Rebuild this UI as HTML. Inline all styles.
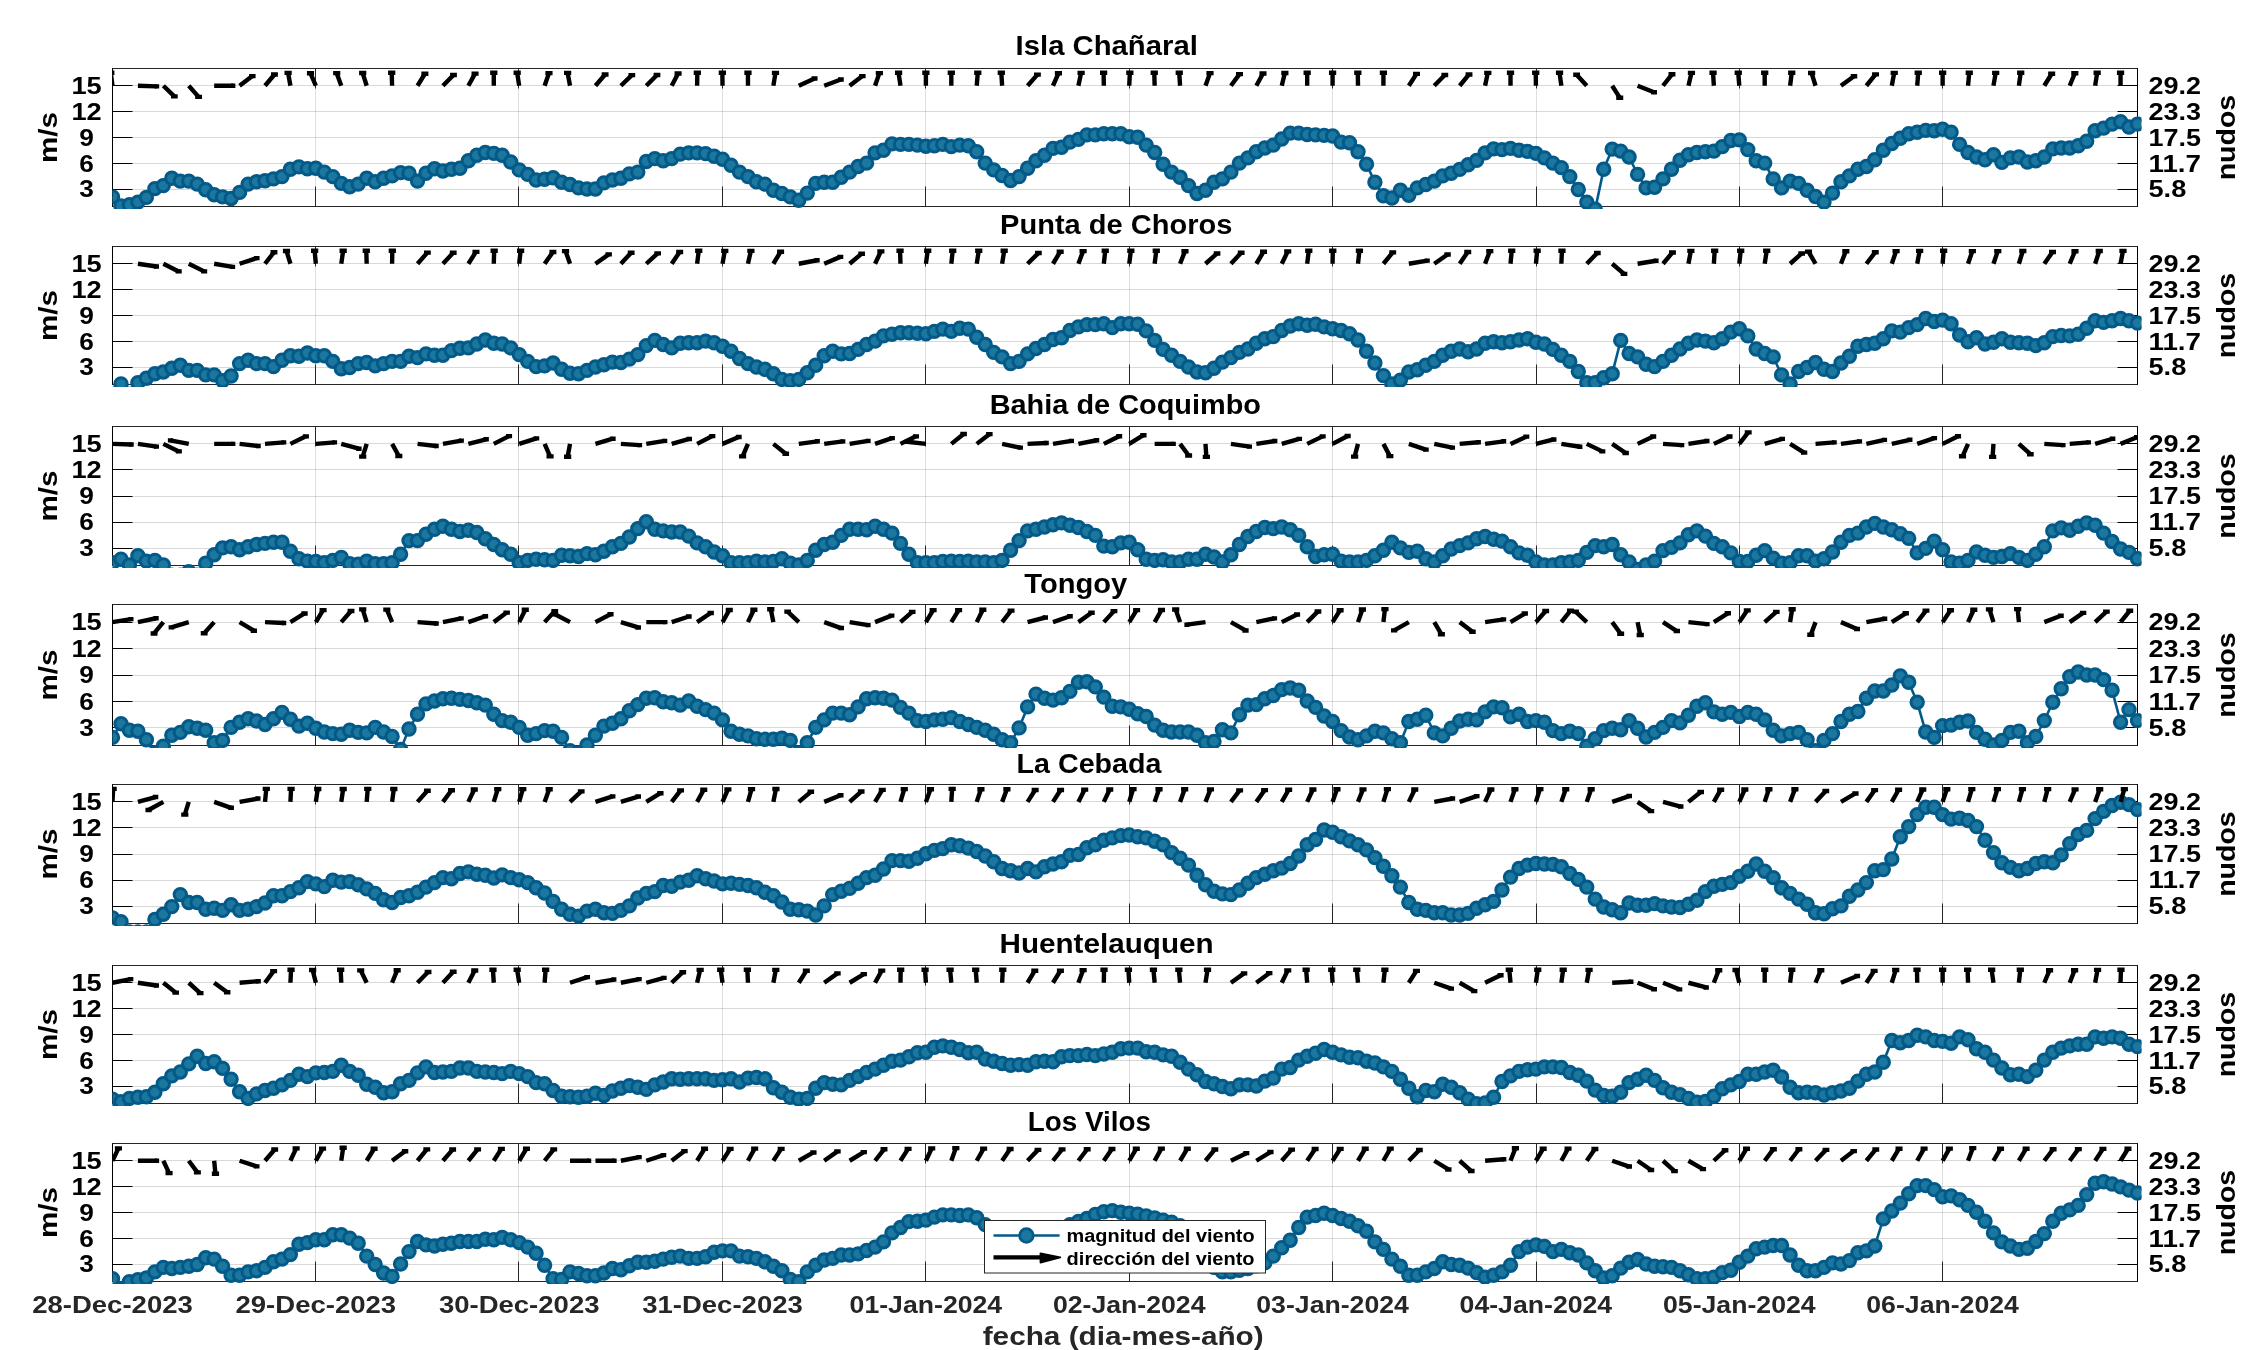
<!DOCTYPE html><html><head><meta charset="utf-8"><style>
html,body{margin:0;padding:0;background:#fff;width:2250px;height:1350px;overflow:hidden}
svg{display:block;will-change:transform}
text{font-family:"Liberation Sans",sans-serif;font-weight:bold}
.tk{font-size:23.7px;fill:#000}
.lb{font-size:26px;fill:#000}
.ti{font-size:27.6px;fill:#000}
.dt{font-size:23.3px;fill:#262626}
.xl{font-size:26px;fill:#262626}
.lg{font-size:17.5px;fill:#000}
</style></head><body><svg width="2250" height="1350" viewBox="0 0 2250 1350">
<defs>
<clipPath id="a0"><rect x="112.5" y="68.5" width="2025.0" height="138"/></clipPath>
<clipPath id="c0"><rect x="112.5" y="66.5" width="2029.0" height="142.5"/></clipPath>
<clipPath id="a1"><rect x="112.5" y="246.5" width="2025.0" height="138"/></clipPath>
<clipPath id="c1"><rect x="112.5" y="244.5" width="2029.0" height="142.5"/></clipPath>
<clipPath id="a2"><rect x="112.5" y="426.5" width="2025.0" height="139"/></clipPath>
<clipPath id="c2"><rect x="112.5" y="424.5" width="2029.0" height="143.5"/></clipPath>
<clipPath id="a3"><rect x="112.5" y="604.5" width="2025.0" height="141"/></clipPath>
<clipPath id="c3"><rect x="112.5" y="602.5" width="2029.0" height="145.5"/></clipPath>
<clipPath id="a4"><rect x="112.5" y="784.5" width="2025.0" height="139"/></clipPath>
<clipPath id="c4"><rect x="112.5" y="782.5" width="2029.0" height="143.5"/></clipPath>
<clipPath id="a5"><rect x="112.5" y="965.5" width="2025.0" height="138"/></clipPath>
<clipPath id="c5"><rect x="112.5" y="963.5" width="2029.0" height="142.5"/></clipPath>
<clipPath id="a6"><rect x="112.5" y="1143.5" width="2025.0" height="138"/></clipPath>
<clipPath id="c6"><rect x="112.5" y="1141.5" width="2029.0" height="142.5"/></clipPath>
</defs>
<rect width="2250" height="1350" fill="#fff"/>
<path d="M112.5 189.5H2137.5M112.5 163.5H2137.5M112.5 137.5H2137.5M112.5 111.5H2137.5M112.5 85.5H2137.5" stroke="#000" stroke-opacity="0.15" stroke-width="1" fill="none"/>
<path d="M315.5 68.5V206.5M518.5 68.5V206.5M722.5 68.5V206.5M925.5 68.5V206.5M1129.5 68.5V206.5M1332.5 68.5V206.5M1536.5 68.5V206.5M1739.5 68.5V206.5M1942.5 68.5V206.5" stroke="#262626" stroke-opacity="0.15" stroke-width="1" fill="none"/>
<path d="M112.0 68.5H2138.0M112.0 206.5H2138.0M112.5 206.5v-20M112.5 68.5v20M315.5 206.5v-20M315.5 68.5v20M518.5 206.5v-20M518.5 68.5v20M722.5 206.5v-20M722.5 68.5v20M925.5 206.5v-20M925.5 68.5v20M1129.5 206.5v-20M1129.5 68.5v20M1332.5 206.5v-20M1332.5 68.5v20M1536.5 206.5v-20M1536.5 68.5v20M1739.5 206.5v-20M1739.5 68.5v20M1942.5 206.5v-20M1942.5 68.5v20" stroke="#262626" stroke-width="1" fill="none"/>
<path d="M112.5 68.5V206.5M2137.5 68.5V206.5M112.5 189.5h20M2137.5 189.5h-20M112.5 163.5h20M2137.5 163.5h-20M112.5 137.5h20M2137.5 137.5h-20M112.5 111.5h20M2137.5 111.5h-20M112.5 85.5h20M2137.5 85.5h-20" stroke="#000" stroke-width="1" fill="none"/>
<g clip-path="url(#c0)">
<path d="M112.5 196.9L121.0 205.9L129.4 204.8L137.9 202.1L146.4 197.4L154.9 188.6L163.3 185.6L171.8 178.2L180.3 181.1L188.8 181.1L197.2 184.1L205.7 189.7L214.2 194.7L222.6 196.9L231.1 198.5L239.6 192.4L248.1 184.1L256.5 181.8L265.0 180.7L273.5 178.9L282.0 176.6L290.4 169.2L298.9 166.9L307.4 168.7L315.8 168.3L324.3 172.1L332.8 176.6L341.3 183.4L349.7 186.8L358.2 184.1L366.7 178.2L375.2 181.8L383.6 178.2L392.1 175.9L400.6 172.6L409.0 173.2L417.5 181.1L426.0 173.2L434.5 168.7L442.9 171.0L451.4 169.2L459.9 168.3L468.4 160.8L476.8 155.2L485.3 152.5L493.8 153.4L502.2 155.2L510.7 162.0L519.2 169.9L527.7 174.4L536.1 180.0L544.6 179.3L553.1 177.8L561.6 182.3L570.0 184.5L578.5 187.9L587.0 189.0L595.4 189.0L603.9 182.9L612.4 180.0L620.9 178.2L629.3 173.9L637.8 172.1L646.3 161.5L654.8 158.6L663.2 160.8L671.7 158.6L680.2 154.1L688.7 152.9L697.1 152.9L705.6 153.6L714.1 156.3L722.5 159.3L731.0 165.3L739.5 172.1L748.0 176.6L756.4 181.8L764.9 184.1L773.4 190.2L781.9 193.5L790.3 196.9L798.8 200.3L807.3 193.1L815.7 183.4L824.2 182.3L832.7 182.3L841.2 177.3L849.6 172.1L858.1 166.5L866.6 163.1L875.1 152.9L883.5 150.2L892.0 143.9L900.5 144.4L908.9 144.4L917.4 145.1L925.9 146.2L934.4 145.7L942.8 144.4L951.3 146.6L959.8 145.1L968.3 145.7L976.7 151.8L985.2 163.1L993.7 169.9L1002.1 175.5L1010.6 180.5L1019.1 176.6L1027.6 168.3L1036.0 160.8L1044.5 155.2L1053.0 148.4L1061.5 147.3L1069.9 142.1L1078.4 139.4L1086.9 134.9L1095.3 134.9L1103.8 133.8L1112.3 133.8L1120.8 133.8L1129.2 136.7L1137.7 137.2L1146.2 145.1L1154.7 152.5L1163.1 164.2L1171.6 172.1L1180.1 177.3L1188.5 185.6L1197.0 193.5L1205.5 190.2L1214.0 182.3L1222.4 178.9L1230.9 172.1L1239.4 163.1L1247.9 157.9L1256.3 151.8L1264.8 148.0L1273.3 145.1L1281.7 139.0L1290.2 133.1L1298.7 133.1L1307.2 134.5L1315.6 134.9L1324.1 135.4L1332.6 136.0L1341.1 142.1L1349.5 142.8L1358.0 151.8L1366.5 164.2L1374.9 182.3L1383.4 195.8L1391.9 198.0L1400.4 190.2L1408.8 195.3L1417.3 187.9L1425.8 184.5L1434.3 181.1L1442.7 175.9L1451.2 173.2L1459.7 169.4L1468.1 164.7L1476.6 160.4L1485.1 152.9L1493.6 148.9L1502.0 149.6L1510.5 148.4L1519.0 150.2L1527.5 151.4L1535.9 153.4L1544.4 157.9L1552.9 163.1L1561.3 167.6L1569.8 176.6L1578.3 189.5L1586.8 202.1L1595.2 209.3L1603.7 169.2L1612.2 149.1L1620.7 151.1L1629.1 157.0L1637.6 174.4L1646.1 187.9L1654.6 187.2L1663.0 178.9L1671.5 169.2L1680.0 160.2L1688.4 154.8L1696.9 152.5L1705.4 151.8L1713.9 151.1L1722.3 146.6L1730.8 140.5L1739.3 139.9L1747.8 149.6L1756.2 160.8L1764.7 163.1L1773.2 178.9L1781.6 187.9L1790.1 181.1L1798.6 183.4L1807.1 190.2L1815.5 196.5L1824.0 202.1L1832.5 193.1L1841.0 181.8L1849.4 175.9L1857.9 169.2L1866.4 166.5L1874.8 159.7L1883.3 150.2L1891.8 143.5L1900.3 138.3L1908.7 133.8L1917.2 132.2L1925.7 130.4L1934.2 130.8L1942.6 129.3L1951.1 132.2L1959.6 144.4L1968.0 152.5L1976.5 157.0L1985.0 159.7L1993.5 154.8L2001.9 162.4L2010.4 157.9L2018.9 157.0L2027.4 162.0L2035.8 160.8L2044.3 157.0L2052.8 148.9L2061.2 148.0L2069.7 148.0L2078.2 145.7L2086.7 141.2L2095.1 130.8L2103.6 128.1L2112.1 124.1L2120.6 121.8L2129.0 127.0L2137.5 124.1" stroke="#035a89" stroke-width="2.6" fill="none"/>
<g fill="#1b779d" stroke="#035a89" stroke-width="3">
<circle cx="112.5" cy="196.9" r="6.2"/>
<circle cx="121.0" cy="205.9" r="6.2"/>
<circle cx="129.4" cy="204.8" r="6.2"/>
<circle cx="137.9" cy="202.1" r="6.2"/>
<circle cx="146.4" cy="197.4" r="6.2"/>
<circle cx="154.9" cy="188.6" r="6.2"/>
<circle cx="163.3" cy="185.6" r="6.2"/>
<circle cx="171.8" cy="178.2" r="6.2"/>
<circle cx="180.3" cy="181.1" r="6.2"/>
<circle cx="188.8" cy="181.1" r="6.2"/>
<circle cx="197.2" cy="184.1" r="6.2"/>
<circle cx="205.7" cy="189.7" r="6.2"/>
<circle cx="214.2" cy="194.7" r="6.2"/>
<circle cx="222.6" cy="196.9" r="6.2"/>
<circle cx="231.1" cy="198.5" r="6.2"/>
<circle cx="239.6" cy="192.4" r="6.2"/>
<circle cx="248.1" cy="184.1" r="6.2"/>
<circle cx="256.5" cy="181.8" r="6.2"/>
<circle cx="265.0" cy="180.7" r="6.2"/>
<circle cx="273.5" cy="178.9" r="6.2"/>
<circle cx="282.0" cy="176.6" r="6.2"/>
<circle cx="290.4" cy="169.2" r="6.2"/>
<circle cx="298.9" cy="166.9" r="6.2"/>
<circle cx="307.4" cy="168.7" r="6.2"/>
<circle cx="315.8" cy="168.3" r="6.2"/>
<circle cx="324.3" cy="172.1" r="6.2"/>
<circle cx="332.8" cy="176.6" r="6.2"/>
<circle cx="341.3" cy="183.4" r="6.2"/>
<circle cx="349.7" cy="186.8" r="6.2"/>
<circle cx="358.2" cy="184.1" r="6.2"/>
<circle cx="366.7" cy="178.2" r="6.2"/>
<circle cx="375.2" cy="181.8" r="6.2"/>
<circle cx="383.6" cy="178.2" r="6.2"/>
<circle cx="392.1" cy="175.9" r="6.2"/>
<circle cx="400.6" cy="172.6" r="6.2"/>
<circle cx="409.0" cy="173.2" r="6.2"/>
<circle cx="417.5" cy="181.1" r="6.2"/>
<circle cx="426.0" cy="173.2" r="6.2"/>
<circle cx="434.5" cy="168.7" r="6.2"/>
<circle cx="442.9" cy="171.0" r="6.2"/>
<circle cx="451.4" cy="169.2" r="6.2"/>
<circle cx="459.9" cy="168.3" r="6.2"/>
<circle cx="468.4" cy="160.8" r="6.2"/>
<circle cx="476.8" cy="155.2" r="6.2"/>
<circle cx="485.3" cy="152.5" r="6.2"/>
<circle cx="493.8" cy="153.4" r="6.2"/>
<circle cx="502.2" cy="155.2" r="6.2"/>
<circle cx="510.7" cy="162.0" r="6.2"/>
<circle cx="519.2" cy="169.9" r="6.2"/>
<circle cx="527.7" cy="174.4" r="6.2"/>
<circle cx="536.1" cy="180.0" r="6.2"/>
<circle cx="544.6" cy="179.3" r="6.2"/>
<circle cx="553.1" cy="177.8" r="6.2"/>
<circle cx="561.6" cy="182.3" r="6.2"/>
<circle cx="570.0" cy="184.5" r="6.2"/>
<circle cx="578.5" cy="187.9" r="6.2"/>
<circle cx="587.0" cy="189.0" r="6.2"/>
<circle cx="595.4" cy="189.0" r="6.2"/>
<circle cx="603.9" cy="182.9" r="6.2"/>
<circle cx="612.4" cy="180.0" r="6.2"/>
<circle cx="620.9" cy="178.2" r="6.2"/>
<circle cx="629.3" cy="173.9" r="6.2"/>
<circle cx="637.8" cy="172.1" r="6.2"/>
<circle cx="646.3" cy="161.5" r="6.2"/>
<circle cx="654.8" cy="158.6" r="6.2"/>
<circle cx="663.2" cy="160.8" r="6.2"/>
<circle cx="671.7" cy="158.6" r="6.2"/>
<circle cx="680.2" cy="154.1" r="6.2"/>
<circle cx="688.7" cy="152.9" r="6.2"/>
<circle cx="697.1" cy="152.9" r="6.2"/>
<circle cx="705.6" cy="153.6" r="6.2"/>
<circle cx="714.1" cy="156.3" r="6.2"/>
<circle cx="722.5" cy="159.3" r="6.2"/>
<circle cx="731.0" cy="165.3" r="6.2"/>
<circle cx="739.5" cy="172.1" r="6.2"/>
<circle cx="748.0" cy="176.6" r="6.2"/>
<circle cx="756.4" cy="181.8" r="6.2"/>
<circle cx="764.9" cy="184.1" r="6.2"/>
<circle cx="773.4" cy="190.2" r="6.2"/>
<circle cx="781.9" cy="193.5" r="6.2"/>
<circle cx="790.3" cy="196.9" r="6.2"/>
<circle cx="798.8" cy="200.3" r="6.2"/>
<circle cx="807.3" cy="193.1" r="6.2"/>
<circle cx="815.7" cy="183.4" r="6.2"/>
<circle cx="824.2" cy="182.3" r="6.2"/>
<circle cx="832.7" cy="182.3" r="6.2"/>
<circle cx="841.2" cy="177.3" r="6.2"/>
<circle cx="849.6" cy="172.1" r="6.2"/>
<circle cx="858.1" cy="166.5" r="6.2"/>
<circle cx="866.6" cy="163.1" r="6.2"/>
<circle cx="875.1" cy="152.9" r="6.2"/>
<circle cx="883.5" cy="150.2" r="6.2"/>
<circle cx="892.0" cy="143.9" r="6.2"/>
<circle cx="900.5" cy="144.4" r="6.2"/>
<circle cx="908.9" cy="144.4" r="6.2"/>
<circle cx="917.4" cy="145.1" r="6.2"/>
<circle cx="925.9" cy="146.2" r="6.2"/>
<circle cx="934.4" cy="145.7" r="6.2"/>
<circle cx="942.8" cy="144.4" r="6.2"/>
<circle cx="951.3" cy="146.6" r="6.2"/>
<circle cx="959.8" cy="145.1" r="6.2"/>
<circle cx="968.3" cy="145.7" r="6.2"/>
<circle cx="976.7" cy="151.8" r="6.2"/>
<circle cx="985.2" cy="163.1" r="6.2"/>
<circle cx="993.7" cy="169.9" r="6.2"/>
<circle cx="1002.1" cy="175.5" r="6.2"/>
<circle cx="1010.6" cy="180.5" r="6.2"/>
<circle cx="1019.1" cy="176.6" r="6.2"/>
<circle cx="1027.6" cy="168.3" r="6.2"/>
<circle cx="1036.0" cy="160.8" r="6.2"/>
<circle cx="1044.5" cy="155.2" r="6.2"/>
<circle cx="1053.0" cy="148.4" r="6.2"/>
<circle cx="1061.5" cy="147.3" r="6.2"/>
<circle cx="1069.9" cy="142.1" r="6.2"/>
<circle cx="1078.4" cy="139.4" r="6.2"/>
<circle cx="1086.9" cy="134.9" r="6.2"/>
<circle cx="1095.3" cy="134.9" r="6.2"/>
<circle cx="1103.8" cy="133.8" r="6.2"/>
<circle cx="1112.3" cy="133.8" r="6.2"/>
<circle cx="1120.8" cy="133.8" r="6.2"/>
<circle cx="1129.2" cy="136.7" r="6.2"/>
<circle cx="1137.7" cy="137.2" r="6.2"/>
<circle cx="1146.2" cy="145.1" r="6.2"/>
<circle cx="1154.7" cy="152.5" r="6.2"/>
<circle cx="1163.1" cy="164.2" r="6.2"/>
<circle cx="1171.6" cy="172.1" r="6.2"/>
<circle cx="1180.1" cy="177.3" r="6.2"/>
<circle cx="1188.5" cy="185.6" r="6.2"/>
<circle cx="1197.0" cy="193.5" r="6.2"/>
<circle cx="1205.5" cy="190.2" r="6.2"/>
<circle cx="1214.0" cy="182.3" r="6.2"/>
<circle cx="1222.4" cy="178.9" r="6.2"/>
<circle cx="1230.9" cy="172.1" r="6.2"/>
<circle cx="1239.4" cy="163.1" r="6.2"/>
<circle cx="1247.9" cy="157.9" r="6.2"/>
<circle cx="1256.3" cy="151.8" r="6.2"/>
<circle cx="1264.8" cy="148.0" r="6.2"/>
<circle cx="1273.3" cy="145.1" r="6.2"/>
<circle cx="1281.7" cy="139.0" r="6.2"/>
<circle cx="1290.2" cy="133.1" r="6.2"/>
<circle cx="1298.7" cy="133.1" r="6.2"/>
<circle cx="1307.2" cy="134.5" r="6.2"/>
<circle cx="1315.6" cy="134.9" r="6.2"/>
<circle cx="1324.1" cy="135.4" r="6.2"/>
<circle cx="1332.6" cy="136.0" r="6.2"/>
<circle cx="1341.1" cy="142.1" r="6.2"/>
<circle cx="1349.5" cy="142.8" r="6.2"/>
<circle cx="1358.0" cy="151.8" r="6.2"/>
<circle cx="1366.5" cy="164.2" r="6.2"/>
<circle cx="1374.9" cy="182.3" r="6.2"/>
<circle cx="1383.4" cy="195.8" r="6.2"/>
<circle cx="1391.9" cy="198.0" r="6.2"/>
<circle cx="1400.4" cy="190.2" r="6.2"/>
<circle cx="1408.8" cy="195.3" r="6.2"/>
<circle cx="1417.3" cy="187.9" r="6.2"/>
<circle cx="1425.8" cy="184.5" r="6.2"/>
<circle cx="1434.3" cy="181.1" r="6.2"/>
<circle cx="1442.7" cy="175.9" r="6.2"/>
<circle cx="1451.2" cy="173.2" r="6.2"/>
<circle cx="1459.7" cy="169.4" r="6.2"/>
<circle cx="1468.1" cy="164.7" r="6.2"/>
<circle cx="1476.6" cy="160.4" r="6.2"/>
<circle cx="1485.1" cy="152.9" r="6.2"/>
<circle cx="1493.6" cy="148.9" r="6.2"/>
<circle cx="1502.0" cy="149.6" r="6.2"/>
<circle cx="1510.5" cy="148.4" r="6.2"/>
<circle cx="1519.0" cy="150.2" r="6.2"/>
<circle cx="1527.5" cy="151.4" r="6.2"/>
<circle cx="1535.9" cy="153.4" r="6.2"/>
<circle cx="1544.4" cy="157.9" r="6.2"/>
<circle cx="1552.9" cy="163.1" r="6.2"/>
<circle cx="1561.3" cy="167.6" r="6.2"/>
<circle cx="1569.8" cy="176.6" r="6.2"/>
<circle cx="1578.3" cy="189.5" r="6.2"/>
<circle cx="1586.8" cy="202.1" r="6.2"/>
<circle cx="1595.2" cy="209.3" r="6.2"/>
<circle cx="1603.7" cy="169.2" r="6.2"/>
<circle cx="1612.2" cy="149.1" r="6.2"/>
<circle cx="1620.7" cy="151.1" r="6.2"/>
<circle cx="1629.1" cy="157.0" r="6.2"/>
<circle cx="1637.6" cy="174.4" r="6.2"/>
<circle cx="1646.1" cy="187.9" r="6.2"/>
<circle cx="1654.6" cy="187.2" r="6.2"/>
<circle cx="1663.0" cy="178.9" r="6.2"/>
<circle cx="1671.5" cy="169.2" r="6.2"/>
<circle cx="1680.0" cy="160.2" r="6.2"/>
<circle cx="1688.4" cy="154.8" r="6.2"/>
<circle cx="1696.9" cy="152.5" r="6.2"/>
<circle cx="1705.4" cy="151.8" r="6.2"/>
<circle cx="1713.9" cy="151.1" r="6.2"/>
<circle cx="1722.3" cy="146.6" r="6.2"/>
<circle cx="1730.8" cy="140.5" r="6.2"/>
<circle cx="1739.3" cy="139.9" r="6.2"/>
<circle cx="1747.8" cy="149.6" r="6.2"/>
<circle cx="1756.2" cy="160.8" r="6.2"/>
<circle cx="1764.7" cy="163.1" r="6.2"/>
<circle cx="1773.2" cy="178.9" r="6.2"/>
<circle cx="1781.6" cy="187.9" r="6.2"/>
<circle cx="1790.1" cy="181.1" r="6.2"/>
<circle cx="1798.6" cy="183.4" r="6.2"/>
<circle cx="1807.1" cy="190.2" r="6.2"/>
<circle cx="1815.5" cy="196.5" r="6.2"/>
<circle cx="1824.0" cy="202.1" r="6.2"/>
<circle cx="1832.5" cy="193.1" r="6.2"/>
<circle cx="1841.0" cy="181.8" r="6.2"/>
<circle cx="1849.4" cy="175.9" r="6.2"/>
<circle cx="1857.9" cy="169.2" r="6.2"/>
<circle cx="1866.4" cy="166.5" r="6.2"/>
<circle cx="1874.8" cy="159.7" r="6.2"/>
<circle cx="1883.3" cy="150.2" r="6.2"/>
<circle cx="1891.8" cy="143.5" r="6.2"/>
<circle cx="1900.3" cy="138.3" r="6.2"/>
<circle cx="1908.7" cy="133.8" r="6.2"/>
<circle cx="1917.2" cy="132.2" r="6.2"/>
<circle cx="1925.7" cy="130.4" r="6.2"/>
<circle cx="1934.2" cy="130.8" r="6.2"/>
<circle cx="1942.6" cy="129.3" r="6.2"/>
<circle cx="1951.1" cy="132.2" r="6.2"/>
<circle cx="1959.6" cy="144.4" r="6.2"/>
<circle cx="1968.0" cy="152.5" r="6.2"/>
<circle cx="1976.5" cy="157.0" r="6.2"/>
<circle cx="1985.0" cy="159.7" r="6.2"/>
<circle cx="1993.5" cy="154.8" r="6.2"/>
<circle cx="2001.9" cy="162.4" r="6.2"/>
<circle cx="2010.4" cy="157.9" r="6.2"/>
<circle cx="2018.9" cy="157.0" r="6.2"/>
<circle cx="2027.4" cy="162.0" r="6.2"/>
<circle cx="2035.8" cy="160.8" r="6.2"/>
<circle cx="2044.3" cy="157.0" r="6.2"/>
<circle cx="2052.8" cy="148.9" r="6.2"/>
<circle cx="2061.2" cy="148.0" r="6.2"/>
<circle cx="2069.7" cy="148.0" r="6.2"/>
<circle cx="2078.2" cy="145.7" r="6.2"/>
<circle cx="2086.7" cy="141.2" r="6.2"/>
<circle cx="2095.1" cy="130.8" r="6.2"/>
<circle cx="2103.6" cy="128.1" r="6.2"/>
<circle cx="2112.1" cy="124.1" r="6.2"/>
<circle cx="2120.6" cy="121.8" r="6.2"/>
<circle cx="2129.0" cy="127.0" r="6.2"/>
<circle cx="2137.5" cy="124.1" r="6.2"/>
</g></g>
<g clip-path="url(#a0)"><path d="M112.50 85.75L110.79 72.80M137.92 85.75L156.89 86.42M163.34 85.75L174.33 96.35M188.76 85.75L198.61 96.87M214.17 85.75L233.17 85.75M239.59 85.75L252.32 76.10M265.01 85.75L274.45 74.47M290.43 85.75L288.09 72.85M315.85 85.75L310.50 73.28M341.27 85.75L336.72 73.13M366.68 85.75L362.70 73.04M392.10 85.75L391.70 72.75M417.52 85.75L424.89 73.77M442.94 85.75L453.49 74.94M468.36 85.75L475.04 73.58M493.78 85.75L493.78 72.75M519.19 85.75L517.17 72.82M544.61 85.75L548.97 73.10M570.03 85.75L567.61 72.86M595.45 85.75L605.12 74.56M620.87 85.75L631.84 75.14M646.29 85.75L656.99 75.01M671.71 85.75L678.08 73.50M697.12 85.75L697.33 72.75M722.54 85.75L722.34 72.75M747.96 85.75L747.96 72.75M773.38 85.75L775.47 72.83M798.80 85.75L814.53 78.46M824.22 85.75L840.88 79.51M849.63 85.75L862.37 76.10M875.05 85.75L879.36 73.09M900.47 85.75L898.58 72.81M925.89 85.75L925.89 72.75M951.31 85.75L951.31 72.75M976.73 85.75L977.78 72.77M1002.14 85.75L1001.30 72.76M1027.56 85.75L1037.42 74.64M1052.98 85.75L1058.44 73.30M1078.40 85.75L1081.11 72.88M1103.82 85.75L1103.61 72.75M1129.24 85.75L1129.85 72.76M1154.65 85.75L1154.25 72.75M1180.07 85.75L1179.26 72.76M1205.49 85.75L1209.99 73.12M1230.91 85.75L1239.51 74.16M1256.33 85.75L1262.98 73.57M1281.75 85.75L1284.86 72.93M1307.17 85.75L1307.17 72.75M1332.58 85.75L1332.58 72.75M1358.00 85.75L1357.80 72.75M1383.42 85.75L1383.42 72.75M1408.84 85.75L1416.49 73.85M1434.26 85.75L1444.82 74.94M1459.68 85.75L1469.01 74.43M1485.09 85.75L1487.80 72.88M1510.51 85.75L1510.51 72.75M1535.93 85.75L1535.73 72.75M1561.35 85.75L1559.53 72.81M1586.77 85.75L1576.62 74.76M1612.19 85.75L1619.73 97.68M1637.60 85.75L1654.06 92.25M1663.02 85.75L1671.97 74.28M1688.44 85.75L1691.46 72.91M1713.86 85.75L1713.05 72.76M1739.28 85.75L1738.26 72.77M1764.70 85.75L1764.70 72.75M1790.12 85.75L1791.74 72.80M1815.53 85.75L1811.62 73.03M1840.95 85.75L1853.99 76.30M1866.37 85.75L1875.52 74.36M1891.79 85.75L1894.21 72.86M1917.21 85.75L1918.22 72.77M1942.63 85.75L1942.63 72.75M1968.04 85.75L1969.26 72.78M1993.46 85.75L1995.69 72.84M2018.88 85.75L2020.70 72.81M2044.30 85.75L2051.67 73.77M2069.72 85.75L2074.82 73.23M2095.14 85.75L2097.16 72.82M2120.55 85.75L2120.55 72.75" stroke="#000" stroke-width="4.4" fill="none"/><path d="M107.17 70.60h7.25v4.4h-7.25ZM154.62 84.22h4.55v4.4h-4.55ZM170.97 94.15h6.73v4.4h-6.73ZM195.19 94.67h6.85v4.4h-6.85ZM230.97 83.55h4.40v4.4h-4.40ZM249.06 73.90h6.52v4.4h-6.52ZM271.01 72.27h6.88v4.4h-6.88ZM284.47 70.65h7.24v4.4h-7.24ZM306.93 71.08h7.14v4.4h-7.14ZM333.13 70.93h7.18v4.4h-7.18ZM359.10 70.84h7.20v4.4h-7.20ZM388.07 70.55h7.26v4.4h-7.26ZM421.37 71.57h7.04v4.4h-7.04ZM450.10 72.74h6.78v4.4h-6.78ZM471.51 71.38h7.08v4.4h-7.08ZM490.15 70.55h7.26v4.4h-7.26ZM513.55 70.62h7.24v4.4h-7.24ZM545.38 70.90h7.18v4.4h-7.18ZM563.99 70.66h7.24v4.4h-7.24ZM601.69 72.36h6.86v4.4h-6.86ZM628.47 72.94h6.74v4.4h-6.74ZM653.60 72.81h6.76v4.4h-6.76ZM674.53 71.30h7.09v4.4h-7.09ZM693.70 70.55h7.26v4.4h-7.26ZM718.71 70.55h7.26v4.4h-7.26ZM744.33 70.55h7.26v4.4h-7.26ZM771.85 70.63h7.24v4.4h-7.24ZM811.53 76.26h6.00v4.4h-6.00ZM838.00 77.31h5.77v4.4h-5.77ZM859.10 73.90h6.52v4.4h-6.52ZM875.77 70.89h7.19v4.4h-7.19ZM894.96 70.61h7.25v4.4h-7.25ZM922.26 70.55h7.26v4.4h-7.26ZM947.68 70.55h7.26v4.4h-7.26ZM974.15 70.57h7.26v4.4h-7.26ZM997.67 70.56h7.26v4.4h-7.26ZM1034.00 72.44h6.84v4.4h-6.84ZM1054.87 71.10h7.14v4.4h-7.14ZM1077.49 70.68h7.23v4.4h-7.23ZM1099.98 70.55h7.26v4.4h-7.26ZM1126.22 70.56h7.26v4.4h-7.26ZM1150.62 70.55h7.26v4.4h-7.26ZM1175.63 70.56h7.26v4.4h-7.26ZM1206.40 70.92h7.18v4.4h-7.18ZM1236.03 71.96h6.95v4.4h-6.95ZM1259.45 71.37h7.08v4.4h-7.08ZM1281.25 70.73h7.22v4.4h-7.22ZM1303.54 70.55h7.26v4.4h-7.26ZM1328.95 70.55h7.26v4.4h-7.26ZM1354.17 70.55h7.26v4.4h-7.26ZM1379.79 70.55h7.26v4.4h-7.26ZM1412.98 71.65h7.02v4.4h-7.02ZM1441.43 72.74h6.78v4.4h-6.78ZM1465.56 72.23h6.89v4.4h-6.89ZM1484.19 70.68h7.23v4.4h-7.23ZM1506.88 70.55h7.26v4.4h-7.26ZM1532.10 70.55h7.26v4.4h-7.26ZM1555.90 70.61h7.25v4.4h-7.25ZM1573.21 72.56h6.82v4.4h-6.82ZM1616.22 95.48h7.03v4.4h-7.03ZM1651.15 90.05h5.83v4.4h-5.83ZM1668.51 72.08h6.92v4.4h-6.92ZM1687.84 70.71h7.22v4.4h-7.22ZM1709.42 70.56h7.26v4.4h-7.26ZM1734.63 70.57h7.26v4.4h-7.26ZM1761.07 70.55h7.26v4.4h-7.26ZM1788.11 70.60h7.25v4.4h-7.25ZM1808.02 70.83h7.20v4.4h-7.20ZM1850.75 74.10h6.48v4.4h-6.48ZM1872.07 72.16h6.91v4.4h-6.91ZM1890.59 70.66h7.24v4.4h-7.24ZM1914.60 70.57h7.26v4.4h-7.26ZM1939.00 70.55h7.26v4.4h-7.26ZM1965.64 70.58h7.25v4.4h-7.25ZM1992.07 70.64h7.24v4.4h-7.24ZM2017.08 70.61h7.25v4.4h-7.25ZM2048.15 71.57h7.04v4.4h-7.04ZM2071.24 71.03h7.16v4.4h-7.16ZM2093.54 70.62h7.24v4.4h-7.24ZM2116.92 70.55h7.26v4.4h-7.26Z" fill="#000"/></g>
<text x="79.30" y="197.3" class="tk" textLength="14.6" lengthAdjust="spacingAndGlyphs">3</text>
<text x="2148.5" y="197.3" class="tk" textLength="37.8" lengthAdjust="spacingAndGlyphs">5.8</text>
<text x="79.30" y="171.5" class="tk" textLength="14.6" lengthAdjust="spacingAndGlyphs">6</text>
<text x="2148.5" y="171.5" class="tk" textLength="52.5" lengthAdjust="spacingAndGlyphs">11.7</text>
<text x="79.30" y="145.6" class="tk" textLength="14.6" lengthAdjust="spacingAndGlyphs">9</text>
<text x="2148.5" y="145.6" class="tk" textLength="52.5" lengthAdjust="spacingAndGlyphs">17.5</text>
<text x="71.45" y="119.7" class="tk" textLength="30.3" lengthAdjust="spacingAndGlyphs">12</text>
<text x="2148.5" y="119.7" class="tk" textLength="52.5" lengthAdjust="spacingAndGlyphs">23.3</text>
<text x="71.45" y="93.8" class="tk" textLength="30.3" lengthAdjust="spacingAndGlyphs">15</text>
<text x="2148.5" y="93.8" class="tk" textLength="52.5" lengthAdjust="spacingAndGlyphs">29.2</text>
<text transform="translate(57.2 137.5) rotate(-90)" class="lb" textLength="51" lengthAdjust="spacingAndGlyphs" x="-25.5">m/s</text>
<text transform="translate(2235 137.5) rotate(-90)" class="lb" textLength="85.5" lengthAdjust="spacingAndGlyphs" x="-42.8">nudos</text>
<text x="1015.6" y="55.0" class="ti" textLength="182.2" lengthAdjust="spacingAndGlyphs">Isla Chañaral</text>
<path d="M112.5 367.5H2137.5M112.5 341.5H2137.5M112.5 315.5H2137.5M112.5 289.5H2137.5M112.5 263.5H2137.5" stroke="#000" stroke-opacity="0.15" stroke-width="1" fill="none"/>
<path d="M315.5 246.5V384.5M518.5 246.5V384.5M722.5 246.5V384.5M925.5 246.5V384.5M1129.5 246.5V384.5M1332.5 246.5V384.5M1536.5 246.5V384.5M1739.5 246.5V384.5M1942.5 246.5V384.5" stroke="#262626" stroke-opacity="0.15" stroke-width="1" fill="none"/>
<path d="M112.0 246.5H2138.0M112.0 384.5H2138.0M112.5 384.5v-20M112.5 246.5v20M315.5 384.5v-20M315.5 246.5v20M518.5 384.5v-20M518.5 246.5v20M722.5 384.5v-20M722.5 246.5v20M925.5 384.5v-20M925.5 246.5v20M1129.5 384.5v-20M1129.5 246.5v20M1332.5 384.5v-20M1332.5 246.5v20M1536.5 384.5v-20M1536.5 246.5v20M1739.5 384.5v-20M1739.5 246.5v20M1942.5 384.5v-20M1942.5 246.5v20" stroke="#262626" stroke-width="1" fill="none"/>
<path d="M112.5 246.5V384.5M2137.5 246.5V384.5M112.5 367.5h20M2137.5 367.5h-20M112.5 341.5h20M2137.5 341.5h-20M112.5 315.5h20M2137.5 315.5h-20M112.5 289.5h20M2137.5 289.5h-20M112.5 263.5h20M2137.5 263.5h-20" stroke="#000" stroke-width="1" fill="none"/>
<g clip-path="url(#c1)">
<path d="M112.5 394.1L121.0 383.9L129.4 394.1L137.9 382.8L146.4 378.3L154.9 373.8L163.3 372.0L171.8 368.2L180.3 365.2L188.8 370.4L197.2 370.4L205.7 374.9L214.2 374.9L222.6 380.6L231.1 376.0L239.6 363.6L248.1 360.3L256.5 363.6L265.0 363.6L273.5 366.6L282.0 360.3L290.4 355.8L298.9 356.2L307.4 353.0L315.8 355.8L324.3 355.8L332.8 361.4L341.3 368.8L349.7 367.5L358.2 363.6L366.7 362.5L375.2 365.9L383.6 363.6L392.1 361.4L400.6 361.4L409.0 356.2L417.5 357.6L426.0 353.9L434.5 355.3L442.9 355.3L451.4 350.6L459.9 348.3L468.4 347.9L476.8 344.0L485.3 340.0L493.8 343.3L502.2 344.0L510.7 347.9L519.2 354.6L527.7 361.4L536.1 366.6L544.6 365.9L553.1 363.0L561.6 369.3L570.0 373.3L578.5 373.8L587.0 370.4L595.4 367.0L603.9 364.8L612.4 362.1L620.9 362.5L629.3 359.1L637.8 354.6L646.3 345.6L654.8 340.4L663.2 344.5L671.7 347.9L680.2 343.3L688.7 342.7L697.1 342.7L705.6 341.1L714.1 342.7L722.5 346.3L731.0 351.2L739.5 358.5L748.0 363.6L756.4 367.0L764.9 369.3L773.4 373.8L781.9 379.4L790.3 380.6L798.8 379.4L807.3 372.7L815.7 365.2L824.2 355.8L832.7 351.2L841.2 353.9L849.6 353.5L858.1 349.4L866.6 344.5L875.1 341.1L883.5 335.9L892.0 334.3L900.5 332.8L908.9 332.8L917.4 333.2L925.9 333.7L934.4 331.4L942.8 329.1L951.3 331.4L959.8 328.2L968.3 329.1L976.7 337.3L985.2 344.5L993.7 352.4L1002.1 356.9L1010.6 363.6L1019.1 361.4L1027.6 353.9L1036.0 348.5L1044.5 344.5L1053.0 339.5L1061.5 337.7L1069.9 330.5L1078.4 326.9L1086.9 324.6L1095.3 324.6L1103.8 323.7L1112.3 327.6L1120.8 323.7L1129.2 323.7L1137.7 324.2L1146.2 330.9L1154.7 340.4L1163.1 349.4L1171.6 355.3L1180.1 361.4L1188.5 367.0L1197.0 372.0L1205.5 372.7L1214.0 368.2L1222.4 362.1L1230.9 357.6L1239.4 352.4L1247.9 349.0L1256.3 343.3L1264.8 338.8L1273.3 336.6L1281.7 330.5L1290.2 326.0L1298.7 323.7L1307.2 325.3L1315.6 324.2L1324.1 326.9L1332.6 328.7L1341.1 330.5L1349.5 333.7L1358.0 340.0L1366.5 351.2L1374.9 363.0L1383.4 375.6L1391.9 383.9L1400.4 380.1L1408.8 372.0L1417.3 369.7L1425.8 365.2L1434.3 361.4L1442.7 355.3L1451.2 351.2L1459.7 349.0L1468.1 351.7L1476.6 349.0L1485.1 343.3L1493.6 341.8L1502.0 342.7L1510.5 341.8L1519.0 340.0L1527.5 338.8L1535.9 342.2L1544.4 344.0L1552.9 349.4L1561.3 355.3L1569.8 361.4L1578.3 371.5L1586.8 382.8L1595.2 382.8L1603.7 377.8L1612.2 373.8L1620.7 340.4L1629.1 353.5L1637.6 356.9L1646.1 364.3L1654.6 366.6L1663.0 361.4L1671.5 355.3L1680.0 349.0L1688.4 343.3L1696.9 340.0L1705.4 341.1L1713.9 342.7L1722.3 338.8L1730.8 332.1L1739.3 328.7L1747.8 335.9L1756.2 349.0L1764.7 353.5L1773.2 356.9L1781.6 374.9L1790.1 383.9L1798.6 371.5L1807.1 367.5L1815.5 362.5L1824.0 369.3L1832.5 371.5L1841.0 363.0L1849.4 356.2L1857.9 346.3L1866.4 344.5L1874.8 343.3L1883.3 338.8L1891.8 330.9L1900.3 332.1L1908.7 327.6L1917.2 324.6L1925.7 318.5L1934.2 321.5L1942.6 320.1L1951.1 323.7L1959.6 335.0L1968.0 341.8L1976.5 337.7L1985.0 344.0L1993.5 342.2L2001.9 338.8L2010.4 342.2L2018.9 342.7L2027.4 343.3L2035.8 345.6L2044.3 342.7L2052.8 336.6L2061.2 335.5L2069.7 335.9L2078.2 334.3L2086.7 328.2L2095.1 320.8L2103.6 322.4L2112.1 320.8L2120.6 318.5L2129.0 320.8L2137.5 323.1" stroke="#035a89" stroke-width="2.6" fill="none"/>
<g fill="#1b779d" stroke="#035a89" stroke-width="3">
<circle cx="112.5" cy="394.1" r="6.2"/>
<circle cx="121.0" cy="383.9" r="6.2"/>
<circle cx="129.4" cy="394.1" r="6.2"/>
<circle cx="137.9" cy="382.8" r="6.2"/>
<circle cx="146.4" cy="378.3" r="6.2"/>
<circle cx="154.9" cy="373.8" r="6.2"/>
<circle cx="163.3" cy="372.0" r="6.2"/>
<circle cx="171.8" cy="368.2" r="6.2"/>
<circle cx="180.3" cy="365.2" r="6.2"/>
<circle cx="188.8" cy="370.4" r="6.2"/>
<circle cx="197.2" cy="370.4" r="6.2"/>
<circle cx="205.7" cy="374.9" r="6.2"/>
<circle cx="214.2" cy="374.9" r="6.2"/>
<circle cx="222.6" cy="380.6" r="6.2"/>
<circle cx="231.1" cy="376.0" r="6.2"/>
<circle cx="239.6" cy="363.6" r="6.2"/>
<circle cx="248.1" cy="360.3" r="6.2"/>
<circle cx="256.5" cy="363.6" r="6.2"/>
<circle cx="265.0" cy="363.6" r="6.2"/>
<circle cx="273.5" cy="366.6" r="6.2"/>
<circle cx="282.0" cy="360.3" r="6.2"/>
<circle cx="290.4" cy="355.8" r="6.2"/>
<circle cx="298.9" cy="356.2" r="6.2"/>
<circle cx="307.4" cy="353.0" r="6.2"/>
<circle cx="315.8" cy="355.8" r="6.2"/>
<circle cx="324.3" cy="355.8" r="6.2"/>
<circle cx="332.8" cy="361.4" r="6.2"/>
<circle cx="341.3" cy="368.8" r="6.2"/>
<circle cx="349.7" cy="367.5" r="6.2"/>
<circle cx="358.2" cy="363.6" r="6.2"/>
<circle cx="366.7" cy="362.5" r="6.2"/>
<circle cx="375.2" cy="365.9" r="6.2"/>
<circle cx="383.6" cy="363.6" r="6.2"/>
<circle cx="392.1" cy="361.4" r="6.2"/>
<circle cx="400.6" cy="361.4" r="6.2"/>
<circle cx="409.0" cy="356.2" r="6.2"/>
<circle cx="417.5" cy="357.6" r="6.2"/>
<circle cx="426.0" cy="353.9" r="6.2"/>
<circle cx="434.5" cy="355.3" r="6.2"/>
<circle cx="442.9" cy="355.3" r="6.2"/>
<circle cx="451.4" cy="350.6" r="6.2"/>
<circle cx="459.9" cy="348.3" r="6.2"/>
<circle cx="468.4" cy="347.9" r="6.2"/>
<circle cx="476.8" cy="344.0" r="6.2"/>
<circle cx="485.3" cy="340.0" r="6.2"/>
<circle cx="493.8" cy="343.3" r="6.2"/>
<circle cx="502.2" cy="344.0" r="6.2"/>
<circle cx="510.7" cy="347.9" r="6.2"/>
<circle cx="519.2" cy="354.6" r="6.2"/>
<circle cx="527.7" cy="361.4" r="6.2"/>
<circle cx="536.1" cy="366.6" r="6.2"/>
<circle cx="544.6" cy="365.9" r="6.2"/>
<circle cx="553.1" cy="363.0" r="6.2"/>
<circle cx="561.6" cy="369.3" r="6.2"/>
<circle cx="570.0" cy="373.3" r="6.2"/>
<circle cx="578.5" cy="373.8" r="6.2"/>
<circle cx="587.0" cy="370.4" r="6.2"/>
<circle cx="595.4" cy="367.0" r="6.2"/>
<circle cx="603.9" cy="364.8" r="6.2"/>
<circle cx="612.4" cy="362.1" r="6.2"/>
<circle cx="620.9" cy="362.5" r="6.2"/>
<circle cx="629.3" cy="359.1" r="6.2"/>
<circle cx="637.8" cy="354.6" r="6.2"/>
<circle cx="646.3" cy="345.6" r="6.2"/>
<circle cx="654.8" cy="340.4" r="6.2"/>
<circle cx="663.2" cy="344.5" r="6.2"/>
<circle cx="671.7" cy="347.9" r="6.2"/>
<circle cx="680.2" cy="343.3" r="6.2"/>
<circle cx="688.7" cy="342.7" r="6.2"/>
<circle cx="697.1" cy="342.7" r="6.2"/>
<circle cx="705.6" cy="341.1" r="6.2"/>
<circle cx="714.1" cy="342.7" r="6.2"/>
<circle cx="722.5" cy="346.3" r="6.2"/>
<circle cx="731.0" cy="351.2" r="6.2"/>
<circle cx="739.5" cy="358.5" r="6.2"/>
<circle cx="748.0" cy="363.6" r="6.2"/>
<circle cx="756.4" cy="367.0" r="6.2"/>
<circle cx="764.9" cy="369.3" r="6.2"/>
<circle cx="773.4" cy="373.8" r="6.2"/>
<circle cx="781.9" cy="379.4" r="6.2"/>
<circle cx="790.3" cy="380.6" r="6.2"/>
<circle cx="798.8" cy="379.4" r="6.2"/>
<circle cx="807.3" cy="372.7" r="6.2"/>
<circle cx="815.7" cy="365.2" r="6.2"/>
<circle cx="824.2" cy="355.8" r="6.2"/>
<circle cx="832.7" cy="351.2" r="6.2"/>
<circle cx="841.2" cy="353.9" r="6.2"/>
<circle cx="849.6" cy="353.5" r="6.2"/>
<circle cx="858.1" cy="349.4" r="6.2"/>
<circle cx="866.6" cy="344.5" r="6.2"/>
<circle cx="875.1" cy="341.1" r="6.2"/>
<circle cx="883.5" cy="335.9" r="6.2"/>
<circle cx="892.0" cy="334.3" r="6.2"/>
<circle cx="900.5" cy="332.8" r="6.2"/>
<circle cx="908.9" cy="332.8" r="6.2"/>
<circle cx="917.4" cy="333.2" r="6.2"/>
<circle cx="925.9" cy="333.7" r="6.2"/>
<circle cx="934.4" cy="331.4" r="6.2"/>
<circle cx="942.8" cy="329.1" r="6.2"/>
<circle cx="951.3" cy="331.4" r="6.2"/>
<circle cx="959.8" cy="328.2" r="6.2"/>
<circle cx="968.3" cy="329.1" r="6.2"/>
<circle cx="976.7" cy="337.3" r="6.2"/>
<circle cx="985.2" cy="344.5" r="6.2"/>
<circle cx="993.7" cy="352.4" r="6.2"/>
<circle cx="1002.1" cy="356.9" r="6.2"/>
<circle cx="1010.6" cy="363.6" r="6.2"/>
<circle cx="1019.1" cy="361.4" r="6.2"/>
<circle cx="1027.6" cy="353.9" r="6.2"/>
<circle cx="1036.0" cy="348.5" r="6.2"/>
<circle cx="1044.5" cy="344.5" r="6.2"/>
<circle cx="1053.0" cy="339.5" r="6.2"/>
<circle cx="1061.5" cy="337.7" r="6.2"/>
<circle cx="1069.9" cy="330.5" r="6.2"/>
<circle cx="1078.4" cy="326.9" r="6.2"/>
<circle cx="1086.9" cy="324.6" r="6.2"/>
<circle cx="1095.3" cy="324.6" r="6.2"/>
<circle cx="1103.8" cy="323.7" r="6.2"/>
<circle cx="1112.3" cy="327.6" r="6.2"/>
<circle cx="1120.8" cy="323.7" r="6.2"/>
<circle cx="1129.2" cy="323.7" r="6.2"/>
<circle cx="1137.7" cy="324.2" r="6.2"/>
<circle cx="1146.2" cy="330.9" r="6.2"/>
<circle cx="1154.7" cy="340.4" r="6.2"/>
<circle cx="1163.1" cy="349.4" r="6.2"/>
<circle cx="1171.6" cy="355.3" r="6.2"/>
<circle cx="1180.1" cy="361.4" r="6.2"/>
<circle cx="1188.5" cy="367.0" r="6.2"/>
<circle cx="1197.0" cy="372.0" r="6.2"/>
<circle cx="1205.5" cy="372.7" r="6.2"/>
<circle cx="1214.0" cy="368.2" r="6.2"/>
<circle cx="1222.4" cy="362.1" r="6.2"/>
<circle cx="1230.9" cy="357.6" r="6.2"/>
<circle cx="1239.4" cy="352.4" r="6.2"/>
<circle cx="1247.9" cy="349.0" r="6.2"/>
<circle cx="1256.3" cy="343.3" r="6.2"/>
<circle cx="1264.8" cy="338.8" r="6.2"/>
<circle cx="1273.3" cy="336.6" r="6.2"/>
<circle cx="1281.7" cy="330.5" r="6.2"/>
<circle cx="1290.2" cy="326.0" r="6.2"/>
<circle cx="1298.7" cy="323.7" r="6.2"/>
<circle cx="1307.2" cy="325.3" r="6.2"/>
<circle cx="1315.6" cy="324.2" r="6.2"/>
<circle cx="1324.1" cy="326.9" r="6.2"/>
<circle cx="1332.6" cy="328.7" r="6.2"/>
<circle cx="1341.1" cy="330.5" r="6.2"/>
<circle cx="1349.5" cy="333.7" r="6.2"/>
<circle cx="1358.0" cy="340.0" r="6.2"/>
<circle cx="1366.5" cy="351.2" r="6.2"/>
<circle cx="1374.9" cy="363.0" r="6.2"/>
<circle cx="1383.4" cy="375.6" r="6.2"/>
<circle cx="1391.9" cy="383.9" r="6.2"/>
<circle cx="1400.4" cy="380.1" r="6.2"/>
<circle cx="1408.8" cy="372.0" r="6.2"/>
<circle cx="1417.3" cy="369.7" r="6.2"/>
<circle cx="1425.8" cy="365.2" r="6.2"/>
<circle cx="1434.3" cy="361.4" r="6.2"/>
<circle cx="1442.7" cy="355.3" r="6.2"/>
<circle cx="1451.2" cy="351.2" r="6.2"/>
<circle cx="1459.7" cy="349.0" r="6.2"/>
<circle cx="1468.1" cy="351.7" r="6.2"/>
<circle cx="1476.6" cy="349.0" r="6.2"/>
<circle cx="1485.1" cy="343.3" r="6.2"/>
<circle cx="1493.6" cy="341.8" r="6.2"/>
<circle cx="1502.0" cy="342.7" r="6.2"/>
<circle cx="1510.5" cy="341.8" r="6.2"/>
<circle cx="1519.0" cy="340.0" r="6.2"/>
<circle cx="1527.5" cy="338.8" r="6.2"/>
<circle cx="1535.9" cy="342.2" r="6.2"/>
<circle cx="1544.4" cy="344.0" r="6.2"/>
<circle cx="1552.9" cy="349.4" r="6.2"/>
<circle cx="1561.3" cy="355.3" r="6.2"/>
<circle cx="1569.8" cy="361.4" r="6.2"/>
<circle cx="1578.3" cy="371.5" r="6.2"/>
<circle cx="1586.8" cy="382.8" r="6.2"/>
<circle cx="1595.2" cy="382.8" r="6.2"/>
<circle cx="1603.7" cy="377.8" r="6.2"/>
<circle cx="1612.2" cy="373.8" r="6.2"/>
<circle cx="1620.7" cy="340.4" r="6.2"/>
<circle cx="1629.1" cy="353.5" r="6.2"/>
<circle cx="1637.6" cy="356.9" r="6.2"/>
<circle cx="1646.1" cy="364.3" r="6.2"/>
<circle cx="1654.6" cy="366.6" r="6.2"/>
<circle cx="1663.0" cy="361.4" r="6.2"/>
<circle cx="1671.5" cy="355.3" r="6.2"/>
<circle cx="1680.0" cy="349.0" r="6.2"/>
<circle cx="1688.4" cy="343.3" r="6.2"/>
<circle cx="1696.9" cy="340.0" r="6.2"/>
<circle cx="1705.4" cy="341.1" r="6.2"/>
<circle cx="1713.9" cy="342.7" r="6.2"/>
<circle cx="1722.3" cy="338.8" r="6.2"/>
<circle cx="1730.8" cy="332.1" r="6.2"/>
<circle cx="1739.3" cy="328.7" r="6.2"/>
<circle cx="1747.8" cy="335.9" r="6.2"/>
<circle cx="1756.2" cy="349.0" r="6.2"/>
<circle cx="1764.7" cy="353.5" r="6.2"/>
<circle cx="1773.2" cy="356.9" r="6.2"/>
<circle cx="1781.6" cy="374.9" r="6.2"/>
<circle cx="1790.1" cy="383.9" r="6.2"/>
<circle cx="1798.6" cy="371.5" r="6.2"/>
<circle cx="1807.1" cy="367.5" r="6.2"/>
<circle cx="1815.5" cy="362.5" r="6.2"/>
<circle cx="1824.0" cy="369.3" r="6.2"/>
<circle cx="1832.5" cy="371.5" r="6.2"/>
<circle cx="1841.0" cy="363.0" r="6.2"/>
<circle cx="1849.4" cy="356.2" r="6.2"/>
<circle cx="1857.9" cy="346.3" r="6.2"/>
<circle cx="1866.4" cy="344.5" r="6.2"/>
<circle cx="1874.8" cy="343.3" r="6.2"/>
<circle cx="1883.3" cy="338.8" r="6.2"/>
<circle cx="1891.8" cy="330.9" r="6.2"/>
<circle cx="1900.3" cy="332.1" r="6.2"/>
<circle cx="1908.7" cy="327.6" r="6.2"/>
<circle cx="1917.2" cy="324.6" r="6.2"/>
<circle cx="1925.7" cy="318.5" r="6.2"/>
<circle cx="1934.2" cy="321.5" r="6.2"/>
<circle cx="1942.6" cy="320.1" r="6.2"/>
<circle cx="1951.1" cy="323.7" r="6.2"/>
<circle cx="1959.6" cy="335.0" r="6.2"/>
<circle cx="1968.0" cy="341.8" r="6.2"/>
<circle cx="1976.5" cy="337.7" r="6.2"/>
<circle cx="1985.0" cy="344.0" r="6.2"/>
<circle cx="1993.5" cy="342.2" r="6.2"/>
<circle cx="2001.9" cy="338.8" r="6.2"/>
<circle cx="2010.4" cy="342.2" r="6.2"/>
<circle cx="2018.9" cy="342.7" r="6.2"/>
<circle cx="2027.4" cy="343.3" r="6.2"/>
<circle cx="2035.8" cy="345.6" r="6.2"/>
<circle cx="2044.3" cy="342.7" r="6.2"/>
<circle cx="2052.8" cy="336.6" r="6.2"/>
<circle cx="2061.2" cy="335.5" r="6.2"/>
<circle cx="2069.7" cy="335.9" r="6.2"/>
<circle cx="2078.2" cy="334.3" r="6.2"/>
<circle cx="2086.7" cy="328.2" r="6.2"/>
<circle cx="2095.1" cy="320.8" r="6.2"/>
<circle cx="2103.6" cy="322.4" r="6.2"/>
<circle cx="2112.1" cy="320.8" r="6.2"/>
<circle cx="2120.6" cy="318.5" r="6.2"/>
<circle cx="2129.0" cy="320.8" r="6.2"/>
<circle cx="2137.5" cy="323.1" r="6.2"/>
</g></g>
<g clip-path="url(#a1)"><path d="M137.92 263.75L156.48 266.51M163.34 263.75L178.68 271.41M188.76 263.75L204.17 271.35M214.17 263.75L232.60 266.91M239.59 263.75L256.74 258.15M265.01 263.75L273.96 252.28M290.43 263.75L286.51 251.03M315.85 263.75L314.63 250.78M341.27 263.75L343.15 250.81M366.68 263.75L366.28 250.75M392.10 263.75L392.31 250.75M417.52 263.75L427.38 252.64M442.94 263.75L453.21 252.81M468.36 263.75L475.96 251.84M493.78 263.75L494.18 250.75M519.19 263.75L520.62 250.79M544.61 263.75L552.91 252.05M570.03 263.75L565.53 251.12M595.45 263.75L608.69 254.42M620.87 263.75L631.14 252.81M646.29 263.75L657.64 253.33M671.71 263.75L679.66 251.94M697.12 263.75L698.75 250.80M722.54 263.75L724.77 250.84M747.96 263.75L750.87 250.90M773.38 263.75L780.57 251.72M798.80 263.75L817.10 260.26M824.22 263.75L840.35 256.88M849.63 263.75L861.65 253.68M875.05 263.75L880.87 251.37M900.47 263.75L900.06 250.75M925.89 263.75L927.71 250.81M951.31 263.75L952.73 250.79M976.73 263.75L978.75 250.82M1002.14 263.75L1004.17 250.82M1027.56 263.75L1038.38 253.06M1052.98 263.75L1060.18 251.72M1078.40 263.75L1083.09 251.15M1103.82 263.75L1105.24 250.79M1129.24 263.75L1130.86 250.80M1154.65 263.75L1156.28 250.80M1180.07 263.75L1184.96 251.19M1205.49 263.75L1217.05 253.43M1230.91 263.75L1241.18 252.81M1256.33 263.75L1263.52 251.72M1281.75 263.75L1287.74 251.41M1307.17 263.75L1308.79 250.80M1332.58 263.75L1332.79 250.75M1358.00 263.75L1359.42 250.79M1383.42 263.75L1392.70 252.41M1408.84 263.75L1427.28 260.62M1434.26 263.75L1447.59 254.49M1459.68 263.75L1467.72 251.97M1485.09 263.75L1489.79 251.15M1510.51 263.75L1511.73 250.78M1535.93 263.75L1537.15 250.78M1561.35 263.75L1561.96 250.76M1586.77 263.75L1597.32 252.94M1612.19 263.75L1624.03 273.92M1637.60 263.75L1656.09 260.74M1663.02 263.75L1672.47 252.47M1688.44 263.75L1690.86 250.86M1713.86 263.75L1714.67 250.76M1739.28 263.75L1740.70 250.79M1764.70 263.75L1766.72 250.82M1790.12 263.75L1801.68 253.43M1815.53 263.75L1808.52 251.67M1840.95 263.75L1845.84 251.19M1866.37 263.75L1875.27 252.26M1891.79 263.75L1896.10 251.09M1917.21 263.75L1919.63 250.86M1942.63 263.75L1943.64 250.77M1968.04 263.75L1972.35 251.09M1993.46 263.75L1997.77 251.09M2018.88 263.75L2022.80 251.03M2044.30 263.75L2052.51 252.03M2069.72 263.75L2074.98 251.26M2095.14 263.75L2099.25 251.06M2120.55 263.75L2122.98 250.86" stroke="#000" stroke-width="4.4" fill="none"/><path d="M153.98 264.31h5.01v4.4h-5.01ZM175.64 269.21h6.09v4.4h-6.09ZM201.13 269.15h6.07v4.4h-6.07ZM230.05 264.71h5.10v4.4h-5.10ZM253.92 255.95h5.63v4.4h-5.63ZM270.49 250.08h6.92v4.4h-6.92ZM282.91 248.83h7.20v4.4h-7.20ZM311.00 248.58h7.25v4.4h-7.25ZM339.53 248.61h7.25v4.4h-7.25ZM362.65 248.55h7.26v4.4h-7.26ZM388.68 248.55h7.26v4.4h-7.26ZM423.96 250.44h6.84v4.4h-6.84ZM449.81 250.61h6.81v4.4h-6.81ZM472.45 249.64h7.02v4.4h-7.02ZM490.55 248.55h7.26v4.4h-7.26ZM516.99 248.59h7.25v4.4h-7.25ZM549.42 249.85h6.97v4.4h-6.97ZM561.94 248.92h7.18v4.4h-7.18ZM605.46 252.22h6.45v4.4h-6.45ZM627.74 250.61h6.81v4.4h-6.81ZM654.30 251.13h6.69v4.4h-6.69ZM676.16 249.74h7.00v4.4h-7.00ZM695.12 248.60h7.25v4.4h-7.25ZM721.15 248.64h7.24v4.4h-7.24ZM747.26 248.70h7.23v4.4h-7.23ZM777.05 249.52h7.05v4.4h-7.05ZM814.52 258.06h5.17v4.4h-5.17ZM837.39 254.68h5.91v4.4h-5.91ZM858.34 251.48h6.62v4.4h-6.62ZM877.31 249.17h7.12v4.4h-7.12ZM896.43 248.55h7.26v4.4h-7.26ZM924.09 248.61h7.25v4.4h-7.25ZM949.10 248.59h7.25v4.4h-7.25ZM975.13 248.62h7.24v4.4h-7.24ZM1000.55 248.62h7.24v4.4h-7.24ZM1035.00 250.86h6.75v4.4h-6.75ZM1056.65 249.52h7.05v4.4h-7.05ZM1079.51 248.95h7.17v4.4h-7.17ZM1101.61 248.59h7.25v4.4h-7.25ZM1127.23 248.60h7.25v4.4h-7.25ZM1152.65 248.60h7.25v4.4h-7.25ZM1181.38 248.99h7.16v4.4h-7.16ZM1213.72 251.23h6.67v4.4h-6.67ZM1237.78 250.61h6.81v4.4h-6.81ZM1260.00 249.52h7.05v4.4h-7.05ZM1284.18 249.21h7.11v4.4h-7.11ZM1305.16 248.60h7.25v4.4h-7.25ZM1329.16 248.55h7.26v4.4h-7.26ZM1355.80 248.59h7.25v4.4h-7.25ZM1389.25 250.21h6.90v4.4h-6.90ZM1424.73 258.42h5.09v4.4h-5.09ZM1444.37 252.29h6.44v4.4h-6.44ZM1464.23 249.77h6.99v4.4h-6.99ZM1486.20 248.95h7.17v4.4h-7.17ZM1508.10 248.58h7.25v4.4h-7.25ZM1533.52 248.58h7.25v4.4h-7.25ZM1558.33 248.56h7.26v4.4h-7.26ZM1593.93 250.74h6.78v4.4h-6.78ZM1620.71 271.72h6.64v4.4h-6.64ZM1653.56 258.54h5.06v4.4h-5.06ZM1669.02 250.27h6.88v4.4h-6.88ZM1687.25 248.66h7.24v4.4h-7.24ZM1711.04 248.56h7.26v4.4h-7.26ZM1737.07 248.59h7.25v4.4h-7.25ZM1763.10 248.62h7.24v4.4h-7.24ZM1798.34 251.23h6.67v4.4h-6.67ZM1804.99 249.47h7.06v4.4h-7.06ZM1842.25 248.99h7.16v4.4h-7.16ZM1871.81 250.06h6.93v4.4h-6.93ZM1892.50 248.89h7.19v4.4h-7.19ZM1916.01 248.66h7.24v4.4h-7.24ZM1940.01 248.57h7.26v4.4h-7.26ZM1968.76 248.89h7.19v4.4h-7.19ZM1994.18 248.89h7.19v4.4h-7.19ZM2019.20 248.83h7.20v4.4h-7.20ZM2049.02 249.83h6.98v4.4h-6.98ZM2071.40 249.06h7.15v4.4h-7.15ZM2095.65 248.86h7.19v4.4h-7.19ZM2119.36 248.66h7.24v4.4h-7.24Z" fill="#000"/></g>
<text x="79.30" y="375.4" class="tk" textLength="14.6" lengthAdjust="spacingAndGlyphs">3</text>
<text x="2148.5" y="375.4" class="tk" textLength="37.8" lengthAdjust="spacingAndGlyphs">5.8</text>
<text x="79.30" y="349.5" class="tk" textLength="14.6" lengthAdjust="spacingAndGlyphs">6</text>
<text x="2148.5" y="349.5" class="tk" textLength="52.5" lengthAdjust="spacingAndGlyphs">11.7</text>
<text x="79.30" y="323.6" class="tk" textLength="14.6" lengthAdjust="spacingAndGlyphs">9</text>
<text x="2148.5" y="323.6" class="tk" textLength="52.5" lengthAdjust="spacingAndGlyphs">17.5</text>
<text x="71.45" y="297.7" class="tk" textLength="30.3" lengthAdjust="spacingAndGlyphs">12</text>
<text x="2148.5" y="297.7" class="tk" textLength="52.5" lengthAdjust="spacingAndGlyphs">23.3</text>
<text x="71.45" y="271.9" class="tk" textLength="30.3" lengthAdjust="spacingAndGlyphs">15</text>
<text x="2148.5" y="271.9" class="tk" textLength="52.5" lengthAdjust="spacingAndGlyphs">29.2</text>
<text transform="translate(57.2 315.5) rotate(-90)" class="lb" textLength="51" lengthAdjust="spacingAndGlyphs" x="-25.5">m/s</text>
<text transform="translate(2235 315.5) rotate(-90)" class="lb" textLength="85.5" lengthAdjust="spacingAndGlyphs" x="-42.8">nudos</text>
<text x="1000.1" y="233.5" class="ti" textLength="232.2" lengthAdjust="spacingAndGlyphs">Punta de Choros</text>
<path d="M112.5 548.5H2137.5M112.5 522.5H2137.5M112.5 496.5H2137.5M112.5 469.5H2137.5M112.5 443.5H2137.5" stroke="#000" stroke-opacity="0.15" stroke-width="1" fill="none"/>
<path d="M315.5 426.5V565.5M518.5 426.5V565.5M722.5 426.5V565.5M925.5 426.5V565.5M1129.5 426.5V565.5M1332.5 426.5V565.5M1536.5 426.5V565.5M1739.5 426.5V565.5M1942.5 426.5V565.5" stroke="#262626" stroke-opacity="0.15" stroke-width="1" fill="none"/>
<path d="M112.0 426.5H2138.0M112.0 565.5H2138.0M112.5 565.5v-20M112.5 426.5v20M315.5 565.5v-20M315.5 426.5v20M518.5 565.5v-20M518.5 426.5v20M722.5 565.5v-20M722.5 426.5v20M925.5 565.5v-20M925.5 426.5v20M1129.5 565.5v-20M1129.5 426.5v20M1332.5 565.5v-20M1332.5 426.5v20M1536.5 565.5v-20M1536.5 426.5v20M1739.5 565.5v-20M1739.5 426.5v20M1942.5 565.5v-20M1942.5 426.5v20" stroke="#262626" stroke-width="1" fill="none"/>
<path d="M112.5 426.5V565.5M2137.5 426.5V565.5M112.5 548.5h20M2137.5 548.5h-20M112.5 522.5h20M2137.5 522.5h-20M112.5 496.5h20M2137.5 496.5h-20M112.5 469.5h20M2137.5 469.5h-20M112.5 443.5h20M2137.5 443.5h-20" stroke="#000" stroke-width="1" fill="none"/>
<g clip-path="url(#c2)">
<path d="M112.5 562.7L121.0 559.3L129.4 564.9L137.9 555.8L146.4 561.1L154.9 560.4L163.3 564.9L171.8 575.2L180.3 575.2L188.8 571.7L197.2 575.2L205.7 563.3L214.2 554.7L222.6 547.9L231.1 546.8L239.6 549.7L248.1 546.8L256.5 544.5L265.0 543.4L273.5 542.2L282.0 542.2L290.4 551.3L298.9 558.8L307.4 561.1L315.8 561.5L324.3 562.7L332.8 560.4L341.3 557.4L349.7 563.8L358.2 564.3L366.7 561.1L375.2 563.8L383.6 563.8L392.1 562.7L400.6 554.3L409.0 540.6L417.5 540.6L426.0 534.3L434.5 529.3L442.9 526.3L451.4 529.3L459.9 531.5L468.4 530.2L476.8 532.5L485.3 538.8L493.8 544.5L502.2 549.7L510.7 554.3L519.2 562.7L527.7 560.4L536.1 559.3L544.6 559.7L553.1 560.4L561.6 555.2L570.0 555.8L578.5 556.5L587.0 553.6L595.4 554.7L603.9 551.3L612.4 546.8L620.9 543.4L629.3 537.0L637.8 528.6L646.3 521.8L654.8 529.3L663.2 530.9L671.7 532.0L680.2 532.0L688.7 536.1L697.1 542.9L705.6 546.8L714.1 552.0L722.5 555.8L731.0 562.7L739.5 562.7L748.0 562.7L756.4 561.1L764.9 562.0L773.4 561.5L781.9 558.8L790.3 563.3L798.8 564.9L807.3 560.4L815.7 550.2L824.2 544.5L832.7 542.2L841.2 535.4L849.6 529.3L858.1 529.3L866.6 529.7L875.1 526.3L883.5 529.3L892.0 533.1L900.5 543.4L908.9 554.3L917.4 562.7L925.9 562.7L934.4 562.7L942.8 561.5L951.3 561.1L959.8 561.5L968.3 561.1L976.7 562.0L985.2 562.0L993.7 562.7L1002.1 560.4L1010.6 550.2L1019.1 540.6L1027.6 530.9L1036.0 529.3L1044.5 527.0L1053.0 524.7L1061.5 522.9L1069.9 525.2L1078.4 527.5L1086.9 531.5L1095.3 535.4L1103.8 546.1L1112.3 546.8L1120.8 542.9L1129.2 542.2L1137.7 549.7L1146.2 559.3L1154.7 560.4L1163.1 559.7L1171.6 562.0L1180.1 562.0L1188.5 559.3L1197.0 559.3L1205.5 554.3L1214.0 557.0L1222.4 562.0L1230.9 554.7L1239.4 544.5L1247.9 536.5L1256.3 531.5L1264.8 527.5L1273.3 528.6L1281.7 527.0L1290.2 529.7L1298.7 535.4L1307.2 546.8L1315.6 556.5L1324.1 554.7L1332.6 554.3L1341.1 561.1L1349.5 562.0L1358.0 562.0L1366.5 560.4L1374.9 555.8L1383.4 550.2L1391.9 542.2L1400.4 547.9L1408.8 552.4L1417.3 551.3L1425.8 558.8L1434.3 562.0L1442.7 555.8L1451.2 549.0L1459.7 545.6L1468.1 542.9L1476.6 538.8L1485.1 536.5L1493.6 539.3L1502.0 541.1L1510.5 546.8L1519.0 552.9L1527.5 555.2L1535.9 562.0L1544.4 564.9L1552.9 564.9L1561.3 562.7L1569.8 562.0L1578.3 560.4L1586.8 552.4L1595.2 545.6L1603.7 546.8L1612.2 544.5L1620.7 554.7L1629.1 562.0L1637.6 569.5L1646.1 564.9L1654.6 561.1L1663.0 550.6L1671.5 547.4L1680.0 542.9L1688.4 534.7L1696.9 530.9L1705.4 536.1L1713.9 543.4L1722.3 546.8L1730.8 552.9L1739.3 561.5L1747.8 561.5L1756.2 555.2L1764.7 550.6L1773.2 558.1L1781.6 563.3L1790.1 562.7L1798.6 555.8L1807.1 555.8L1815.5 561.1L1824.0 558.8L1832.5 552.0L1841.0 542.2L1849.4 535.4L1857.9 533.1L1866.4 527.0L1874.8 523.4L1883.3 527.0L1891.8 529.7L1900.3 533.8L1908.7 538.4L1917.2 552.9L1925.7 548.4L1934.2 541.1L1942.6 549.7L1951.1 562.0L1959.6 563.3L1968.0 560.4L1976.5 552.0L1985.0 555.2L1993.5 557.4L2001.9 556.5L2010.4 553.6L2018.9 557.4L2027.4 560.4L2035.8 554.3L2044.3 546.8L2052.8 530.9L2061.2 527.9L2069.7 530.2L2078.2 526.3L2086.7 522.9L2095.1 525.2L2103.6 533.1L2112.1 541.5L2120.6 549.0L2129.0 552.4L2137.5 558.8" stroke="#035a89" stroke-width="2.6" fill="none"/>
<g fill="#1b779d" stroke="#035a89" stroke-width="3">
<circle cx="112.5" cy="562.7" r="6.2"/>
<circle cx="121.0" cy="559.3" r="6.2"/>
<circle cx="129.4" cy="564.9" r="6.2"/>
<circle cx="137.9" cy="555.8" r="6.2"/>
<circle cx="146.4" cy="561.1" r="6.2"/>
<circle cx="154.9" cy="560.4" r="6.2"/>
<circle cx="163.3" cy="564.9" r="6.2"/>
<circle cx="171.8" cy="575.2" r="6.2"/>
<circle cx="180.3" cy="575.2" r="6.2"/>
<circle cx="188.8" cy="571.7" r="6.2"/>
<circle cx="197.2" cy="575.2" r="6.2"/>
<circle cx="205.7" cy="563.3" r="6.2"/>
<circle cx="214.2" cy="554.7" r="6.2"/>
<circle cx="222.6" cy="547.9" r="6.2"/>
<circle cx="231.1" cy="546.8" r="6.2"/>
<circle cx="239.6" cy="549.7" r="6.2"/>
<circle cx="248.1" cy="546.8" r="6.2"/>
<circle cx="256.5" cy="544.5" r="6.2"/>
<circle cx="265.0" cy="543.4" r="6.2"/>
<circle cx="273.5" cy="542.2" r="6.2"/>
<circle cx="282.0" cy="542.2" r="6.2"/>
<circle cx="290.4" cy="551.3" r="6.2"/>
<circle cx="298.9" cy="558.8" r="6.2"/>
<circle cx="307.4" cy="561.1" r="6.2"/>
<circle cx="315.8" cy="561.5" r="6.2"/>
<circle cx="324.3" cy="562.7" r="6.2"/>
<circle cx="332.8" cy="560.4" r="6.2"/>
<circle cx="341.3" cy="557.4" r="6.2"/>
<circle cx="349.7" cy="563.8" r="6.2"/>
<circle cx="358.2" cy="564.3" r="6.2"/>
<circle cx="366.7" cy="561.1" r="6.2"/>
<circle cx="375.2" cy="563.8" r="6.2"/>
<circle cx="383.6" cy="563.8" r="6.2"/>
<circle cx="392.1" cy="562.7" r="6.2"/>
<circle cx="400.6" cy="554.3" r="6.2"/>
<circle cx="409.0" cy="540.6" r="6.2"/>
<circle cx="417.5" cy="540.6" r="6.2"/>
<circle cx="426.0" cy="534.3" r="6.2"/>
<circle cx="434.5" cy="529.3" r="6.2"/>
<circle cx="442.9" cy="526.3" r="6.2"/>
<circle cx="451.4" cy="529.3" r="6.2"/>
<circle cx="459.9" cy="531.5" r="6.2"/>
<circle cx="468.4" cy="530.2" r="6.2"/>
<circle cx="476.8" cy="532.5" r="6.2"/>
<circle cx="485.3" cy="538.8" r="6.2"/>
<circle cx="493.8" cy="544.5" r="6.2"/>
<circle cx="502.2" cy="549.7" r="6.2"/>
<circle cx="510.7" cy="554.3" r="6.2"/>
<circle cx="519.2" cy="562.7" r="6.2"/>
<circle cx="527.7" cy="560.4" r="6.2"/>
<circle cx="536.1" cy="559.3" r="6.2"/>
<circle cx="544.6" cy="559.7" r="6.2"/>
<circle cx="553.1" cy="560.4" r="6.2"/>
<circle cx="561.6" cy="555.2" r="6.2"/>
<circle cx="570.0" cy="555.8" r="6.2"/>
<circle cx="578.5" cy="556.5" r="6.2"/>
<circle cx="587.0" cy="553.6" r="6.2"/>
<circle cx="595.4" cy="554.7" r="6.2"/>
<circle cx="603.9" cy="551.3" r="6.2"/>
<circle cx="612.4" cy="546.8" r="6.2"/>
<circle cx="620.9" cy="543.4" r="6.2"/>
<circle cx="629.3" cy="537.0" r="6.2"/>
<circle cx="637.8" cy="528.6" r="6.2"/>
<circle cx="646.3" cy="521.8" r="6.2"/>
<circle cx="654.8" cy="529.3" r="6.2"/>
<circle cx="663.2" cy="530.9" r="6.2"/>
<circle cx="671.7" cy="532.0" r="6.2"/>
<circle cx="680.2" cy="532.0" r="6.2"/>
<circle cx="688.7" cy="536.1" r="6.2"/>
<circle cx="697.1" cy="542.9" r="6.2"/>
<circle cx="705.6" cy="546.8" r="6.2"/>
<circle cx="714.1" cy="552.0" r="6.2"/>
<circle cx="722.5" cy="555.8" r="6.2"/>
<circle cx="731.0" cy="562.7" r="6.2"/>
<circle cx="739.5" cy="562.7" r="6.2"/>
<circle cx="748.0" cy="562.7" r="6.2"/>
<circle cx="756.4" cy="561.1" r="6.2"/>
<circle cx="764.9" cy="562.0" r="6.2"/>
<circle cx="773.4" cy="561.5" r="6.2"/>
<circle cx="781.9" cy="558.8" r="6.2"/>
<circle cx="790.3" cy="563.3" r="6.2"/>
<circle cx="798.8" cy="564.9" r="6.2"/>
<circle cx="807.3" cy="560.4" r="6.2"/>
<circle cx="815.7" cy="550.2" r="6.2"/>
<circle cx="824.2" cy="544.5" r="6.2"/>
<circle cx="832.7" cy="542.2" r="6.2"/>
<circle cx="841.2" cy="535.4" r="6.2"/>
<circle cx="849.6" cy="529.3" r="6.2"/>
<circle cx="858.1" cy="529.3" r="6.2"/>
<circle cx="866.6" cy="529.7" r="6.2"/>
<circle cx="875.1" cy="526.3" r="6.2"/>
<circle cx="883.5" cy="529.3" r="6.2"/>
<circle cx="892.0" cy="533.1" r="6.2"/>
<circle cx="900.5" cy="543.4" r="6.2"/>
<circle cx="908.9" cy="554.3" r="6.2"/>
<circle cx="917.4" cy="562.7" r="6.2"/>
<circle cx="925.9" cy="562.7" r="6.2"/>
<circle cx="934.4" cy="562.7" r="6.2"/>
<circle cx="942.8" cy="561.5" r="6.2"/>
<circle cx="951.3" cy="561.1" r="6.2"/>
<circle cx="959.8" cy="561.5" r="6.2"/>
<circle cx="968.3" cy="561.1" r="6.2"/>
<circle cx="976.7" cy="562.0" r="6.2"/>
<circle cx="985.2" cy="562.0" r="6.2"/>
<circle cx="993.7" cy="562.7" r="6.2"/>
<circle cx="1002.1" cy="560.4" r="6.2"/>
<circle cx="1010.6" cy="550.2" r="6.2"/>
<circle cx="1019.1" cy="540.6" r="6.2"/>
<circle cx="1027.6" cy="530.9" r="6.2"/>
<circle cx="1036.0" cy="529.3" r="6.2"/>
<circle cx="1044.5" cy="527.0" r="6.2"/>
<circle cx="1053.0" cy="524.7" r="6.2"/>
<circle cx="1061.5" cy="522.9" r="6.2"/>
<circle cx="1069.9" cy="525.2" r="6.2"/>
<circle cx="1078.4" cy="527.5" r="6.2"/>
<circle cx="1086.9" cy="531.5" r="6.2"/>
<circle cx="1095.3" cy="535.4" r="6.2"/>
<circle cx="1103.8" cy="546.1" r="6.2"/>
<circle cx="1112.3" cy="546.8" r="6.2"/>
<circle cx="1120.8" cy="542.9" r="6.2"/>
<circle cx="1129.2" cy="542.2" r="6.2"/>
<circle cx="1137.7" cy="549.7" r="6.2"/>
<circle cx="1146.2" cy="559.3" r="6.2"/>
<circle cx="1154.7" cy="560.4" r="6.2"/>
<circle cx="1163.1" cy="559.7" r="6.2"/>
<circle cx="1171.6" cy="562.0" r="6.2"/>
<circle cx="1180.1" cy="562.0" r="6.2"/>
<circle cx="1188.5" cy="559.3" r="6.2"/>
<circle cx="1197.0" cy="559.3" r="6.2"/>
<circle cx="1205.5" cy="554.3" r="6.2"/>
<circle cx="1214.0" cy="557.0" r="6.2"/>
<circle cx="1222.4" cy="562.0" r="6.2"/>
<circle cx="1230.9" cy="554.7" r="6.2"/>
<circle cx="1239.4" cy="544.5" r="6.2"/>
<circle cx="1247.9" cy="536.5" r="6.2"/>
<circle cx="1256.3" cy="531.5" r="6.2"/>
<circle cx="1264.8" cy="527.5" r="6.2"/>
<circle cx="1273.3" cy="528.6" r="6.2"/>
<circle cx="1281.7" cy="527.0" r="6.2"/>
<circle cx="1290.2" cy="529.7" r="6.2"/>
<circle cx="1298.7" cy="535.4" r="6.2"/>
<circle cx="1307.2" cy="546.8" r="6.2"/>
<circle cx="1315.6" cy="556.5" r="6.2"/>
<circle cx="1324.1" cy="554.7" r="6.2"/>
<circle cx="1332.6" cy="554.3" r="6.2"/>
<circle cx="1341.1" cy="561.1" r="6.2"/>
<circle cx="1349.5" cy="562.0" r="6.2"/>
<circle cx="1358.0" cy="562.0" r="6.2"/>
<circle cx="1366.5" cy="560.4" r="6.2"/>
<circle cx="1374.9" cy="555.8" r="6.2"/>
<circle cx="1383.4" cy="550.2" r="6.2"/>
<circle cx="1391.9" cy="542.2" r="6.2"/>
<circle cx="1400.4" cy="547.9" r="6.2"/>
<circle cx="1408.8" cy="552.4" r="6.2"/>
<circle cx="1417.3" cy="551.3" r="6.2"/>
<circle cx="1425.8" cy="558.8" r="6.2"/>
<circle cx="1434.3" cy="562.0" r="6.2"/>
<circle cx="1442.7" cy="555.8" r="6.2"/>
<circle cx="1451.2" cy="549.0" r="6.2"/>
<circle cx="1459.7" cy="545.6" r="6.2"/>
<circle cx="1468.1" cy="542.9" r="6.2"/>
<circle cx="1476.6" cy="538.8" r="6.2"/>
<circle cx="1485.1" cy="536.5" r="6.2"/>
<circle cx="1493.6" cy="539.3" r="6.2"/>
<circle cx="1502.0" cy="541.1" r="6.2"/>
<circle cx="1510.5" cy="546.8" r="6.2"/>
<circle cx="1519.0" cy="552.9" r="6.2"/>
<circle cx="1527.5" cy="555.2" r="6.2"/>
<circle cx="1535.9" cy="562.0" r="6.2"/>
<circle cx="1544.4" cy="564.9" r="6.2"/>
<circle cx="1552.9" cy="564.9" r="6.2"/>
<circle cx="1561.3" cy="562.7" r="6.2"/>
<circle cx="1569.8" cy="562.0" r="6.2"/>
<circle cx="1578.3" cy="560.4" r="6.2"/>
<circle cx="1586.8" cy="552.4" r="6.2"/>
<circle cx="1595.2" cy="545.6" r="6.2"/>
<circle cx="1603.7" cy="546.8" r="6.2"/>
<circle cx="1612.2" cy="544.5" r="6.2"/>
<circle cx="1620.7" cy="554.7" r="6.2"/>
<circle cx="1629.1" cy="562.0" r="6.2"/>
<circle cx="1637.6" cy="569.5" r="6.2"/>
<circle cx="1646.1" cy="564.9" r="6.2"/>
<circle cx="1654.6" cy="561.1" r="6.2"/>
<circle cx="1663.0" cy="550.6" r="6.2"/>
<circle cx="1671.5" cy="547.4" r="6.2"/>
<circle cx="1680.0" cy="542.9" r="6.2"/>
<circle cx="1688.4" cy="534.7" r="6.2"/>
<circle cx="1696.9" cy="530.9" r="6.2"/>
<circle cx="1705.4" cy="536.1" r="6.2"/>
<circle cx="1713.9" cy="543.4" r="6.2"/>
<circle cx="1722.3" cy="546.8" r="6.2"/>
<circle cx="1730.8" cy="552.9" r="6.2"/>
<circle cx="1739.3" cy="561.5" r="6.2"/>
<circle cx="1747.8" cy="561.5" r="6.2"/>
<circle cx="1756.2" cy="555.2" r="6.2"/>
<circle cx="1764.7" cy="550.6" r="6.2"/>
<circle cx="1773.2" cy="558.1" r="6.2"/>
<circle cx="1781.6" cy="563.3" r="6.2"/>
<circle cx="1790.1" cy="562.7" r="6.2"/>
<circle cx="1798.6" cy="555.8" r="6.2"/>
<circle cx="1807.1" cy="555.8" r="6.2"/>
<circle cx="1815.5" cy="561.1" r="6.2"/>
<circle cx="1824.0" cy="558.8" r="6.2"/>
<circle cx="1832.5" cy="552.0" r="6.2"/>
<circle cx="1841.0" cy="542.2" r="6.2"/>
<circle cx="1849.4" cy="535.4" r="6.2"/>
<circle cx="1857.9" cy="533.1" r="6.2"/>
<circle cx="1866.4" cy="527.0" r="6.2"/>
<circle cx="1874.8" cy="523.4" r="6.2"/>
<circle cx="1883.3" cy="527.0" r="6.2"/>
<circle cx="1891.8" cy="529.7" r="6.2"/>
<circle cx="1900.3" cy="533.8" r="6.2"/>
<circle cx="1908.7" cy="538.4" r="6.2"/>
<circle cx="1917.2" cy="552.9" r="6.2"/>
<circle cx="1925.7" cy="548.4" r="6.2"/>
<circle cx="1934.2" cy="541.1" r="6.2"/>
<circle cx="1942.6" cy="549.7" r="6.2"/>
<circle cx="1951.1" cy="562.0" r="6.2"/>
<circle cx="1959.6" cy="563.3" r="6.2"/>
<circle cx="1968.0" cy="560.4" r="6.2"/>
<circle cx="1976.5" cy="552.0" r="6.2"/>
<circle cx="1985.0" cy="555.2" r="6.2"/>
<circle cx="1993.5" cy="557.4" r="6.2"/>
<circle cx="2001.9" cy="556.5" r="6.2"/>
<circle cx="2010.4" cy="553.6" r="6.2"/>
<circle cx="2018.9" cy="557.4" r="6.2"/>
<circle cx="2027.4" cy="560.4" r="6.2"/>
<circle cx="2035.8" cy="554.3" r="6.2"/>
<circle cx="2044.3" cy="546.8" r="6.2"/>
<circle cx="2052.8" cy="530.9" r="6.2"/>
<circle cx="2061.2" cy="527.9" r="6.2"/>
<circle cx="2069.7" cy="530.2" r="6.2"/>
<circle cx="2078.2" cy="526.3" r="6.2"/>
<circle cx="2086.7" cy="522.9" r="6.2"/>
<circle cx="2095.1" cy="525.2" r="6.2"/>
<circle cx="2103.6" cy="533.1" r="6.2"/>
<circle cx="2112.1" cy="541.5" r="6.2"/>
<circle cx="2120.6" cy="549.0" r="6.2"/>
<circle cx="2129.0" cy="552.4" r="6.2"/>
<circle cx="2137.5" cy="558.8" r="6.2"/>
</g></g>
<g clip-path="url(#a2)"><path d="M112.50 443.88L131.48 444.53M137.92 443.88L156.50 446.58M163.34 443.88L178.82 451.40M188.76 443.88L170.46 440.37M214.17 443.88L233.17 443.88M239.59 443.88L258.32 446.07M265.01 443.88L283.88 442.38M290.43 443.88L305.92 436.35M315.85 443.88L334.72 442.38M341.27 443.88L358.90 448.71M366.68 443.88L362.70 456.59M392.10 443.88L398.83 456.03M417.52 443.88L436.28 445.95M442.94 443.88L461.32 440.58M468.36 443.88L486.14 439.30M493.78 443.88L509.04 436.14M519.19 443.88L536.41 438.38M544.61 443.88L550.07 456.33M570.03 443.88L567.61 456.77M595.45 443.88L612.89 438.72M620.87 443.88L639.78 445.15M646.29 443.88L664.79 440.91M671.71 443.88L689.28 438.94M697.12 443.88L712.33 436.08M722.54 443.88L738.73 437.06M747.96 443.88L742.61 456.35M773.38 443.88L785.78 453.72M798.80 443.88L817.43 441.32M824.22 443.88L842.86 441.37M849.63 443.88L868.13 440.91M875.05 443.88L892.07 438.09M900.47 443.88L915.96 436.35M925.89 443.88L907.13 441.80M951.31 443.88L963.60 433.96M976.73 443.88L989.35 434.16M1002.14 443.88L1020.34 447.62M1027.56 443.88L1046.52 443.02M1052.98 443.88L1071.48 440.91M1078.40 443.88L1096.64 440.25M1103.82 443.88L1119.17 436.22M1129.24 443.88L1143.39 435.21M1154.65 443.88L1173.65 443.88M1180.07 443.88L1188.64 455.48M1205.49 443.88L1206.35 456.86M1230.91 443.88L1249.49 446.58M1256.33 443.88L1274.87 441.03M1281.75 443.88L1299.30 438.89M1307.17 443.88L1322.68 436.37M1332.58 443.88L1347.65 435.96M1358.00 443.88L1354.63 456.67M1383.42 443.88L1389.87 456.10M1408.84 443.88L1425.90 449.59M1434.26 443.88L1452.43 447.66M1459.68 443.88L1478.54 442.31M1485.09 443.88L1503.72 441.32M1510.51 443.88L1526.30 436.64M1535.93 443.88L1553.78 439.43M1561.35 443.88L1579.90 446.70M1586.77 443.88L1602.31 451.36M1612.19 443.88L1625.66 453.04M1637.60 443.88L1653.22 436.47M1663.02 443.88L1681.93 445.16M1688.44 443.88L1706.98 441.03M1713.86 443.88L1729.53 436.53M1739.28 443.88L1748.22 432.41M1764.70 443.88L1782.25 438.89M1790.12 443.88L1804.12 452.66M1815.53 443.88L1834.41 442.41M1840.95 443.88L1859.60 441.39M1866.37 443.88L1884.46 439.90M1891.79 443.88L1909.83 439.79M1917.21 443.88L1934.26 438.14M1942.63 443.88L1958.05 436.28M1968.04 443.88L1962.51 456.31M1993.46 443.88L1992.61 456.86M2018.88 443.88L2030.36 454.23M2044.30 443.88L2063.21 445.16M2069.72 443.88L2088.59 442.38M2095.14 443.88L2112.60 438.75M2120.55 443.88L2136.94 437.29" stroke="#000" stroke-width="4.4" fill="none"/><path d="M129.20 442.33h4.54v4.4h-4.54ZM154.00 444.38h5.00v4.4h-5.00ZM175.80 449.20h6.06v4.4h-6.06ZM167.87 438.17h5.17v4.4h-5.17ZM230.97 441.68h4.40v4.4h-4.40ZM255.88 443.87h4.88v4.4h-4.88ZM281.52 440.18h4.73v4.4h-4.73ZM302.89 434.15h6.06v4.4h-6.06ZM332.36 440.18h4.73v4.4h-4.73ZM356.17 446.51h5.46v4.4h-5.46ZM359.10 454.39h7.20v4.4h-7.20ZM395.30 453.83h7.07v4.4h-7.07ZM433.85 443.75h4.86v4.4h-4.86ZM458.76 438.38h5.13v4.4h-5.13ZM483.44 437.10h5.41v4.4h-5.41ZM505.99 433.94h6.10v4.4h-6.10ZM533.61 436.18h5.61v4.4h-5.61ZM546.50 454.13h7.14v4.4h-7.14ZM563.99 454.57h7.24v4.4h-7.24ZM610.12 436.52h5.53v4.4h-5.53ZM637.44 442.95h4.68v4.4h-4.68ZM662.26 438.71h5.05v4.4h-5.05ZM686.54 436.74h5.49v4.4h-5.49ZM709.27 433.88h6.12v4.4h-6.12ZM735.78 434.86h5.90v4.4h-5.90ZM739.04 454.15h7.14v4.4h-7.14ZM782.50 451.52h6.57v4.4h-6.57ZM814.94 439.12h4.96v4.4h-4.96ZM840.38 439.17h4.95v4.4h-4.95ZM865.61 438.71h5.05v4.4h-5.05ZM889.23 435.89h5.67v4.4h-5.67ZM912.93 434.15h6.06v4.4h-6.06ZM904.71 439.60h4.86v4.4h-4.86ZM960.31 431.76h6.58v4.4h-6.58ZM986.08 431.96h6.54v4.4h-6.54ZM1017.73 445.42h5.22v4.4h-5.22ZM1044.23 440.82h4.59v4.4h-4.59ZM1068.95 438.71h5.05v4.4h-5.05ZM1094.05 438.05h5.20v4.4h-5.20ZM1116.13 434.02h6.08v4.4h-6.08ZM1140.24 433.01h6.31v4.4h-6.31ZM1171.45 441.68h4.40v4.4h-4.40ZM1185.16 453.28h6.95v4.4h-6.95ZM1202.72 454.66h7.26v4.4h-7.26ZM1247.00 444.38h5.00v4.4h-5.00ZM1272.35 438.83h5.03v4.4h-5.03ZM1296.55 436.69h5.50v4.4h-5.50ZM1319.65 434.17h6.05v4.4h-6.05ZM1344.58 433.76h6.14v4.4h-6.14ZM1351.02 454.47h7.21v4.4h-7.21ZM1386.33 453.90h7.09v4.4h-7.09ZM1423.08 447.39h5.66v4.4h-5.66ZM1449.82 445.46h5.23v4.4h-5.23ZM1476.17 440.11h4.74v4.4h-4.74ZM1501.24 439.12h4.96v4.4h-4.96ZM1523.31 434.44h5.99v4.4h-5.99ZM1551.10 437.23h5.38v4.4h-5.38ZM1577.39 444.50h5.02v4.4h-5.02ZM1599.28 449.16h6.05v4.4h-6.05ZM1622.45 450.84h6.42v4.4h-6.42ZM1650.20 434.27h6.03v4.4h-6.03ZM1679.59 442.96h4.68v4.4h-4.68ZM1704.47 438.83h5.03v4.4h-5.03ZM1726.53 434.33h6.02v4.4h-6.02ZM1744.76 430.21h6.92v4.4h-6.92ZM1779.50 436.69h5.50v4.4h-5.50ZM1800.95 450.46h6.33v4.4h-6.33ZM1832.05 440.21h4.72v4.4h-4.72ZM1857.13 439.19h4.95v4.4h-4.95ZM1881.83 437.70h5.27v4.4h-5.27ZM1907.18 437.59h5.30v4.4h-5.30ZM1931.43 435.94h5.66v4.4h-5.66ZM1955.01 434.08h6.07v4.4h-6.07ZM1958.94 454.11h7.14v4.4h-7.14ZM1988.98 454.66h7.26v4.4h-7.26ZM2027.02 452.03h6.68v4.4h-6.68ZM2060.86 442.96h4.68v4.4h-4.68ZM2086.23 440.18h4.73v4.4h-4.73ZM2109.83 436.55h5.53v4.4h-5.53ZM2134.01 435.09h5.85v4.4h-5.85Z" fill="#000"/></g>
<text x="79.30" y="556.2" class="tk" textLength="14.6" lengthAdjust="spacingAndGlyphs">3</text>
<text x="2148.5" y="556.2" class="tk" textLength="37.8" lengthAdjust="spacingAndGlyphs">5.8</text>
<text x="79.30" y="530.2" class="tk" textLength="14.6" lengthAdjust="spacingAndGlyphs">6</text>
<text x="2148.5" y="530.2" class="tk" textLength="52.5" lengthAdjust="spacingAndGlyphs">11.7</text>
<text x="79.30" y="504.1" class="tk" textLength="14.6" lengthAdjust="spacingAndGlyphs">9</text>
<text x="2148.5" y="504.1" class="tk" textLength="52.5" lengthAdjust="spacingAndGlyphs">17.5</text>
<text x="71.45" y="478.0" class="tk" textLength="30.3" lengthAdjust="spacingAndGlyphs">12</text>
<text x="2148.5" y="478.0" class="tk" textLength="52.5" lengthAdjust="spacingAndGlyphs">23.3</text>
<text x="71.45" y="452.0" class="tk" textLength="30.3" lengthAdjust="spacingAndGlyphs">15</text>
<text x="2148.5" y="452.0" class="tk" textLength="52.5" lengthAdjust="spacingAndGlyphs">29.2</text>
<text transform="translate(57.2 496.0) rotate(-90)" class="lb" textLength="51" lengthAdjust="spacingAndGlyphs" x="-25.5">m/s</text>
<text transform="translate(2235 496.0) rotate(-90)" class="lb" textLength="85.5" lengthAdjust="spacingAndGlyphs" x="-42.8">nudos</text>
<text x="989.7" y="414.1" class="ti" textLength="271.3" lengthAdjust="spacingAndGlyphs">Bahia de Coquimbo</text>
<path d="M112.5 727.5H2137.5M112.5 701.5H2137.5M112.5 675.5H2137.5M112.5 648.5H2137.5M112.5 622.5H2137.5" stroke="#000" stroke-opacity="0.15" stroke-width="1" fill="none"/>
<path d="M315.5 604.5V745.5M518.5 604.5V745.5M722.5 604.5V745.5M925.5 604.5V745.5M1129.5 604.5V745.5M1332.5 604.5V745.5M1536.5 604.5V745.5M1739.5 604.5V745.5M1942.5 604.5V745.5" stroke="#262626" stroke-opacity="0.15" stroke-width="1" fill="none"/>
<path d="M112.0 604.5H2138.0M112.0 745.5H2138.0M112.5 745.5v-20M112.5 604.5v20M315.5 745.5v-20M315.5 604.5v20M518.5 745.5v-20M518.5 604.5v20M722.5 745.5v-20M722.5 604.5v20M925.5 745.5v-20M925.5 604.5v20M1129.5 745.5v-20M1129.5 604.5v20M1332.5 745.5v-20M1332.5 604.5v20M1536.5 745.5v-20M1536.5 604.5v20M1739.5 745.5v-20M1739.5 604.5v20M1942.5 745.5v-20M1942.5 604.5v20" stroke="#262626" stroke-width="1" fill="none"/>
<path d="M112.5 604.5V745.5M2137.5 604.5V745.5M112.5 727.5h20M2137.5 727.5h-20M112.5 701.5h20M2137.5 701.5h-20M112.5 675.5h20M2137.5 675.5h-20M112.5 648.5h20M2137.5 648.5h-20M112.5 622.5h20M2137.5 622.5h-20" stroke="#000" stroke-width="1" fill="none"/>
<g clip-path="url(#c3)">
<path d="M112.5 737.4L121.0 723.8L129.4 730.2L137.9 731.3L146.4 739.7L154.9 752.9L163.3 746.1L171.8 735.2L180.3 732.4L188.8 726.7L197.2 728.3L205.7 730.2L214.2 742.7L222.6 740.4L231.1 727.4L239.6 722.2L248.1 718.8L256.5 721.0L265.0 724.5L273.5 718.8L282.0 712.4L290.4 719.2L298.9 726.1L307.4 723.3L315.8 728.3L324.3 732.0L332.8 733.6L341.3 734.3L349.7 730.2L358.2 732.4L366.7 732.9L375.2 727.4L383.6 732.0L392.1 736.5L400.6 749.5L409.0 729.0L417.5 714.2L426.0 703.9L434.5 701.0L442.9 698.7L451.4 698.2L459.9 699.4L468.4 700.5L476.8 702.8L485.3 705.1L493.8 714.2L502.2 720.6L510.7 722.2L519.2 727.4L527.7 735.2L536.1 733.6L544.6 730.6L553.1 731.3L561.6 737.4L570.0 750.7L578.5 752.9L587.0 745.0L595.4 735.2L603.9 726.1L612.4 723.3L620.9 718.8L629.3 710.8L637.8 704.6L646.3 698.2L654.8 697.8L663.2 701.7L671.7 702.8L680.2 705.1L688.7 701.0L697.1 706.2L705.6 709.6L714.1 713.1L722.5 719.9L731.0 731.3L739.5 734.3L748.0 735.9L756.4 738.8L764.9 739.3L773.4 739.3L781.9 738.1L790.3 740.4L798.8 752.9L807.3 742.7L815.7 727.4L824.2 719.9L832.7 713.1L841.2 713.1L849.6 714.7L858.1 706.9L866.6 698.7L875.1 697.8L883.5 698.2L892.0 700.1L900.5 707.4L908.9 713.1L917.4 720.6L925.9 721.5L934.4 719.9L942.8 719.2L951.3 717.6L959.8 721.5L968.3 724.5L976.7 727.4L985.2 730.2L993.7 734.3L1002.1 739.7L1010.6 742.7L1019.1 727.9L1027.6 706.9L1036.0 694.1L1044.5 698.2L1053.0 700.1L1061.5 697.8L1069.9 691.4L1078.4 682.3L1086.9 681.8L1095.3 686.9L1103.8 697.1L1112.3 706.2L1120.8 706.9L1129.2 709.2L1137.7 713.7L1146.2 716.5L1154.7 725.1L1163.1 730.2L1171.6 732.0L1180.1 732.0L1188.5 732.0L1197.0 735.2L1205.5 742.7L1214.0 741.5L1222.4 729.7L1230.9 732.9L1239.4 714.7L1247.9 705.1L1256.3 704.6L1264.8 698.7L1273.3 695.5L1281.7 689.6L1290.2 688.0L1298.7 690.3L1307.2 701.0L1315.6 707.4L1324.1 716.0L1332.6 721.5L1341.1 730.6L1349.5 737.0L1358.0 739.7L1366.5 735.9L1374.9 731.3L1383.4 732.9L1391.9 738.8L1400.4 742.7L1408.8 721.5L1417.3 719.2L1425.8 715.3L1434.3 732.9L1442.7 735.9L1451.2 728.3L1459.7 721.0L1468.1 719.2L1476.6 719.9L1485.1 711.9L1493.6 706.9L1502.0 707.8L1510.5 716.9L1519.0 714.2L1527.5 721.5L1535.9 720.6L1544.4 722.2L1552.9 730.6L1561.3 733.6L1569.8 731.3L1578.3 733.6L1586.8 746.1L1595.2 738.8L1603.7 730.6L1612.2 728.3L1620.7 729.7L1629.1 720.6L1637.6 728.3L1646.1 737.0L1654.6 732.4L1663.0 727.4L1671.5 720.6L1680.0 722.9L1688.4 715.3L1696.9 706.2L1705.4 702.8L1713.9 711.9L1722.3 714.2L1730.8 712.4L1739.3 716.5L1747.8 712.4L1756.2 714.2L1764.7 719.9L1773.2 730.2L1781.6 735.9L1790.1 733.6L1798.6 732.4L1807.1 739.7L1815.5 750.7L1824.0 740.4L1832.5 733.6L1841.0 721.5L1849.4 714.2L1857.9 711.5L1866.4 698.2L1874.8 691.0L1883.3 691.0L1891.8 685.0L1900.3 675.9L1908.7 682.3L1917.2 702.3L1925.7 732.0L1934.2 737.4L1942.6 725.6L1951.1 725.1L1959.6 722.2L1968.0 721.0L1976.5 732.4L1985.0 739.3L1993.5 745.0L2001.9 740.4L2010.4 732.4L2018.9 731.3L2027.4 742.7L2035.8 736.5L2044.3 720.6L2052.8 702.3L2061.2 688.7L2069.7 676.6L2078.2 672.0L2086.7 675.0L2095.1 675.0L2103.6 679.6L2112.1 690.3L2120.6 722.2L2129.0 709.6L2137.5 720.6" stroke="#035a89" stroke-width="2.6" fill="none"/>
<g fill="#1b779d" stroke="#035a89" stroke-width="3">
<circle cx="112.5" cy="737.4" r="6.2"/>
<circle cx="121.0" cy="723.8" r="6.2"/>
<circle cx="129.4" cy="730.2" r="6.2"/>
<circle cx="137.9" cy="731.3" r="6.2"/>
<circle cx="146.4" cy="739.7" r="6.2"/>
<circle cx="154.9" cy="752.9" r="6.2"/>
<circle cx="163.3" cy="746.1" r="6.2"/>
<circle cx="171.8" cy="735.2" r="6.2"/>
<circle cx="180.3" cy="732.4" r="6.2"/>
<circle cx="188.8" cy="726.7" r="6.2"/>
<circle cx="197.2" cy="728.3" r="6.2"/>
<circle cx="205.7" cy="730.2" r="6.2"/>
<circle cx="214.2" cy="742.7" r="6.2"/>
<circle cx="222.6" cy="740.4" r="6.2"/>
<circle cx="231.1" cy="727.4" r="6.2"/>
<circle cx="239.6" cy="722.2" r="6.2"/>
<circle cx="248.1" cy="718.8" r="6.2"/>
<circle cx="256.5" cy="721.0" r="6.2"/>
<circle cx="265.0" cy="724.5" r="6.2"/>
<circle cx="273.5" cy="718.8" r="6.2"/>
<circle cx="282.0" cy="712.4" r="6.2"/>
<circle cx="290.4" cy="719.2" r="6.2"/>
<circle cx="298.9" cy="726.1" r="6.2"/>
<circle cx="307.4" cy="723.3" r="6.2"/>
<circle cx="315.8" cy="728.3" r="6.2"/>
<circle cx="324.3" cy="732.0" r="6.2"/>
<circle cx="332.8" cy="733.6" r="6.2"/>
<circle cx="341.3" cy="734.3" r="6.2"/>
<circle cx="349.7" cy="730.2" r="6.2"/>
<circle cx="358.2" cy="732.4" r="6.2"/>
<circle cx="366.7" cy="732.9" r="6.2"/>
<circle cx="375.2" cy="727.4" r="6.2"/>
<circle cx="383.6" cy="732.0" r="6.2"/>
<circle cx="392.1" cy="736.5" r="6.2"/>
<circle cx="400.6" cy="749.5" r="6.2"/>
<circle cx="409.0" cy="729.0" r="6.2"/>
<circle cx="417.5" cy="714.2" r="6.2"/>
<circle cx="426.0" cy="703.9" r="6.2"/>
<circle cx="434.5" cy="701.0" r="6.2"/>
<circle cx="442.9" cy="698.7" r="6.2"/>
<circle cx="451.4" cy="698.2" r="6.2"/>
<circle cx="459.9" cy="699.4" r="6.2"/>
<circle cx="468.4" cy="700.5" r="6.2"/>
<circle cx="476.8" cy="702.8" r="6.2"/>
<circle cx="485.3" cy="705.1" r="6.2"/>
<circle cx="493.8" cy="714.2" r="6.2"/>
<circle cx="502.2" cy="720.6" r="6.2"/>
<circle cx="510.7" cy="722.2" r="6.2"/>
<circle cx="519.2" cy="727.4" r="6.2"/>
<circle cx="527.7" cy="735.2" r="6.2"/>
<circle cx="536.1" cy="733.6" r="6.2"/>
<circle cx="544.6" cy="730.6" r="6.2"/>
<circle cx="553.1" cy="731.3" r="6.2"/>
<circle cx="561.6" cy="737.4" r="6.2"/>
<circle cx="570.0" cy="750.7" r="6.2"/>
<circle cx="578.5" cy="752.9" r="6.2"/>
<circle cx="587.0" cy="745.0" r="6.2"/>
<circle cx="595.4" cy="735.2" r="6.2"/>
<circle cx="603.9" cy="726.1" r="6.2"/>
<circle cx="612.4" cy="723.3" r="6.2"/>
<circle cx="620.9" cy="718.8" r="6.2"/>
<circle cx="629.3" cy="710.8" r="6.2"/>
<circle cx="637.8" cy="704.6" r="6.2"/>
<circle cx="646.3" cy="698.2" r="6.2"/>
<circle cx="654.8" cy="697.8" r="6.2"/>
<circle cx="663.2" cy="701.7" r="6.2"/>
<circle cx="671.7" cy="702.8" r="6.2"/>
<circle cx="680.2" cy="705.1" r="6.2"/>
<circle cx="688.7" cy="701.0" r="6.2"/>
<circle cx="697.1" cy="706.2" r="6.2"/>
<circle cx="705.6" cy="709.6" r="6.2"/>
<circle cx="714.1" cy="713.1" r="6.2"/>
<circle cx="722.5" cy="719.9" r="6.2"/>
<circle cx="731.0" cy="731.3" r="6.2"/>
<circle cx="739.5" cy="734.3" r="6.2"/>
<circle cx="748.0" cy="735.9" r="6.2"/>
<circle cx="756.4" cy="738.8" r="6.2"/>
<circle cx="764.9" cy="739.3" r="6.2"/>
<circle cx="773.4" cy="739.3" r="6.2"/>
<circle cx="781.9" cy="738.1" r="6.2"/>
<circle cx="790.3" cy="740.4" r="6.2"/>
<circle cx="798.8" cy="752.9" r="6.2"/>
<circle cx="807.3" cy="742.7" r="6.2"/>
<circle cx="815.7" cy="727.4" r="6.2"/>
<circle cx="824.2" cy="719.9" r="6.2"/>
<circle cx="832.7" cy="713.1" r="6.2"/>
<circle cx="841.2" cy="713.1" r="6.2"/>
<circle cx="849.6" cy="714.7" r="6.2"/>
<circle cx="858.1" cy="706.9" r="6.2"/>
<circle cx="866.6" cy="698.7" r="6.2"/>
<circle cx="875.1" cy="697.8" r="6.2"/>
<circle cx="883.5" cy="698.2" r="6.2"/>
<circle cx="892.0" cy="700.1" r="6.2"/>
<circle cx="900.5" cy="707.4" r="6.2"/>
<circle cx="908.9" cy="713.1" r="6.2"/>
<circle cx="917.4" cy="720.6" r="6.2"/>
<circle cx="925.9" cy="721.5" r="6.2"/>
<circle cx="934.4" cy="719.9" r="6.2"/>
<circle cx="942.8" cy="719.2" r="6.2"/>
<circle cx="951.3" cy="717.6" r="6.2"/>
<circle cx="959.8" cy="721.5" r="6.2"/>
<circle cx="968.3" cy="724.5" r="6.2"/>
<circle cx="976.7" cy="727.4" r="6.2"/>
<circle cx="985.2" cy="730.2" r="6.2"/>
<circle cx="993.7" cy="734.3" r="6.2"/>
<circle cx="1002.1" cy="739.7" r="6.2"/>
<circle cx="1010.6" cy="742.7" r="6.2"/>
<circle cx="1019.1" cy="727.9" r="6.2"/>
<circle cx="1027.6" cy="706.9" r="6.2"/>
<circle cx="1036.0" cy="694.1" r="6.2"/>
<circle cx="1044.5" cy="698.2" r="6.2"/>
<circle cx="1053.0" cy="700.1" r="6.2"/>
<circle cx="1061.5" cy="697.8" r="6.2"/>
<circle cx="1069.9" cy="691.4" r="6.2"/>
<circle cx="1078.4" cy="682.3" r="6.2"/>
<circle cx="1086.9" cy="681.8" r="6.2"/>
<circle cx="1095.3" cy="686.9" r="6.2"/>
<circle cx="1103.8" cy="697.1" r="6.2"/>
<circle cx="1112.3" cy="706.2" r="6.2"/>
<circle cx="1120.8" cy="706.9" r="6.2"/>
<circle cx="1129.2" cy="709.2" r="6.2"/>
<circle cx="1137.7" cy="713.7" r="6.2"/>
<circle cx="1146.2" cy="716.5" r="6.2"/>
<circle cx="1154.7" cy="725.1" r="6.2"/>
<circle cx="1163.1" cy="730.2" r="6.2"/>
<circle cx="1171.6" cy="732.0" r="6.2"/>
<circle cx="1180.1" cy="732.0" r="6.2"/>
<circle cx="1188.5" cy="732.0" r="6.2"/>
<circle cx="1197.0" cy="735.2" r="6.2"/>
<circle cx="1205.5" cy="742.7" r="6.2"/>
<circle cx="1214.0" cy="741.5" r="6.2"/>
<circle cx="1222.4" cy="729.7" r="6.2"/>
<circle cx="1230.9" cy="732.9" r="6.2"/>
<circle cx="1239.4" cy="714.7" r="6.2"/>
<circle cx="1247.9" cy="705.1" r="6.2"/>
<circle cx="1256.3" cy="704.6" r="6.2"/>
<circle cx="1264.8" cy="698.7" r="6.2"/>
<circle cx="1273.3" cy="695.5" r="6.2"/>
<circle cx="1281.7" cy="689.6" r="6.2"/>
<circle cx="1290.2" cy="688.0" r="6.2"/>
<circle cx="1298.7" cy="690.3" r="6.2"/>
<circle cx="1307.2" cy="701.0" r="6.2"/>
<circle cx="1315.6" cy="707.4" r="6.2"/>
<circle cx="1324.1" cy="716.0" r="6.2"/>
<circle cx="1332.6" cy="721.5" r="6.2"/>
<circle cx="1341.1" cy="730.6" r="6.2"/>
<circle cx="1349.5" cy="737.0" r="6.2"/>
<circle cx="1358.0" cy="739.7" r="6.2"/>
<circle cx="1366.5" cy="735.9" r="6.2"/>
<circle cx="1374.9" cy="731.3" r="6.2"/>
<circle cx="1383.4" cy="732.9" r="6.2"/>
<circle cx="1391.9" cy="738.8" r="6.2"/>
<circle cx="1400.4" cy="742.7" r="6.2"/>
<circle cx="1408.8" cy="721.5" r="6.2"/>
<circle cx="1417.3" cy="719.2" r="6.2"/>
<circle cx="1425.8" cy="715.3" r="6.2"/>
<circle cx="1434.3" cy="732.9" r="6.2"/>
<circle cx="1442.7" cy="735.9" r="6.2"/>
<circle cx="1451.2" cy="728.3" r="6.2"/>
<circle cx="1459.7" cy="721.0" r="6.2"/>
<circle cx="1468.1" cy="719.2" r="6.2"/>
<circle cx="1476.6" cy="719.9" r="6.2"/>
<circle cx="1485.1" cy="711.9" r="6.2"/>
<circle cx="1493.6" cy="706.9" r="6.2"/>
<circle cx="1502.0" cy="707.8" r="6.2"/>
<circle cx="1510.5" cy="716.9" r="6.2"/>
<circle cx="1519.0" cy="714.2" r="6.2"/>
<circle cx="1527.5" cy="721.5" r="6.2"/>
<circle cx="1535.9" cy="720.6" r="6.2"/>
<circle cx="1544.4" cy="722.2" r="6.2"/>
<circle cx="1552.9" cy="730.6" r="6.2"/>
<circle cx="1561.3" cy="733.6" r="6.2"/>
<circle cx="1569.8" cy="731.3" r="6.2"/>
<circle cx="1578.3" cy="733.6" r="6.2"/>
<circle cx="1586.8" cy="746.1" r="6.2"/>
<circle cx="1595.2" cy="738.8" r="6.2"/>
<circle cx="1603.7" cy="730.6" r="6.2"/>
<circle cx="1612.2" cy="728.3" r="6.2"/>
<circle cx="1620.7" cy="729.7" r="6.2"/>
<circle cx="1629.1" cy="720.6" r="6.2"/>
<circle cx="1637.6" cy="728.3" r="6.2"/>
<circle cx="1646.1" cy="737.0" r="6.2"/>
<circle cx="1654.6" cy="732.4" r="6.2"/>
<circle cx="1663.0" cy="727.4" r="6.2"/>
<circle cx="1671.5" cy="720.6" r="6.2"/>
<circle cx="1680.0" cy="722.9" r="6.2"/>
<circle cx="1688.4" cy="715.3" r="6.2"/>
<circle cx="1696.9" cy="706.2" r="6.2"/>
<circle cx="1705.4" cy="702.8" r="6.2"/>
<circle cx="1713.9" cy="711.9" r="6.2"/>
<circle cx="1722.3" cy="714.2" r="6.2"/>
<circle cx="1730.8" cy="712.4" r="6.2"/>
<circle cx="1739.3" cy="716.5" r="6.2"/>
<circle cx="1747.8" cy="712.4" r="6.2"/>
<circle cx="1756.2" cy="714.2" r="6.2"/>
<circle cx="1764.7" cy="719.9" r="6.2"/>
<circle cx="1773.2" cy="730.2" r="6.2"/>
<circle cx="1781.6" cy="735.9" r="6.2"/>
<circle cx="1790.1" cy="733.6" r="6.2"/>
<circle cx="1798.6" cy="732.4" r="6.2"/>
<circle cx="1807.1" cy="739.7" r="6.2"/>
<circle cx="1815.5" cy="750.7" r="6.2"/>
<circle cx="1824.0" cy="740.4" r="6.2"/>
<circle cx="1832.5" cy="733.6" r="6.2"/>
<circle cx="1841.0" cy="721.5" r="6.2"/>
<circle cx="1849.4" cy="714.2" r="6.2"/>
<circle cx="1857.9" cy="711.5" r="6.2"/>
<circle cx="1866.4" cy="698.2" r="6.2"/>
<circle cx="1874.8" cy="691.0" r="6.2"/>
<circle cx="1883.3" cy="691.0" r="6.2"/>
<circle cx="1891.8" cy="685.0" r="6.2"/>
<circle cx="1900.3" cy="675.9" r="6.2"/>
<circle cx="1908.7" cy="682.3" r="6.2"/>
<circle cx="1917.2" cy="702.3" r="6.2"/>
<circle cx="1925.7" cy="732.0" r="6.2"/>
<circle cx="1934.2" cy="737.4" r="6.2"/>
<circle cx="1942.6" cy="725.6" r="6.2"/>
<circle cx="1951.1" cy="725.1" r="6.2"/>
<circle cx="1959.6" cy="722.2" r="6.2"/>
<circle cx="1968.0" cy="721.0" r="6.2"/>
<circle cx="1976.5" cy="732.4" r="6.2"/>
<circle cx="1985.0" cy="739.3" r="6.2"/>
<circle cx="1993.5" cy="745.0" r="6.2"/>
<circle cx="2001.9" cy="740.4" r="6.2"/>
<circle cx="2010.4" cy="732.4" r="6.2"/>
<circle cx="2018.9" cy="731.3" r="6.2"/>
<circle cx="2027.4" cy="742.7" r="6.2"/>
<circle cx="2035.8" cy="736.5" r="6.2"/>
<circle cx="2044.3" cy="720.6" r="6.2"/>
<circle cx="2052.8" cy="702.3" r="6.2"/>
<circle cx="2061.2" cy="688.7" r="6.2"/>
<circle cx="2069.7" cy="676.6" r="6.2"/>
<circle cx="2078.2" cy="672.0" r="6.2"/>
<circle cx="2086.7" cy="675.0" r="6.2"/>
<circle cx="2095.1" cy="675.0" r="6.2"/>
<circle cx="2103.6" cy="679.6" r="6.2"/>
<circle cx="2112.1" cy="690.3" r="6.2"/>
<circle cx="2120.6" cy="722.2" r="6.2"/>
<circle cx="2129.0" cy="709.6" r="6.2"/>
<circle cx="2137.5" cy="720.6" r="6.2"/>
</g></g>
<g clip-path="url(#a3)"><path d="M112.50 622.12L130.99 619.13M137.92 622.12L156.06 618.26M163.34 622.12L154.06 633.47M188.76 622.12L171.38 627.38M214.17 622.12L204.17 633.18M239.59 622.12L253.88 630.69M265.01 622.12L283.97 622.98M290.43 622.12L304.55 613.43M315.85 622.12L323.07 610.10M341.27 622.12L351.00 610.96M366.68 622.12L362.70 609.41M392.10 622.12L386.82 609.64M417.52 622.12L436.42 623.45M442.94 622.12L461.15 618.41M468.36 622.12L485.31 616.25M493.78 622.12L506.67 612.58M519.19 622.12L525.27 609.81M544.61 622.12L554.74 611.13M570.03 622.12L554.95 614.22M595.45 622.12L610.52 614.21M620.87 622.12L638.20 627.45M646.29 622.12L665.29 622.12M671.71 622.12L688.84 616.51M697.12 622.12L710.69 613.02M722.54 622.12L729.28 609.97M747.96 622.12L753.87 609.77M773.38 622.12L770.76 609.25M798.80 622.12L787.66 611.59M824.22 622.12L841.12 628.06M849.63 622.12L868.11 625.15M875.05 622.12L891.51 615.63M900.47 622.12L912.21 611.90M925.89 622.12L933.11 610.10M951.31 622.12L958.62 610.13M976.73 622.12L982.82 609.81M1002.14 622.12L1011.07 610.65M1027.56 622.12L1045.32 617.50M1052.98 622.12L1069.96 616.29M1078.40 622.12L1091.49 612.70M1103.82 622.12L1113.97 611.13M1129.24 622.12L1136.61 610.14M1154.65 622.12L1161.46 609.99M1180.07 622.12L1175.69 609.47M1205.49 622.12L1186.86 624.68M1230.91 622.12L1245.53 630.43M1256.33 622.12L1274.51 618.34M1281.75 622.12L1297.08 614.45M1307.17 622.12L1317.96 611.43M1332.58 622.12L1340.12 610.19M1358.00 622.12L1362.38 609.47M1383.42 622.12L1384.92 609.17M1408.84 622.12L1394.14 630.36M1434.26 622.12L1441.39 634.18M1459.68 622.12L1472.45 631.75M1485.09 622.12L1503.66 619.36M1510.51 622.12L1524.78 613.54M1535.93 622.12L1545.69 610.97M1561.35 622.12L1570.48 610.72M1586.77 622.12L1575.60 611.61M1612.19 622.12L1620.68 633.75M1637.60 622.12L1640.23 635.00M1663.02 622.12L1676.82 631.06M1688.44 622.12L1707.23 624.08M1713.86 622.12L1727.81 613.30M1739.28 622.12L1747.30 610.34M1764.70 622.12L1776.32 611.84M1790.12 622.12L1792.14 609.20M1815.53 622.12L1810.80 634.72M1840.95 622.12L1857.03 629.05M1866.37 622.12L1884.71 618.73M1891.79 622.12L1905.74 613.30M1917.21 622.12L1925.99 610.60M1942.63 622.12L1950.47 610.28M1968.04 622.12L1973.77 609.73M1993.46 622.12L1989.48 609.41M2018.88 622.12L2017.66 609.15M2044.30 622.12L2060.85 615.74M2069.72 622.12L2083.09 612.89M2095.14 622.12L2106.42 611.67M2120.55 622.12L2129.76 610.75" stroke="#000" stroke-width="4.4" fill="none"/><path d="M128.46 616.93h5.06v4.4h-5.06ZM153.44 616.06h5.25v4.4h-5.25ZM150.61 631.27h6.90v4.4h-6.90ZM168.60 625.18h5.56v4.4h-5.56ZM200.76 630.98h6.83v4.4h-6.83ZM250.74 628.49h6.28v4.4h-6.28ZM281.67 620.78h4.59v4.4h-4.59ZM301.39 611.23h6.31v4.4h-6.31ZM319.55 607.90h7.05v4.4h-7.05ZM347.58 608.76h6.86v4.4h-6.86ZM359.10 607.21h7.20v4.4h-7.20ZM383.25 607.44h7.15v4.4h-7.15ZM434.08 621.25h4.69v4.4h-4.69ZM458.54 616.21h5.22v4.4h-5.22ZM482.46 614.05h5.69v4.4h-5.69ZM503.42 610.38h6.50v4.4h-6.50ZM521.71 607.61h7.11v4.4h-7.11ZM551.33 608.93h6.82v4.4h-6.82ZM551.88 612.02h6.14v4.4h-6.14ZM607.45 612.01h6.14v4.4h-6.14ZM635.41 625.25h5.57v4.4h-5.57ZM663.09 619.92h4.40v4.4h-4.40ZM686.03 614.31h5.63v4.4h-5.63ZM707.49 610.82h6.40v4.4h-6.40ZM725.74 607.77h7.07v4.4h-7.07ZM750.31 607.57h7.12v4.4h-7.12ZM767.14 607.05h7.23v4.4h-7.23ZM784.30 609.39h6.72v4.4h-6.72ZM838.27 625.86h5.70v4.4h-5.70ZM865.58 622.95h5.07v4.4h-5.07ZM888.60 613.43h5.83v4.4h-5.83ZM908.88 609.70h6.65v4.4h-6.65ZM929.59 607.90h7.05v4.4h-7.05ZM955.10 607.93h7.04v4.4h-7.04ZM979.26 607.61h7.11v4.4h-7.11ZM1007.61 608.45h6.92v4.4h-6.92ZM1042.61 615.30h5.42v4.4h-5.42ZM1067.12 614.09h5.68v4.4h-5.68ZM1088.26 610.50h6.47v4.4h-6.47ZM1110.56 608.93h6.82v4.4h-6.82ZM1133.09 607.94h7.04v4.4h-7.04ZM1157.92 607.79h7.07v4.4h-7.07ZM1172.10 607.27h7.18v4.4h-7.18ZM1184.38 622.48h4.96v4.4h-4.96ZM1242.42 628.23h6.23v4.4h-6.23ZM1271.89 616.14h5.23v4.4h-5.23ZM1294.03 612.25h6.09v4.4h-6.09ZM1314.58 609.23h6.75v4.4h-6.75ZM1336.61 607.99h7.03v4.4h-7.03ZM1358.79 607.27h7.18v4.4h-7.18ZM1381.29 606.97h7.25v4.4h-7.25ZM1391.03 628.16h6.21v4.4h-6.21ZM1437.86 631.98h7.05v4.4h-7.05ZM1469.19 629.55h6.52v4.4h-6.52ZM1501.16 617.16h5.01v4.4h-5.01ZM1521.63 611.34h6.29v4.4h-6.29ZM1542.26 608.77h6.85v4.4h-6.85ZM1567.02 608.52h6.91v4.4h-6.91ZM1572.25 609.41h6.71v4.4h-6.71ZM1617.20 631.55h6.96v4.4h-6.96ZM1636.61 632.80h7.23v4.4h-7.23ZM1673.64 628.86h6.37v4.4h-6.37ZM1704.81 621.88h4.83v4.4h-4.83ZM1724.64 611.10h6.34v4.4h-6.34ZM1743.80 608.14h6.99v4.4h-6.99ZM1772.99 609.64h6.66v4.4h-6.66ZM1788.52 607.00h7.24v4.4h-7.24ZM1807.22 632.52h7.17v4.4h-7.17ZM1854.07 626.85h5.92v4.4h-5.92ZM1882.14 616.53h5.15v4.4h-5.15ZM1902.57 611.10h6.34v4.4h-6.34ZM1922.52 608.40h6.94v4.4h-6.94ZM1946.97 608.08h7.01v4.4h-7.01ZM1970.20 607.53h7.13v4.4h-7.13ZM1985.88 607.21h7.20v4.4h-7.20ZM2014.03 606.95h7.25v4.4h-7.25ZM2057.95 613.54h5.81v4.4h-5.81ZM2079.88 610.69h6.43v4.4h-6.43ZM2103.07 609.47h6.70v4.4h-6.70ZM2126.31 608.55h6.90v4.4h-6.90Z" fill="#000"/></g>
<text x="79.30" y="736.0" class="tk" textLength="14.6" lengthAdjust="spacingAndGlyphs">3</text>
<text x="2148.5" y="736.0" class="tk" textLength="37.8" lengthAdjust="spacingAndGlyphs">5.8</text>
<text x="79.30" y="709.5" class="tk" textLength="14.6" lengthAdjust="spacingAndGlyphs">6</text>
<text x="2148.5" y="709.5" class="tk" textLength="52.5" lengthAdjust="spacingAndGlyphs">11.7</text>
<text x="79.30" y="683.1" class="tk" textLength="14.6" lengthAdjust="spacingAndGlyphs">9</text>
<text x="2148.5" y="683.1" class="tk" textLength="52.5" lengthAdjust="spacingAndGlyphs">17.5</text>
<text x="71.45" y="656.7" class="tk" textLength="30.3" lengthAdjust="spacingAndGlyphs">12</text>
<text x="2148.5" y="656.7" class="tk" textLength="52.5" lengthAdjust="spacingAndGlyphs">23.3</text>
<text x="71.45" y="630.2" class="tk" textLength="30.3" lengthAdjust="spacingAndGlyphs">15</text>
<text x="2148.5" y="630.2" class="tk" textLength="52.5" lengthAdjust="spacingAndGlyphs">29.2</text>
<text transform="translate(57.2 675.0) rotate(-90)" class="lb" textLength="51" lengthAdjust="spacingAndGlyphs" x="-25.5">m/s</text>
<text transform="translate(2235 675.0) rotate(-90)" class="lb" textLength="85.5" lengthAdjust="spacingAndGlyphs" x="-42.8">nudos</text>
<text x="1024.3" y="592.5" class="ti" textLength="103.0" lengthAdjust="spacingAndGlyphs">Tongoy</text>
<path d="M112.5 906.5H2137.5M112.5 880.5H2137.5M112.5 854.5H2137.5M112.5 827.5H2137.5M112.5 801.5H2137.5" stroke="#000" stroke-opacity="0.15" stroke-width="1" fill="none"/>
<path d="M315.5 784.5V923.5M518.5 784.5V923.5M722.5 784.5V923.5M925.5 784.5V923.5M1129.5 784.5V923.5M1332.5 784.5V923.5M1536.5 784.5V923.5M1739.5 784.5V923.5M1942.5 784.5V923.5" stroke="#262626" stroke-opacity="0.15" stroke-width="1" fill="none"/>
<path d="M112.0 784.5H2138.0M112.0 923.5H2138.0M112.5 923.5v-20M112.5 784.5v20M315.5 923.5v-20M315.5 784.5v20M518.5 923.5v-20M518.5 784.5v20M722.5 923.5v-20M722.5 784.5v20M925.5 923.5v-20M925.5 784.5v20M1129.5 923.5v-20M1129.5 784.5v20M1332.5 923.5v-20M1332.5 784.5v20M1536.5 923.5v-20M1536.5 784.5v20M1739.5 923.5v-20M1739.5 784.5v20M1942.5 923.5v-20M1942.5 784.5v20" stroke="#262626" stroke-width="1" fill="none"/>
<path d="M112.5 784.5V923.5M2137.5 784.5V923.5M112.5 906.5h20M2137.5 906.5h-20M112.5 880.5h20M2137.5 880.5h-20M112.5 854.5h20M2137.5 854.5h-20M112.5 827.5h20M2137.5 827.5h-20M112.5 801.5h20M2137.5 801.5h-20" stroke="#000" stroke-width="1" fill="none"/>
<g clip-path="url(#c4)">
<path d="M112.5 917.9L121.0 921.8L129.4 932.0L137.9 932.0L146.4 932.0L154.9 919.5L163.3 914.3L171.8 906.6L180.3 894.6L188.8 902.5L197.2 902.5L205.7 909.3L214.2 908.2L222.6 910.4L231.1 904.8L239.6 910.4L248.1 909.3L256.5 906.6L265.0 903.0L273.5 895.7L282.0 895.7L290.4 891.6L298.9 887.8L307.4 881.6L315.8 883.9L324.3 886.6L332.8 880.3L341.3 882.1L349.7 881.6L358.2 884.8L366.7 888.9L375.2 893.4L383.6 899.8L392.1 902.5L400.6 897.5L409.0 895.7L417.5 892.3L426.0 887.1L434.5 882.6L442.9 877.6L451.4 878.7L459.9 873.5L468.4 871.9L476.8 874.2L485.3 875.3L493.8 878.0L502.2 874.9L510.7 877.6L519.2 879.8L527.7 882.6L536.1 887.8L544.6 893.0L553.1 901.4L561.6 909.3L570.0 914.3L578.5 916.1L587.0 911.1L595.4 909.3L603.9 912.7L612.4 913.4L620.9 910.4L629.3 905.9L637.8 898.0L646.3 893.4L654.8 891.6L663.2 885.5L671.7 886.2L680.2 882.1L688.7 880.3L697.1 875.8L705.6 878.7L714.1 881.0L722.5 883.9L731.0 883.2L739.5 884.4L748.0 885.5L756.4 887.8L764.9 892.3L773.4 895.7L781.9 902.0L790.3 909.3L798.8 909.8L807.3 911.1L815.7 915.0L824.2 905.9L832.7 894.6L841.2 891.2L849.6 888.4L858.1 883.2L866.6 877.6L875.1 875.3L883.5 869.0L892.0 860.6L900.5 860.6L908.9 861.3L917.4 858.3L925.9 853.8L934.4 850.4L942.8 848.6L951.3 844.7L959.8 845.8L968.3 848.1L976.7 851.5L985.2 856.0L993.7 861.7L1002.1 868.5L1010.6 870.8L1019.1 873.0L1027.6 868.5L1036.0 871.9L1044.5 866.7L1053.0 864.0L1061.5 861.7L1069.9 855.4L1078.4 854.5L1086.9 847.7L1095.3 844.7L1103.8 840.2L1112.3 837.9L1120.8 835.6L1129.2 835.0L1137.7 836.8L1146.2 837.9L1154.7 841.3L1163.1 844.7L1171.6 852.6L1180.1 858.3L1188.5 865.1L1197.0 875.3L1205.5 884.8L1214.0 891.2L1222.4 893.9L1230.9 894.6L1239.4 890.0L1247.9 883.2L1256.3 877.6L1264.8 874.2L1273.3 870.8L1281.7 868.1L1290.2 863.5L1298.7 856.0L1307.2 844.7L1315.6 839.5L1324.1 830.0L1332.6 832.2L1341.1 836.8L1349.5 840.9L1358.0 844.7L1366.5 849.9L1374.9 857.6L1383.4 866.2L1391.9 875.8L1400.4 887.1L1408.8 902.5L1417.3 909.3L1425.8 910.4L1434.3 912.7L1442.7 912.7L1451.2 915.0L1459.7 915.0L1468.1 913.4L1476.6 908.2L1485.1 904.8L1493.6 901.4L1502.0 890.0L1510.5 877.1L1519.0 868.5L1527.5 865.1L1535.9 863.5L1544.4 864.0L1552.9 864.4L1561.3 866.7L1569.8 873.5L1578.3 879.4L1586.8 887.1L1595.2 899.1L1603.7 907.0L1612.2 909.8L1620.7 912.7L1629.1 903.0L1637.6 905.2L1646.1 905.2L1654.6 903.6L1663.0 905.9L1671.5 907.0L1680.0 907.5L1688.4 904.3L1696.9 900.2L1705.4 891.6L1713.9 886.2L1722.3 884.4L1730.8 882.6L1739.3 876.4L1747.8 871.2L1756.2 864.0L1764.7 871.2L1773.2 877.6L1781.6 887.8L1790.1 893.4L1798.6 899.1L1807.1 904.3L1815.5 912.7L1824.0 913.8L1832.5 908.8L1841.0 905.9L1849.4 896.2L1857.9 890.0L1866.4 882.6L1874.8 870.8L1883.3 869.6L1891.8 859.0L1900.3 836.8L1908.7 826.6L1917.2 814.6L1925.7 807.3L1934.2 807.3L1942.6 814.6L1951.1 819.1L1959.6 818.2L1968.0 820.5L1976.5 826.6L1985.0 840.2L1993.5 852.6L2001.9 862.8L2010.4 867.4L2018.9 870.8L2027.4 868.5L2035.8 863.5L2044.3 861.7L2052.8 862.8L2061.2 854.9L2069.7 843.6L2078.2 834.5L2086.7 830.4L2095.1 818.6L2103.6 811.4L2112.1 805.5L2120.6 802.3L2129.0 804.6L2137.5 809.6" stroke="#035a89" stroke-width="2.6" fill="none"/>
<g fill="#1b779d" stroke="#035a89" stroke-width="3">
<circle cx="112.5" cy="917.9" r="6.2"/>
<circle cx="121.0" cy="921.8" r="6.2"/>
<circle cx="129.4" cy="932.0" r="6.2"/>
<circle cx="137.9" cy="932.0" r="6.2"/>
<circle cx="146.4" cy="932.0" r="6.2"/>
<circle cx="154.9" cy="919.5" r="6.2"/>
<circle cx="163.3" cy="914.3" r="6.2"/>
<circle cx="171.8" cy="906.6" r="6.2"/>
<circle cx="180.3" cy="894.6" r="6.2"/>
<circle cx="188.8" cy="902.5" r="6.2"/>
<circle cx="197.2" cy="902.5" r="6.2"/>
<circle cx="205.7" cy="909.3" r="6.2"/>
<circle cx="214.2" cy="908.2" r="6.2"/>
<circle cx="222.6" cy="910.4" r="6.2"/>
<circle cx="231.1" cy="904.8" r="6.2"/>
<circle cx="239.6" cy="910.4" r="6.2"/>
<circle cx="248.1" cy="909.3" r="6.2"/>
<circle cx="256.5" cy="906.6" r="6.2"/>
<circle cx="265.0" cy="903.0" r="6.2"/>
<circle cx="273.5" cy="895.7" r="6.2"/>
<circle cx="282.0" cy="895.7" r="6.2"/>
<circle cx="290.4" cy="891.6" r="6.2"/>
<circle cx="298.9" cy="887.8" r="6.2"/>
<circle cx="307.4" cy="881.6" r="6.2"/>
<circle cx="315.8" cy="883.9" r="6.2"/>
<circle cx="324.3" cy="886.6" r="6.2"/>
<circle cx="332.8" cy="880.3" r="6.2"/>
<circle cx="341.3" cy="882.1" r="6.2"/>
<circle cx="349.7" cy="881.6" r="6.2"/>
<circle cx="358.2" cy="884.8" r="6.2"/>
<circle cx="366.7" cy="888.9" r="6.2"/>
<circle cx="375.2" cy="893.4" r="6.2"/>
<circle cx="383.6" cy="899.8" r="6.2"/>
<circle cx="392.1" cy="902.5" r="6.2"/>
<circle cx="400.6" cy="897.5" r="6.2"/>
<circle cx="409.0" cy="895.7" r="6.2"/>
<circle cx="417.5" cy="892.3" r="6.2"/>
<circle cx="426.0" cy="887.1" r="6.2"/>
<circle cx="434.5" cy="882.6" r="6.2"/>
<circle cx="442.9" cy="877.6" r="6.2"/>
<circle cx="451.4" cy="878.7" r="6.2"/>
<circle cx="459.9" cy="873.5" r="6.2"/>
<circle cx="468.4" cy="871.9" r="6.2"/>
<circle cx="476.8" cy="874.2" r="6.2"/>
<circle cx="485.3" cy="875.3" r="6.2"/>
<circle cx="493.8" cy="878.0" r="6.2"/>
<circle cx="502.2" cy="874.9" r="6.2"/>
<circle cx="510.7" cy="877.6" r="6.2"/>
<circle cx="519.2" cy="879.8" r="6.2"/>
<circle cx="527.7" cy="882.6" r="6.2"/>
<circle cx="536.1" cy="887.8" r="6.2"/>
<circle cx="544.6" cy="893.0" r="6.2"/>
<circle cx="553.1" cy="901.4" r="6.2"/>
<circle cx="561.6" cy="909.3" r="6.2"/>
<circle cx="570.0" cy="914.3" r="6.2"/>
<circle cx="578.5" cy="916.1" r="6.2"/>
<circle cx="587.0" cy="911.1" r="6.2"/>
<circle cx="595.4" cy="909.3" r="6.2"/>
<circle cx="603.9" cy="912.7" r="6.2"/>
<circle cx="612.4" cy="913.4" r="6.2"/>
<circle cx="620.9" cy="910.4" r="6.2"/>
<circle cx="629.3" cy="905.9" r="6.2"/>
<circle cx="637.8" cy="898.0" r="6.2"/>
<circle cx="646.3" cy="893.4" r="6.2"/>
<circle cx="654.8" cy="891.6" r="6.2"/>
<circle cx="663.2" cy="885.5" r="6.2"/>
<circle cx="671.7" cy="886.2" r="6.2"/>
<circle cx="680.2" cy="882.1" r="6.2"/>
<circle cx="688.7" cy="880.3" r="6.2"/>
<circle cx="697.1" cy="875.8" r="6.2"/>
<circle cx="705.6" cy="878.7" r="6.2"/>
<circle cx="714.1" cy="881.0" r="6.2"/>
<circle cx="722.5" cy="883.9" r="6.2"/>
<circle cx="731.0" cy="883.2" r="6.2"/>
<circle cx="739.5" cy="884.4" r="6.2"/>
<circle cx="748.0" cy="885.5" r="6.2"/>
<circle cx="756.4" cy="887.8" r="6.2"/>
<circle cx="764.9" cy="892.3" r="6.2"/>
<circle cx="773.4" cy="895.7" r="6.2"/>
<circle cx="781.9" cy="902.0" r="6.2"/>
<circle cx="790.3" cy="909.3" r="6.2"/>
<circle cx="798.8" cy="909.8" r="6.2"/>
<circle cx="807.3" cy="911.1" r="6.2"/>
<circle cx="815.7" cy="915.0" r="6.2"/>
<circle cx="824.2" cy="905.9" r="6.2"/>
<circle cx="832.7" cy="894.6" r="6.2"/>
<circle cx="841.2" cy="891.2" r="6.2"/>
<circle cx="849.6" cy="888.4" r="6.2"/>
<circle cx="858.1" cy="883.2" r="6.2"/>
<circle cx="866.6" cy="877.6" r="6.2"/>
<circle cx="875.1" cy="875.3" r="6.2"/>
<circle cx="883.5" cy="869.0" r="6.2"/>
<circle cx="892.0" cy="860.6" r="6.2"/>
<circle cx="900.5" cy="860.6" r="6.2"/>
<circle cx="908.9" cy="861.3" r="6.2"/>
<circle cx="917.4" cy="858.3" r="6.2"/>
<circle cx="925.9" cy="853.8" r="6.2"/>
<circle cx="934.4" cy="850.4" r="6.2"/>
<circle cx="942.8" cy="848.6" r="6.2"/>
<circle cx="951.3" cy="844.7" r="6.2"/>
<circle cx="959.8" cy="845.8" r="6.2"/>
<circle cx="968.3" cy="848.1" r="6.2"/>
<circle cx="976.7" cy="851.5" r="6.2"/>
<circle cx="985.2" cy="856.0" r="6.2"/>
<circle cx="993.7" cy="861.7" r="6.2"/>
<circle cx="1002.1" cy="868.5" r="6.2"/>
<circle cx="1010.6" cy="870.8" r="6.2"/>
<circle cx="1019.1" cy="873.0" r="6.2"/>
<circle cx="1027.6" cy="868.5" r="6.2"/>
<circle cx="1036.0" cy="871.9" r="6.2"/>
<circle cx="1044.5" cy="866.7" r="6.2"/>
<circle cx="1053.0" cy="864.0" r="6.2"/>
<circle cx="1061.5" cy="861.7" r="6.2"/>
<circle cx="1069.9" cy="855.4" r="6.2"/>
<circle cx="1078.4" cy="854.5" r="6.2"/>
<circle cx="1086.9" cy="847.7" r="6.2"/>
<circle cx="1095.3" cy="844.7" r="6.2"/>
<circle cx="1103.8" cy="840.2" r="6.2"/>
<circle cx="1112.3" cy="837.9" r="6.2"/>
<circle cx="1120.8" cy="835.6" r="6.2"/>
<circle cx="1129.2" cy="835.0" r="6.2"/>
<circle cx="1137.7" cy="836.8" r="6.2"/>
<circle cx="1146.2" cy="837.9" r="6.2"/>
<circle cx="1154.7" cy="841.3" r="6.2"/>
<circle cx="1163.1" cy="844.7" r="6.2"/>
<circle cx="1171.6" cy="852.6" r="6.2"/>
<circle cx="1180.1" cy="858.3" r="6.2"/>
<circle cx="1188.5" cy="865.1" r="6.2"/>
<circle cx="1197.0" cy="875.3" r="6.2"/>
<circle cx="1205.5" cy="884.8" r="6.2"/>
<circle cx="1214.0" cy="891.2" r="6.2"/>
<circle cx="1222.4" cy="893.9" r="6.2"/>
<circle cx="1230.9" cy="894.6" r="6.2"/>
<circle cx="1239.4" cy="890.0" r="6.2"/>
<circle cx="1247.9" cy="883.2" r="6.2"/>
<circle cx="1256.3" cy="877.6" r="6.2"/>
<circle cx="1264.8" cy="874.2" r="6.2"/>
<circle cx="1273.3" cy="870.8" r="6.2"/>
<circle cx="1281.7" cy="868.1" r="6.2"/>
<circle cx="1290.2" cy="863.5" r="6.2"/>
<circle cx="1298.7" cy="856.0" r="6.2"/>
<circle cx="1307.2" cy="844.7" r="6.2"/>
<circle cx="1315.6" cy="839.5" r="6.2"/>
<circle cx="1324.1" cy="830.0" r="6.2"/>
<circle cx="1332.6" cy="832.2" r="6.2"/>
<circle cx="1341.1" cy="836.8" r="6.2"/>
<circle cx="1349.5" cy="840.9" r="6.2"/>
<circle cx="1358.0" cy="844.7" r="6.2"/>
<circle cx="1366.5" cy="849.9" r="6.2"/>
<circle cx="1374.9" cy="857.6" r="6.2"/>
<circle cx="1383.4" cy="866.2" r="6.2"/>
<circle cx="1391.9" cy="875.8" r="6.2"/>
<circle cx="1400.4" cy="887.1" r="6.2"/>
<circle cx="1408.8" cy="902.5" r="6.2"/>
<circle cx="1417.3" cy="909.3" r="6.2"/>
<circle cx="1425.8" cy="910.4" r="6.2"/>
<circle cx="1434.3" cy="912.7" r="6.2"/>
<circle cx="1442.7" cy="912.7" r="6.2"/>
<circle cx="1451.2" cy="915.0" r="6.2"/>
<circle cx="1459.7" cy="915.0" r="6.2"/>
<circle cx="1468.1" cy="913.4" r="6.2"/>
<circle cx="1476.6" cy="908.2" r="6.2"/>
<circle cx="1485.1" cy="904.8" r="6.2"/>
<circle cx="1493.6" cy="901.4" r="6.2"/>
<circle cx="1502.0" cy="890.0" r="6.2"/>
<circle cx="1510.5" cy="877.1" r="6.2"/>
<circle cx="1519.0" cy="868.5" r="6.2"/>
<circle cx="1527.5" cy="865.1" r="6.2"/>
<circle cx="1535.9" cy="863.5" r="6.2"/>
<circle cx="1544.4" cy="864.0" r="6.2"/>
<circle cx="1552.9" cy="864.4" r="6.2"/>
<circle cx="1561.3" cy="866.7" r="6.2"/>
<circle cx="1569.8" cy="873.5" r="6.2"/>
<circle cx="1578.3" cy="879.4" r="6.2"/>
<circle cx="1586.8" cy="887.1" r="6.2"/>
<circle cx="1595.2" cy="899.1" r="6.2"/>
<circle cx="1603.7" cy="907.0" r="6.2"/>
<circle cx="1612.2" cy="909.8" r="6.2"/>
<circle cx="1620.7" cy="912.7" r="6.2"/>
<circle cx="1629.1" cy="903.0" r="6.2"/>
<circle cx="1637.6" cy="905.2" r="6.2"/>
<circle cx="1646.1" cy="905.2" r="6.2"/>
<circle cx="1654.6" cy="903.6" r="6.2"/>
<circle cx="1663.0" cy="905.9" r="6.2"/>
<circle cx="1671.5" cy="907.0" r="6.2"/>
<circle cx="1680.0" cy="907.5" r="6.2"/>
<circle cx="1688.4" cy="904.3" r="6.2"/>
<circle cx="1696.9" cy="900.2" r="6.2"/>
<circle cx="1705.4" cy="891.6" r="6.2"/>
<circle cx="1713.9" cy="886.2" r="6.2"/>
<circle cx="1722.3" cy="884.4" r="6.2"/>
<circle cx="1730.8" cy="882.6" r="6.2"/>
<circle cx="1739.3" cy="876.4" r="6.2"/>
<circle cx="1747.8" cy="871.2" r="6.2"/>
<circle cx="1756.2" cy="864.0" r="6.2"/>
<circle cx="1764.7" cy="871.2" r="6.2"/>
<circle cx="1773.2" cy="877.6" r="6.2"/>
<circle cx="1781.6" cy="887.8" r="6.2"/>
<circle cx="1790.1" cy="893.4" r="6.2"/>
<circle cx="1798.6" cy="899.1" r="6.2"/>
<circle cx="1807.1" cy="904.3" r="6.2"/>
<circle cx="1815.5" cy="912.7" r="6.2"/>
<circle cx="1824.0" cy="913.8" r="6.2"/>
<circle cx="1832.5" cy="908.8" r="6.2"/>
<circle cx="1841.0" cy="905.9" r="6.2"/>
<circle cx="1849.4" cy="896.2" r="6.2"/>
<circle cx="1857.9" cy="890.0" r="6.2"/>
<circle cx="1866.4" cy="882.6" r="6.2"/>
<circle cx="1874.8" cy="870.8" r="6.2"/>
<circle cx="1883.3" cy="869.6" r="6.2"/>
<circle cx="1891.8" cy="859.0" r="6.2"/>
<circle cx="1900.3" cy="836.8" r="6.2"/>
<circle cx="1908.7" cy="826.6" r="6.2"/>
<circle cx="1917.2" cy="814.6" r="6.2"/>
<circle cx="1925.7" cy="807.3" r="6.2"/>
<circle cx="1934.2" cy="807.3" r="6.2"/>
<circle cx="1942.6" cy="814.6" r="6.2"/>
<circle cx="1951.1" cy="819.1" r="6.2"/>
<circle cx="1959.6" cy="818.2" r="6.2"/>
<circle cx="1968.0" cy="820.5" r="6.2"/>
<circle cx="1976.5" cy="826.6" r="6.2"/>
<circle cx="1985.0" cy="840.2" r="6.2"/>
<circle cx="1993.5" cy="852.6" r="6.2"/>
<circle cx="2001.9" cy="862.8" r="6.2"/>
<circle cx="2010.4" cy="867.4" r="6.2"/>
<circle cx="2018.9" cy="870.8" r="6.2"/>
<circle cx="2027.4" cy="868.5" r="6.2"/>
<circle cx="2035.8" cy="863.5" r="6.2"/>
<circle cx="2044.3" cy="861.7" r="6.2"/>
<circle cx="2052.8" cy="862.8" r="6.2"/>
<circle cx="2061.2" cy="854.9" r="6.2"/>
<circle cx="2069.7" cy="843.6" r="6.2"/>
<circle cx="2078.2" cy="834.5" r="6.2"/>
<circle cx="2086.7" cy="830.4" r="6.2"/>
<circle cx="2095.1" cy="818.6" r="6.2"/>
<circle cx="2103.6" cy="811.4" r="6.2"/>
<circle cx="2112.1" cy="805.5" r="6.2"/>
<circle cx="2120.6" cy="802.3" r="6.2"/>
<circle cx="2129.0" cy="804.6" r="6.2"/>
<circle cx="2137.5" cy="809.6" r="6.2"/>
</g></g>
<g clip-path="url(#a4)"><path d="M112.50 801.88L113.11 788.88M137.92 801.88L155.55 797.03M163.34 801.88L148.56 810.05M188.76 801.88L184.77 814.59M214.17 801.88L231.08 807.81M239.59 801.88L257.96 798.55M265.01 801.88L266.29 788.90M290.43 801.88L291.07 788.88M315.85 801.88L317.77 788.94M341.27 801.88L343.18 788.94M366.68 801.88L367.75 788.90M392.10 801.88L393.81 788.93M417.52 801.88L427.38 790.76M442.94 801.88L451.51 790.27M468.36 801.88L474.26 789.52M493.78 801.88L497.76 789.16M519.19 801.88L522.77 789.11M544.61 801.88L549.19 789.26M570.03 801.88L581.24 791.38M595.45 801.88L612.64 796.34M620.87 801.88L638.20 796.55M646.29 801.88L660.41 793.18M671.71 801.88L680.58 790.38M697.12 801.88L703.75 789.69M722.54 801.88L727.89 789.40M747.96 801.88L751.54 789.11M773.38 801.88L775.93 788.99M798.80 801.88L810.84 791.82M824.22 801.88L840.63 795.32M849.63 801.88L861.22 791.57M875.05 801.88L882.26 789.85M900.47 801.88L904.25 789.13M925.89 801.88L930.46 789.26M951.31 801.88L952.16 788.89M976.73 801.88L980.91 789.19M1002.14 801.88L1006.92 789.29M1027.56 801.88L1035.16 789.96M1052.98 801.88L1060.58 789.96M1078.40 801.88L1084.67 789.60M1103.82 801.88L1109.72 789.52M1129.24 801.88L1133.02 789.13M1154.65 801.88L1159.03 789.22M1180.07 801.88L1184.65 789.26M1205.49 801.88L1210.46 789.33M1230.91 801.88L1239.63 790.33M1256.33 801.88L1264.58 790.17M1281.75 801.88L1288.65 789.76M1307.17 801.88L1312.89 789.48M1332.58 801.88L1336.96 789.22M1358.00 801.88L1362.97 789.33M1383.42 801.88L1387.40 789.16M1408.84 801.88L1414.75 789.52M1434.26 801.88L1452.60 798.48M1459.68 801.88L1476.73 796.14M1485.09 801.88L1490.82 789.48M1510.51 801.88L1514.89 789.22M1535.93 801.88L1539.91 789.16M1561.35 801.88L1565.73 789.22M1586.77 801.88L1591.15 789.22M1612.19 801.88L1629.18 796.06M1637.60 801.88L1650.99 811.10M1663.02 801.88L1680.76 806.54M1688.44 801.88L1700.70 791.94M1713.86 801.88L1720.66 789.74M1739.28 801.88L1744.81 789.44M1764.70 801.88L1768.88 789.19M1790.12 801.88L1794.89 789.29M1815.53 801.88L1825.81 790.94M1840.95 801.88L1855.45 793.47M1866.37 801.88L1874.62 790.17M1891.79 801.88L1898.59 789.74M1917.21 801.88L1922.74 789.44M1942.63 801.88L1946.81 789.19M1968.04 801.88L1971.82 789.13M1993.46 801.88L1997.44 789.16M2018.88 801.88L2022.46 789.11M2044.30 801.88L2047.67 789.08M2069.72 801.88L2075.06 789.40M2095.14 801.88L2099.71 789.26M2120.55 801.88L2124.33 789.13" stroke="#000" stroke-width="4.4" fill="none"/><path d="M109.48 786.68h7.26v4.4h-7.26ZM152.82 794.83h5.47v4.4h-5.47ZM145.46 807.85h6.20v4.4h-6.20ZM181.18 812.39h7.20v4.4h-7.20ZM228.23 805.61h5.70v4.4h-5.70ZM255.39 796.35h5.13v4.4h-5.13ZM262.67 786.70h7.25v4.4h-7.25ZM287.44 786.68h7.26v4.4h-7.26ZM314.14 786.74h7.25v4.4h-7.25ZM339.56 786.74h7.25v4.4h-7.25ZM364.13 786.70h7.26v4.4h-7.26ZM390.19 786.73h7.25v4.4h-7.25ZM423.96 788.56h6.84v4.4h-6.84ZM448.03 788.07h6.95v4.4h-6.95ZM470.70 787.32h7.12v4.4h-7.12ZM494.16 786.96h7.20v4.4h-7.20ZM519.17 786.91h7.21v4.4h-7.21ZM545.60 787.06h7.18v4.4h-7.18ZM577.89 789.18h6.71v4.4h-6.71ZM609.83 794.14h5.62v4.4h-5.62ZM635.41 794.35h5.57v4.4h-5.57ZM657.25 790.98h6.31v4.4h-6.31ZM677.11 788.18h6.93v4.4h-6.93ZM700.21 787.49h7.08v4.4h-7.08ZM724.32 787.20h7.14v4.4h-7.14ZM747.93 786.91h7.21v4.4h-7.21ZM772.31 786.79h7.23v4.4h-7.23ZM807.53 789.62h6.61v4.4h-6.61ZM837.71 793.12h5.84v4.4h-5.84ZM857.88 789.37h6.67v4.4h-6.67ZM878.74 787.65h7.05v4.4h-7.05ZM900.65 786.93h7.20v4.4h-7.20ZM926.88 787.06h7.18v4.4h-7.18ZM948.54 786.69h7.26v4.4h-7.26ZM977.31 786.99h7.19v4.4h-7.19ZM1003.33 787.09h7.17v4.4h-7.17ZM1031.65 787.76h7.02v4.4h-7.02ZM1057.07 787.76h7.02v4.4h-7.02ZM1081.12 787.40h7.10v4.4h-7.10ZM1106.17 787.32h7.12v4.4h-7.12ZM1129.42 786.93h7.20v4.4h-7.20ZM1155.44 787.02h7.18v4.4h-7.18ZM1181.06 787.06h7.18v4.4h-7.18ZM1206.88 787.13h7.16v4.4h-7.16ZM1236.16 788.13h6.94v4.4h-6.94ZM1261.09 787.97h6.98v4.4h-6.98ZM1285.12 787.56h7.06v4.4h-7.06ZM1309.32 787.28h7.13v4.4h-7.13ZM1333.37 787.02h7.18v4.4h-7.18ZM1359.39 787.13h7.16v4.4h-7.16ZM1383.80 786.96h7.20v4.4h-7.20ZM1411.19 787.32h7.12v4.4h-7.12ZM1450.02 796.28h5.15v4.4h-5.15ZM1473.90 793.94h5.66v4.4h-5.66ZM1487.25 787.28h7.13v4.4h-7.13ZM1511.30 787.02h7.18v4.4h-7.18ZM1536.31 786.96h7.20v4.4h-7.20ZM1562.14 787.02h7.18v4.4h-7.18ZM1587.56 787.02h7.18v4.4h-7.18ZM1626.34 793.86h5.68v4.4h-5.68ZM1647.77 808.90h6.43v4.4h-6.43ZM1678.04 804.34h5.43v4.4h-5.43ZM1697.41 789.74h6.59v4.4h-6.59ZM1717.13 787.54h7.07v4.4h-7.07ZM1741.25 787.24h7.14v4.4h-7.14ZM1765.28 786.99h7.19v4.4h-7.19ZM1791.30 787.09h7.17v4.4h-7.17ZM1822.40 788.74h6.81v4.4h-6.81ZM1852.33 791.27h6.25v4.4h-6.25ZM1871.13 787.97h6.98v4.4h-6.98ZM1895.06 787.54h7.07v4.4h-7.07ZM1919.17 787.24h7.14v4.4h-7.14ZM1943.21 786.99h7.19v4.4h-7.19ZM1968.22 786.93h7.20v4.4h-7.20ZM1993.85 786.96h7.20v4.4h-7.20ZM2018.85 786.91h7.21v4.4h-7.21ZM2044.07 786.88h7.21v4.4h-7.21ZM2071.49 787.20h7.14v4.4h-7.14ZM2096.12 787.06h7.18v4.4h-7.18ZM2120.73 786.93h7.20v4.4h-7.20Z" fill="#000"/></g>
<text x="79.30" y="914.2" class="tk" textLength="14.6" lengthAdjust="spacingAndGlyphs">3</text>
<text x="2148.5" y="914.2" class="tk" textLength="37.8" lengthAdjust="spacingAndGlyphs">5.8</text>
<text x="79.30" y="888.2" class="tk" textLength="14.6" lengthAdjust="spacingAndGlyphs">6</text>
<text x="2148.5" y="888.2" class="tk" textLength="52.5" lengthAdjust="spacingAndGlyphs">11.7</text>
<text x="79.30" y="862.1" class="tk" textLength="14.6" lengthAdjust="spacingAndGlyphs">9</text>
<text x="2148.5" y="862.1" class="tk" textLength="52.5" lengthAdjust="spacingAndGlyphs">17.5</text>
<text x="71.45" y="836.0" class="tk" textLength="30.3" lengthAdjust="spacingAndGlyphs">12</text>
<text x="2148.5" y="836.0" class="tk" textLength="52.5" lengthAdjust="spacingAndGlyphs">23.3</text>
<text x="71.45" y="810.0" class="tk" textLength="30.3" lengthAdjust="spacingAndGlyphs">15</text>
<text x="2148.5" y="810.0" class="tk" textLength="52.5" lengthAdjust="spacingAndGlyphs">29.2</text>
<text transform="translate(57.2 854.0) rotate(-90)" class="lb" textLength="51" lengthAdjust="spacingAndGlyphs" x="-25.5">m/s</text>
<text transform="translate(2235 854.0) rotate(-90)" class="lb" textLength="85.5" lengthAdjust="spacingAndGlyphs" x="-42.8">nudos</text>
<text x="1016.6" y="772.5" class="ti" textLength="144.9" lengthAdjust="spacingAndGlyphs">La Cebada</text>
<path d="M112.5 1086.5H2137.5M112.5 1060.5H2137.5M112.5 1034.5H2137.5M112.5 1008.5H2137.5M112.5 982.5H2137.5" stroke="#000" stroke-opacity="0.15" stroke-width="1" fill="none"/>
<path d="M315.5 965.5V1103.5M518.5 965.5V1103.5M722.5 965.5V1103.5M925.5 965.5V1103.5M1129.5 965.5V1103.5M1332.5 965.5V1103.5M1536.5 965.5V1103.5M1739.5 965.5V1103.5M1942.5 965.5V1103.5" stroke="#262626" stroke-opacity="0.15" stroke-width="1" fill="none"/>
<path d="M112.0 965.5H2138.0M112.0 1103.5H2138.0M112.5 1103.5v-20M112.5 965.5v20M315.5 1103.5v-20M315.5 965.5v20M518.5 1103.5v-20M518.5 965.5v20M722.5 1103.5v-20M722.5 965.5v20M925.5 1103.5v-20M925.5 965.5v20M1129.5 1103.5v-20M1129.5 965.5v20M1332.5 1103.5v-20M1332.5 965.5v20M1536.5 1103.5v-20M1536.5 965.5v20M1739.5 1103.5v-20M1739.5 965.5v20M1942.5 1103.5v-20M1942.5 965.5v20" stroke="#262626" stroke-width="1" fill="none"/>
<path d="M112.5 965.5V1103.5M2137.5 965.5V1103.5M112.5 1086.5h20M2137.5 1086.5h-20M112.5 1060.5h20M2137.5 1060.5h-20M112.5 1034.5h20M2137.5 1034.5h-20M112.5 1008.5h20M2137.5 1008.5h-20M112.5 982.5h20M2137.5 982.5h-20" stroke="#000" stroke-width="1" fill="none"/>
<g clip-path="url(#c5)">
<path d="M112.5 1099.1L121.0 1101.8L129.4 1098.4L137.9 1097.3L146.4 1096.8L154.9 1092.3L163.3 1083.8L171.8 1075.9L180.3 1072.0L188.8 1063.9L197.2 1056.3L205.7 1063.5L214.2 1061.7L222.6 1068.4L231.1 1079.3L239.6 1091.7L248.1 1098.4L256.5 1093.9L265.0 1090.5L273.5 1088.3L282.0 1084.9L290.4 1080.4L298.9 1074.3L307.4 1076.6L315.8 1072.9L324.3 1072.5L332.8 1071.4L341.3 1065.3L349.7 1071.4L358.2 1075.2L366.7 1084.2L375.2 1087.2L383.6 1092.8L392.1 1091.7L400.6 1083.8L409.0 1080.4L417.5 1072.9L426.0 1066.9L434.5 1072.5L442.9 1072.0L451.4 1071.4L459.9 1068.0L468.4 1068.0L476.8 1071.4L485.3 1072.0L493.8 1072.5L502.2 1073.6L510.7 1071.4L519.2 1073.6L527.7 1076.6L536.1 1082.6L544.6 1083.8L553.1 1090.5L561.6 1096.2L570.0 1096.8L578.5 1097.3L587.0 1096.2L595.4 1093.2L603.9 1095.5L612.4 1091.0L620.9 1088.3L629.3 1085.6L637.8 1087.2L646.3 1089.4L654.8 1084.9L663.2 1082.0L671.7 1078.8L680.2 1079.3L688.7 1078.8L697.1 1078.8L705.6 1078.8L714.1 1080.4L722.5 1079.7L731.0 1078.8L739.5 1082.0L748.0 1078.1L756.4 1077.5L764.9 1078.8L773.4 1087.8L781.9 1092.3L790.3 1097.3L798.8 1099.1L807.3 1098.4L815.7 1088.3L824.2 1082.6L832.7 1084.2L841.2 1084.9L849.6 1080.4L858.1 1076.6L866.6 1072.5L875.1 1069.1L883.5 1065.3L892.0 1061.2L900.5 1060.1L908.9 1056.7L917.4 1052.7L925.9 1052.2L934.4 1047.2L942.8 1045.9L951.3 1047.2L959.8 1049.5L968.3 1052.7L976.7 1052.2L985.2 1059.0L993.7 1061.2L1002.1 1063.5L1010.6 1065.3L1019.1 1064.6L1027.6 1065.3L1036.0 1061.7L1044.5 1061.2L1053.0 1061.7L1061.5 1056.7L1069.9 1055.6L1078.4 1055.6L1086.9 1054.5L1095.3 1055.6L1103.8 1054.0L1112.3 1052.2L1120.8 1048.8L1129.2 1048.1L1137.7 1048.1L1146.2 1051.8L1154.7 1052.2L1163.1 1054.9L1171.6 1056.3L1180.1 1062.3L1188.5 1069.1L1197.0 1074.8L1205.5 1081.5L1214.0 1083.8L1222.4 1086.5L1230.9 1088.7L1239.4 1084.9L1247.9 1084.9L1256.3 1086.0L1264.8 1081.1L1273.3 1078.1L1281.7 1069.1L1290.2 1067.5L1298.7 1060.1L1307.2 1056.3L1315.6 1053.3L1324.1 1049.5L1332.6 1052.2L1341.1 1054.9L1349.5 1057.2L1358.0 1057.8L1366.5 1061.2L1374.9 1063.0L1383.4 1066.9L1391.9 1071.4L1400.4 1079.3L1408.8 1088.3L1417.3 1096.8L1425.8 1090.5L1434.3 1091.7L1442.7 1084.2L1451.2 1087.2L1459.7 1092.8L1468.1 1099.1L1476.6 1103.6L1485.1 1102.9L1493.6 1097.3L1502.0 1081.5L1510.5 1075.9L1519.0 1071.4L1527.5 1069.8L1535.9 1069.1L1544.4 1066.9L1552.9 1066.9L1561.3 1067.5L1569.8 1072.5L1578.3 1075.2L1586.8 1081.1L1595.2 1090.1L1603.7 1095.5L1612.2 1096.2L1620.7 1092.3L1629.1 1082.6L1637.6 1079.3L1646.1 1075.2L1654.6 1080.4L1663.0 1087.8L1671.5 1092.3L1680.0 1094.6L1688.4 1098.4L1696.9 1102.3L1705.4 1101.4L1713.9 1096.2L1722.3 1088.7L1730.8 1084.9L1739.3 1081.5L1747.8 1074.3L1756.2 1074.3L1764.7 1072.0L1773.2 1070.2L1781.6 1077.0L1790.1 1087.2L1798.6 1092.8L1807.1 1092.3L1815.5 1092.8L1824.0 1095.0L1832.5 1092.8L1841.0 1091.0L1849.4 1088.3L1857.9 1081.1L1866.4 1074.3L1874.8 1072.0L1883.3 1062.3L1891.8 1040.5L1900.3 1042.7L1908.7 1040.5L1917.2 1035.3L1925.7 1036.9L1934.2 1040.5L1942.6 1041.4L1951.1 1043.2L1959.6 1036.9L1968.0 1039.8L1976.5 1048.8L1985.0 1052.2L1993.5 1060.1L2001.9 1068.0L2010.4 1074.8L2018.9 1074.3L2027.4 1076.6L2035.8 1070.2L2044.3 1060.1L2052.8 1052.2L2061.2 1048.1L2069.7 1045.9L2078.2 1044.3L2086.7 1044.3L2095.1 1036.9L2103.6 1038.2L2112.1 1036.9L2120.6 1038.2L2129.0 1044.3L2137.5 1046.6" stroke="#035a89" stroke-width="2.6" fill="none"/>
<g fill="#1b779d" stroke="#035a89" stroke-width="3">
<circle cx="112.5" cy="1099.1" r="6.2"/>
<circle cx="121.0" cy="1101.8" r="6.2"/>
<circle cx="129.4" cy="1098.4" r="6.2"/>
<circle cx="137.9" cy="1097.3" r="6.2"/>
<circle cx="146.4" cy="1096.8" r="6.2"/>
<circle cx="154.9" cy="1092.3" r="6.2"/>
<circle cx="163.3" cy="1083.8" r="6.2"/>
<circle cx="171.8" cy="1075.9" r="6.2"/>
<circle cx="180.3" cy="1072.0" r="6.2"/>
<circle cx="188.8" cy="1063.9" r="6.2"/>
<circle cx="197.2" cy="1056.3" r="6.2"/>
<circle cx="205.7" cy="1063.5" r="6.2"/>
<circle cx="214.2" cy="1061.7" r="6.2"/>
<circle cx="222.6" cy="1068.4" r="6.2"/>
<circle cx="231.1" cy="1079.3" r="6.2"/>
<circle cx="239.6" cy="1091.7" r="6.2"/>
<circle cx="248.1" cy="1098.4" r="6.2"/>
<circle cx="256.5" cy="1093.9" r="6.2"/>
<circle cx="265.0" cy="1090.5" r="6.2"/>
<circle cx="273.5" cy="1088.3" r="6.2"/>
<circle cx="282.0" cy="1084.9" r="6.2"/>
<circle cx="290.4" cy="1080.4" r="6.2"/>
<circle cx="298.9" cy="1074.3" r="6.2"/>
<circle cx="307.4" cy="1076.6" r="6.2"/>
<circle cx="315.8" cy="1072.9" r="6.2"/>
<circle cx="324.3" cy="1072.5" r="6.2"/>
<circle cx="332.8" cy="1071.4" r="6.2"/>
<circle cx="341.3" cy="1065.3" r="6.2"/>
<circle cx="349.7" cy="1071.4" r="6.2"/>
<circle cx="358.2" cy="1075.2" r="6.2"/>
<circle cx="366.7" cy="1084.2" r="6.2"/>
<circle cx="375.2" cy="1087.2" r="6.2"/>
<circle cx="383.6" cy="1092.8" r="6.2"/>
<circle cx="392.1" cy="1091.7" r="6.2"/>
<circle cx="400.6" cy="1083.8" r="6.2"/>
<circle cx="409.0" cy="1080.4" r="6.2"/>
<circle cx="417.5" cy="1072.9" r="6.2"/>
<circle cx="426.0" cy="1066.9" r="6.2"/>
<circle cx="434.5" cy="1072.5" r="6.2"/>
<circle cx="442.9" cy="1072.0" r="6.2"/>
<circle cx="451.4" cy="1071.4" r="6.2"/>
<circle cx="459.9" cy="1068.0" r="6.2"/>
<circle cx="468.4" cy="1068.0" r="6.2"/>
<circle cx="476.8" cy="1071.4" r="6.2"/>
<circle cx="485.3" cy="1072.0" r="6.2"/>
<circle cx="493.8" cy="1072.5" r="6.2"/>
<circle cx="502.2" cy="1073.6" r="6.2"/>
<circle cx="510.7" cy="1071.4" r="6.2"/>
<circle cx="519.2" cy="1073.6" r="6.2"/>
<circle cx="527.7" cy="1076.6" r="6.2"/>
<circle cx="536.1" cy="1082.6" r="6.2"/>
<circle cx="544.6" cy="1083.8" r="6.2"/>
<circle cx="553.1" cy="1090.5" r="6.2"/>
<circle cx="561.6" cy="1096.2" r="6.2"/>
<circle cx="570.0" cy="1096.8" r="6.2"/>
<circle cx="578.5" cy="1097.3" r="6.2"/>
<circle cx="587.0" cy="1096.2" r="6.2"/>
<circle cx="595.4" cy="1093.2" r="6.2"/>
<circle cx="603.9" cy="1095.5" r="6.2"/>
<circle cx="612.4" cy="1091.0" r="6.2"/>
<circle cx="620.9" cy="1088.3" r="6.2"/>
<circle cx="629.3" cy="1085.6" r="6.2"/>
<circle cx="637.8" cy="1087.2" r="6.2"/>
<circle cx="646.3" cy="1089.4" r="6.2"/>
<circle cx="654.8" cy="1084.9" r="6.2"/>
<circle cx="663.2" cy="1082.0" r="6.2"/>
<circle cx="671.7" cy="1078.8" r="6.2"/>
<circle cx="680.2" cy="1079.3" r="6.2"/>
<circle cx="688.7" cy="1078.8" r="6.2"/>
<circle cx="697.1" cy="1078.8" r="6.2"/>
<circle cx="705.6" cy="1078.8" r="6.2"/>
<circle cx="714.1" cy="1080.4" r="6.2"/>
<circle cx="722.5" cy="1079.7" r="6.2"/>
<circle cx="731.0" cy="1078.8" r="6.2"/>
<circle cx="739.5" cy="1082.0" r="6.2"/>
<circle cx="748.0" cy="1078.1" r="6.2"/>
<circle cx="756.4" cy="1077.5" r="6.2"/>
<circle cx="764.9" cy="1078.8" r="6.2"/>
<circle cx="773.4" cy="1087.8" r="6.2"/>
<circle cx="781.9" cy="1092.3" r="6.2"/>
<circle cx="790.3" cy="1097.3" r="6.2"/>
<circle cx="798.8" cy="1099.1" r="6.2"/>
<circle cx="807.3" cy="1098.4" r="6.2"/>
<circle cx="815.7" cy="1088.3" r="6.2"/>
<circle cx="824.2" cy="1082.6" r="6.2"/>
<circle cx="832.7" cy="1084.2" r="6.2"/>
<circle cx="841.2" cy="1084.9" r="6.2"/>
<circle cx="849.6" cy="1080.4" r="6.2"/>
<circle cx="858.1" cy="1076.6" r="6.2"/>
<circle cx="866.6" cy="1072.5" r="6.2"/>
<circle cx="875.1" cy="1069.1" r="6.2"/>
<circle cx="883.5" cy="1065.3" r="6.2"/>
<circle cx="892.0" cy="1061.2" r="6.2"/>
<circle cx="900.5" cy="1060.1" r="6.2"/>
<circle cx="908.9" cy="1056.7" r="6.2"/>
<circle cx="917.4" cy="1052.7" r="6.2"/>
<circle cx="925.9" cy="1052.2" r="6.2"/>
<circle cx="934.4" cy="1047.2" r="6.2"/>
<circle cx="942.8" cy="1045.9" r="6.2"/>
<circle cx="951.3" cy="1047.2" r="6.2"/>
<circle cx="959.8" cy="1049.5" r="6.2"/>
<circle cx="968.3" cy="1052.7" r="6.2"/>
<circle cx="976.7" cy="1052.2" r="6.2"/>
<circle cx="985.2" cy="1059.0" r="6.2"/>
<circle cx="993.7" cy="1061.2" r="6.2"/>
<circle cx="1002.1" cy="1063.5" r="6.2"/>
<circle cx="1010.6" cy="1065.3" r="6.2"/>
<circle cx="1019.1" cy="1064.6" r="6.2"/>
<circle cx="1027.6" cy="1065.3" r="6.2"/>
<circle cx="1036.0" cy="1061.7" r="6.2"/>
<circle cx="1044.5" cy="1061.2" r="6.2"/>
<circle cx="1053.0" cy="1061.7" r="6.2"/>
<circle cx="1061.5" cy="1056.7" r="6.2"/>
<circle cx="1069.9" cy="1055.6" r="6.2"/>
<circle cx="1078.4" cy="1055.6" r="6.2"/>
<circle cx="1086.9" cy="1054.5" r="6.2"/>
<circle cx="1095.3" cy="1055.6" r="6.2"/>
<circle cx="1103.8" cy="1054.0" r="6.2"/>
<circle cx="1112.3" cy="1052.2" r="6.2"/>
<circle cx="1120.8" cy="1048.8" r="6.2"/>
<circle cx="1129.2" cy="1048.1" r="6.2"/>
<circle cx="1137.7" cy="1048.1" r="6.2"/>
<circle cx="1146.2" cy="1051.8" r="6.2"/>
<circle cx="1154.7" cy="1052.2" r="6.2"/>
<circle cx="1163.1" cy="1054.9" r="6.2"/>
<circle cx="1171.6" cy="1056.3" r="6.2"/>
<circle cx="1180.1" cy="1062.3" r="6.2"/>
<circle cx="1188.5" cy="1069.1" r="6.2"/>
<circle cx="1197.0" cy="1074.8" r="6.2"/>
<circle cx="1205.5" cy="1081.5" r="6.2"/>
<circle cx="1214.0" cy="1083.8" r="6.2"/>
<circle cx="1222.4" cy="1086.5" r="6.2"/>
<circle cx="1230.9" cy="1088.7" r="6.2"/>
<circle cx="1239.4" cy="1084.9" r="6.2"/>
<circle cx="1247.9" cy="1084.9" r="6.2"/>
<circle cx="1256.3" cy="1086.0" r="6.2"/>
<circle cx="1264.8" cy="1081.1" r="6.2"/>
<circle cx="1273.3" cy="1078.1" r="6.2"/>
<circle cx="1281.7" cy="1069.1" r="6.2"/>
<circle cx="1290.2" cy="1067.5" r="6.2"/>
<circle cx="1298.7" cy="1060.1" r="6.2"/>
<circle cx="1307.2" cy="1056.3" r="6.2"/>
<circle cx="1315.6" cy="1053.3" r="6.2"/>
<circle cx="1324.1" cy="1049.5" r="6.2"/>
<circle cx="1332.6" cy="1052.2" r="6.2"/>
<circle cx="1341.1" cy="1054.9" r="6.2"/>
<circle cx="1349.5" cy="1057.2" r="6.2"/>
<circle cx="1358.0" cy="1057.8" r="6.2"/>
<circle cx="1366.5" cy="1061.2" r="6.2"/>
<circle cx="1374.9" cy="1063.0" r="6.2"/>
<circle cx="1383.4" cy="1066.9" r="6.2"/>
<circle cx="1391.9" cy="1071.4" r="6.2"/>
<circle cx="1400.4" cy="1079.3" r="6.2"/>
<circle cx="1408.8" cy="1088.3" r="6.2"/>
<circle cx="1417.3" cy="1096.8" r="6.2"/>
<circle cx="1425.8" cy="1090.5" r="6.2"/>
<circle cx="1434.3" cy="1091.7" r="6.2"/>
<circle cx="1442.7" cy="1084.2" r="6.2"/>
<circle cx="1451.2" cy="1087.2" r="6.2"/>
<circle cx="1459.7" cy="1092.8" r="6.2"/>
<circle cx="1468.1" cy="1099.1" r="6.2"/>
<circle cx="1476.6" cy="1103.6" r="6.2"/>
<circle cx="1485.1" cy="1102.9" r="6.2"/>
<circle cx="1493.6" cy="1097.3" r="6.2"/>
<circle cx="1502.0" cy="1081.5" r="6.2"/>
<circle cx="1510.5" cy="1075.9" r="6.2"/>
<circle cx="1519.0" cy="1071.4" r="6.2"/>
<circle cx="1527.5" cy="1069.8" r="6.2"/>
<circle cx="1535.9" cy="1069.1" r="6.2"/>
<circle cx="1544.4" cy="1066.9" r="6.2"/>
<circle cx="1552.9" cy="1066.9" r="6.2"/>
<circle cx="1561.3" cy="1067.5" r="6.2"/>
<circle cx="1569.8" cy="1072.5" r="6.2"/>
<circle cx="1578.3" cy="1075.2" r="6.2"/>
<circle cx="1586.8" cy="1081.1" r="6.2"/>
<circle cx="1595.2" cy="1090.1" r="6.2"/>
<circle cx="1603.7" cy="1095.5" r="6.2"/>
<circle cx="1612.2" cy="1096.2" r="6.2"/>
<circle cx="1620.7" cy="1092.3" r="6.2"/>
<circle cx="1629.1" cy="1082.6" r="6.2"/>
<circle cx="1637.6" cy="1079.3" r="6.2"/>
<circle cx="1646.1" cy="1075.2" r="6.2"/>
<circle cx="1654.6" cy="1080.4" r="6.2"/>
<circle cx="1663.0" cy="1087.8" r="6.2"/>
<circle cx="1671.5" cy="1092.3" r="6.2"/>
<circle cx="1680.0" cy="1094.6" r="6.2"/>
<circle cx="1688.4" cy="1098.4" r="6.2"/>
<circle cx="1696.9" cy="1102.3" r="6.2"/>
<circle cx="1705.4" cy="1101.4" r="6.2"/>
<circle cx="1713.9" cy="1096.2" r="6.2"/>
<circle cx="1722.3" cy="1088.7" r="6.2"/>
<circle cx="1730.8" cy="1084.9" r="6.2"/>
<circle cx="1739.3" cy="1081.5" r="6.2"/>
<circle cx="1747.8" cy="1074.3" r="6.2"/>
<circle cx="1756.2" cy="1074.3" r="6.2"/>
<circle cx="1764.7" cy="1072.0" r="6.2"/>
<circle cx="1773.2" cy="1070.2" r="6.2"/>
<circle cx="1781.6" cy="1077.0" r="6.2"/>
<circle cx="1790.1" cy="1087.2" r="6.2"/>
<circle cx="1798.6" cy="1092.8" r="6.2"/>
<circle cx="1807.1" cy="1092.3" r="6.2"/>
<circle cx="1815.5" cy="1092.8" r="6.2"/>
<circle cx="1824.0" cy="1095.0" r="6.2"/>
<circle cx="1832.5" cy="1092.8" r="6.2"/>
<circle cx="1841.0" cy="1091.0" r="6.2"/>
<circle cx="1849.4" cy="1088.3" r="6.2"/>
<circle cx="1857.9" cy="1081.1" r="6.2"/>
<circle cx="1866.4" cy="1074.3" r="6.2"/>
<circle cx="1874.8" cy="1072.0" r="6.2"/>
<circle cx="1883.3" cy="1062.3" r="6.2"/>
<circle cx="1891.8" cy="1040.5" r="6.2"/>
<circle cx="1900.3" cy="1042.7" r="6.2"/>
<circle cx="1908.7" cy="1040.5" r="6.2"/>
<circle cx="1917.2" cy="1035.3" r="6.2"/>
<circle cx="1925.7" cy="1036.9" r="6.2"/>
<circle cx="1934.2" cy="1040.5" r="6.2"/>
<circle cx="1942.6" cy="1041.4" r="6.2"/>
<circle cx="1951.1" cy="1043.2" r="6.2"/>
<circle cx="1959.6" cy="1036.9" r="6.2"/>
<circle cx="1968.0" cy="1039.8" r="6.2"/>
<circle cx="1976.5" cy="1048.8" r="6.2"/>
<circle cx="1985.0" cy="1052.2" r="6.2"/>
<circle cx="1993.5" cy="1060.1" r="6.2"/>
<circle cx="2001.9" cy="1068.0" r="6.2"/>
<circle cx="2010.4" cy="1074.8" r="6.2"/>
<circle cx="2018.9" cy="1074.3" r="6.2"/>
<circle cx="2027.4" cy="1076.6" r="6.2"/>
<circle cx="2035.8" cy="1070.2" r="6.2"/>
<circle cx="2044.3" cy="1060.1" r="6.2"/>
<circle cx="2052.8" cy="1052.2" r="6.2"/>
<circle cx="2061.2" cy="1048.1" r="6.2"/>
<circle cx="2069.7" cy="1045.9" r="6.2"/>
<circle cx="2078.2" cy="1044.3" r="6.2"/>
<circle cx="2086.7" cy="1044.3" r="6.2"/>
<circle cx="2095.1" cy="1036.9" r="6.2"/>
<circle cx="2103.6" cy="1038.2" r="6.2"/>
<circle cx="2112.1" cy="1036.9" r="6.2"/>
<circle cx="2120.6" cy="1038.2" r="6.2"/>
<circle cx="2129.0" cy="1044.3" r="6.2"/>
<circle cx="2137.5" cy="1046.6" r="6.2"/>
</g></g>
<g clip-path="url(#a5)"><path d="M112.50 982.75L130.76 979.16M137.92 982.75L156.48 985.51M163.34 982.75L175.74 992.60M188.76 982.75L200.18 993.14M214.17 982.75L227.20 992.21M239.59 982.75L258.46 981.21M265.01 982.75L273.64 971.17M290.43 982.75L291.04 969.76M315.85 982.75L312.64 969.94M341.27 982.75L340.66 969.76M366.68 982.75L360.69 970.41M392.10 982.75L397.18 970.22M417.52 982.75L428.06 971.93M442.94 982.75L453.21 971.81M468.36 982.75L474.73 970.50M493.78 982.75L492.96 969.76M519.19 982.75L517.17 969.82M544.61 982.75L545.63 969.77M570.03 982.75L587.18 977.15M595.45 982.75L613.87 979.56M620.87 982.75L639.13 979.16M646.29 982.75L663.92 977.91M671.71 982.75L682.78 972.19M697.12 982.75L700.14 969.91M722.54 982.75L720.72 969.81M747.96 982.75L747.35 969.76M773.38 982.75L775.80 969.86M798.80 982.75L806.34 970.82M824.22 982.75L837.45 973.42M849.63 982.75L863.79 974.08M875.05 982.75L881.75 970.59M900.47 982.75L900.67 969.75M925.89 982.75L925.08 969.76M951.31 982.75L950.09 969.78M976.73 982.75L975.71 969.77M1002.14 982.75L1002.75 969.76M1027.56 982.75L1034.81 970.73M1052.98 982.75L1060.41 970.78M1078.40 982.75L1083.09 970.15M1103.82 982.75L1104.02 969.75M1129.24 982.75L1128.42 969.76M1154.65 982.75L1153.44 969.78M1180.07 982.75L1178.85 969.78M1205.49 982.75L1207.52 969.82M1230.91 982.75L1244.05 973.36M1256.33 982.75L1269.17 973.17M1281.75 982.75L1287.74 970.41M1307.17 982.75L1306.15 969.77M1332.58 982.75L1331.77 969.76M1358.00 982.75L1356.78 969.78M1383.42 982.75L1384.84 969.79M1408.84 982.75L1416.44 970.84M1434.26 982.75L1451.20 988.63M1459.68 982.75L1474.25 991.09M1485.09 982.75L1500.61 975.24M1510.51 982.75L1509.29 969.78M1535.93 982.75L1537.75 969.81M1561.35 982.75L1563.17 969.81M1586.77 982.75L1589.07 969.85M1612.19 982.75L1631.14 981.82M1637.60 982.75L1654.06 989.25M1663.02 982.75L1679.39 989.36M1688.44 982.75L1706.15 987.46M1713.86 982.75L1718.74 970.19M1739.28 982.75L1736.07 969.94M1764.70 982.75L1764.70 969.75M1790.12 982.75L1791.74 969.80M1815.53 982.75L1820.79 970.26M1840.95 982.75L1857.14 975.94M1866.37 982.75L1874.15 970.89M1891.79 982.75L1895.70 970.03M1917.21 982.75L1917.00 969.75M1942.63 982.75L1942.63 969.75M1968.04 982.75L1967.64 969.75M1993.46 982.75L1991.64 969.81M2018.88 982.75L2020.30 969.79M2044.30 982.75L2049.56 970.26M2069.72 982.75L2074.60 970.19M2095.14 982.75L2097.56 969.86M2120.55 982.75L2120.96 969.75" stroke="#000" stroke-width="4.4" fill="none"/><path d="M128.17 976.96h5.19v4.4h-5.19ZM153.98 983.31h5.01v4.4h-5.01ZM172.46 990.40h6.57v4.4h-6.57ZM196.83 990.94h6.69v4.4h-6.69ZM223.96 990.01h6.48v4.4h-6.48ZM256.09 979.01h4.74v4.4h-4.74ZM270.16 968.97h6.95v4.4h-6.95ZM287.41 967.56h7.26v4.4h-7.26ZM309.03 967.74h7.22v4.4h-7.22ZM337.03 967.56h7.26v4.4h-7.26ZM357.13 968.21h7.11v4.4h-7.11ZM393.60 968.02h7.16v4.4h-7.16ZM424.67 969.73h6.78v4.4h-6.78ZM449.81 969.61h6.81v4.4h-6.81ZM471.18 968.30h7.09v4.4h-7.09ZM489.33 967.56h7.26v4.4h-7.26ZM513.55 967.62h7.24v4.4h-7.24ZM542.00 967.57h7.26v4.4h-7.26ZM584.36 974.95h5.63v4.4h-5.63ZM611.32 977.36h5.10v4.4h-5.10ZM636.53 976.96h5.19v4.4h-5.19ZM661.19 975.71h5.47v4.4h-5.47ZM679.41 969.99h6.72v4.4h-6.72ZM696.53 967.71h7.22v4.4h-7.22ZM717.09 967.61h7.25v4.4h-7.25ZM743.72 967.56h7.26v4.4h-7.26ZM772.18 967.66h7.24v4.4h-7.24ZM802.83 968.62h7.03v4.4h-7.03ZM834.23 971.22h6.45v4.4h-6.45ZM860.64 971.88h6.31v4.4h-6.31ZM878.21 968.39h7.08v4.4h-7.08ZM897.04 967.55h7.26v4.4h-7.26ZM921.45 967.56h7.26v4.4h-7.26ZM946.46 967.58h7.25v4.4h-7.25ZM972.08 967.57h7.26v4.4h-7.26ZM999.13 967.56h7.26v4.4h-7.26ZM1031.28 968.53h7.04v4.4h-7.04ZM1056.89 968.58h7.03v4.4h-7.03ZM1079.51 967.95h7.17v4.4h-7.17ZM1100.39 967.55h7.26v4.4h-7.26ZM1124.79 967.56h7.26v4.4h-7.26ZM1149.81 967.58h7.25v4.4h-7.25ZM1175.23 967.58h7.25v4.4h-7.25ZM1203.89 967.62h7.24v4.4h-7.24ZM1240.82 971.16h6.47v4.4h-6.47ZM1265.91 970.97h6.51v4.4h-6.51ZM1284.18 968.21h7.11v4.4h-7.11ZM1302.52 967.57h7.26v4.4h-7.26ZM1328.14 967.56h7.26v4.4h-7.26ZM1353.16 967.58h7.25v4.4h-7.25ZM1381.22 967.59h7.25v4.4h-7.25ZM1412.93 968.64h7.02v4.4h-7.02ZM1448.36 986.43h5.69v4.4h-5.69ZM1471.13 988.89h6.23v4.4h-6.23ZM1497.58 973.04h6.05v4.4h-6.05ZM1505.67 967.58h7.25v4.4h-7.25ZM1534.13 967.61h7.25v4.4h-7.25ZM1559.55 967.61h7.25v4.4h-7.25ZM1585.45 967.65h7.24v4.4h-7.24ZM1628.84 979.62h4.60v4.4h-4.60ZM1651.15 987.05h5.83v4.4h-5.83ZM1676.46 987.16h5.85v4.4h-5.85ZM1703.43 985.26h5.44v4.4h-5.44ZM1715.16 967.99h7.16v4.4h-7.16ZM1732.46 967.74h7.22v4.4h-7.22ZM1761.07 967.55h7.26v4.4h-7.26ZM1788.11 967.60h7.25v4.4h-7.25ZM1817.22 968.06h7.15v4.4h-7.15ZM1854.19 973.74h5.90v4.4h-5.90ZM1870.65 968.69h7.01v4.4h-7.01ZM1892.10 967.83h7.20v4.4h-7.20ZM1913.37 967.55h7.26v4.4h-7.26ZM1939.00 967.55h7.26v4.4h-7.26ZM1964.01 967.55h7.26v4.4h-7.26ZM1988.02 967.61h7.25v4.4h-7.25ZM2016.68 967.59h7.25v4.4h-7.25ZM2045.99 968.06h7.15v4.4h-7.15ZM2071.02 967.99h7.16v4.4h-7.16ZM2093.94 967.66h7.24v4.4h-7.24ZM2117.33 967.55h7.26v4.4h-7.26Z" fill="#000"/></g>
<text x="79.30" y="1094.3" class="tk" textLength="14.6" lengthAdjust="spacingAndGlyphs">3</text>
<text x="2148.5" y="1094.3" class="tk" textLength="37.8" lengthAdjust="spacingAndGlyphs">5.8</text>
<text x="79.30" y="1068.5" class="tk" textLength="14.6" lengthAdjust="spacingAndGlyphs">6</text>
<text x="2148.5" y="1068.5" class="tk" textLength="52.5" lengthAdjust="spacingAndGlyphs">11.7</text>
<text x="79.30" y="1042.6" class="tk" textLength="14.6" lengthAdjust="spacingAndGlyphs">9</text>
<text x="2148.5" y="1042.6" class="tk" textLength="52.5" lengthAdjust="spacingAndGlyphs">17.5</text>
<text x="71.45" y="1016.7" class="tk" textLength="30.3" lengthAdjust="spacingAndGlyphs">12</text>
<text x="2148.5" y="1016.7" class="tk" textLength="52.5" lengthAdjust="spacingAndGlyphs">23.3</text>
<text x="71.45" y="990.9" class="tk" textLength="30.3" lengthAdjust="spacingAndGlyphs">15</text>
<text x="2148.5" y="990.9" class="tk" textLength="52.5" lengthAdjust="spacingAndGlyphs">29.2</text>
<text transform="translate(57.2 1034.5) rotate(-90)" class="lb" textLength="51" lengthAdjust="spacingAndGlyphs" x="-25.5">m/s</text>
<text transform="translate(2235 1034.5) rotate(-90)" class="lb" textLength="85.5" lengthAdjust="spacingAndGlyphs" x="-42.8">nudos</text>
<text x="999.5" y="952.5" class="ti" textLength="214.1" lengthAdjust="spacingAndGlyphs">Huentelauquen</text>
<path d="M112.5 1264.5H2137.5M112.5 1238.5H2137.5M112.5 1212.5H2137.5M112.5 1186.5H2137.5M112.5 1160.5H2137.5" stroke="#000" stroke-opacity="0.15" stroke-width="1" fill="none"/>
<path d="M315.5 1143.5V1281.5M518.5 1143.5V1281.5M722.5 1143.5V1281.5M925.5 1143.5V1281.5M1129.5 1143.5V1281.5M1332.5 1143.5V1281.5M1536.5 1143.5V1281.5M1739.5 1143.5V1281.5M1942.5 1143.5V1281.5" stroke="#262626" stroke-opacity="0.15" stroke-width="1" fill="none"/>
<path d="M112.0 1143.5H2138.0M112.0 1281.5H2138.0M112.5 1281.5v-20M112.5 1143.5v20M315.5 1281.5v-20M315.5 1143.5v20M518.5 1281.5v-20M518.5 1143.5v20M722.5 1281.5v-20M722.5 1143.5v20M925.5 1281.5v-20M925.5 1143.5v20M1129.5 1281.5v-20M1129.5 1143.5v20M1332.5 1281.5v-20M1332.5 1143.5v20M1536.5 1281.5v-20M1536.5 1143.5v20M1739.5 1281.5v-20M1739.5 1143.5v20M1942.5 1281.5v-20M1942.5 1143.5v20" stroke="#262626" stroke-width="1" fill="none"/>
<path d="M112.5 1143.5V1281.5M2137.5 1143.5V1281.5M112.5 1264.5h20M2137.5 1264.5h-20M112.5 1238.5h20M2137.5 1238.5h-20M112.5 1212.5h20M2137.5 1212.5h-20M112.5 1186.5h20M2137.5 1186.5h-20M112.5 1160.5h20M2137.5 1160.5h-20" stroke="#000" stroke-width="1" fill="none"/>
<g clip-path="url(#c6)">
<path d="M112.5 1278.7L121.0 1288.8L129.4 1281.6L137.9 1279.8L146.4 1278.0L154.9 1271.9L163.3 1267.4L171.8 1268.5L180.3 1267.4L188.8 1266.3L197.2 1264.5L205.7 1257.7L214.2 1259.1L222.6 1266.3L231.1 1275.3L239.6 1275.3L248.1 1271.9L256.5 1270.8L265.0 1267.4L273.5 1261.8L282.0 1259.1L290.4 1254.6L298.9 1244.2L307.4 1242.6L315.8 1239.7L324.3 1239.7L332.8 1234.7L341.3 1234.7L349.7 1238.1L358.2 1243.3L366.7 1256.1L375.2 1264.5L383.6 1273.0L392.1 1276.4L400.6 1264.0L409.0 1251.6L417.5 1241.5L426.0 1244.9L434.5 1246.0L442.9 1244.2L451.4 1243.3L459.9 1241.5L468.4 1241.5L476.8 1241.5L485.3 1239.2L493.8 1239.7L502.2 1237.4L510.7 1239.7L519.2 1242.6L527.7 1247.1L536.1 1253.2L544.6 1265.2L553.1 1278.7L561.6 1279.4L570.0 1271.9L578.5 1273.5L587.0 1275.8L595.4 1275.8L603.9 1273.0L612.4 1268.5L620.9 1269.7L629.3 1265.8L637.8 1262.2L646.3 1262.2L654.8 1261.3L663.2 1259.1L671.7 1257.3L680.2 1256.1L688.7 1258.4L697.1 1258.4L705.6 1256.8L714.1 1252.3L722.5 1250.9L731.0 1250.9L739.5 1256.1L748.0 1256.8L756.4 1258.4L764.9 1261.8L773.4 1266.3L781.9 1270.8L790.3 1279.4L798.8 1281.6L807.3 1271.9L815.7 1265.2L824.2 1260.0L832.7 1258.4L841.2 1255.0L849.6 1255.0L858.1 1253.9L866.6 1250.5L875.1 1247.1L883.5 1241.9L892.0 1232.9L900.5 1227.5L908.9 1221.6L917.4 1221.2L925.9 1220.1L934.4 1217.1L942.8 1214.9L951.3 1214.9L959.8 1215.5L968.3 1214.9L976.7 1217.8L985.2 1224.6L993.7 1230.2L1002.1 1235.8L1010.6 1240.3L1019.1 1243.3L1027.6 1244.2L1036.0 1242.6L1044.5 1239.2L1053.0 1234.7L1061.5 1229.1L1069.9 1224.6L1078.4 1221.4L1086.9 1218.5L1095.3 1214.4L1103.8 1211.7L1112.3 1210.6L1120.8 1212.2L1129.2 1213.1L1137.7 1214.2L1146.2 1216.0L1154.7 1218.0L1163.1 1220.1L1171.6 1222.1L1180.1 1225.7L1188.5 1234.7L1197.0 1246.0L1205.5 1257.3L1214.0 1267.4L1222.4 1271.9L1230.9 1271.9L1239.4 1270.3L1247.9 1268.5L1256.3 1265.8L1264.8 1262.9L1273.3 1256.1L1281.7 1247.8L1290.2 1240.3L1298.7 1227.5L1307.2 1217.1L1315.6 1215.5L1324.1 1213.3L1332.6 1215.5L1341.1 1218.5L1349.5 1221.2L1358.0 1225.7L1366.5 1231.3L1374.9 1241.9L1383.4 1249.4L1391.9 1259.1L1400.4 1266.3L1408.8 1275.3L1417.3 1275.3L1425.8 1271.9L1434.3 1268.5L1442.7 1261.8L1451.2 1264.5L1459.7 1265.2L1468.1 1268.1L1476.6 1272.6L1485.1 1277.1L1493.6 1275.3L1502.0 1271.9L1510.5 1265.2L1519.0 1251.6L1527.5 1247.1L1535.9 1244.9L1544.4 1246.4L1552.9 1251.6L1561.3 1249.4L1569.8 1252.8L1578.3 1255.0L1586.8 1262.9L1595.2 1270.8L1603.7 1278.0L1612.2 1275.8L1620.7 1268.1L1629.1 1262.2L1637.6 1259.5L1646.1 1264.0L1654.6 1266.3L1663.0 1266.7L1671.5 1267.4L1680.0 1270.8L1688.4 1274.8L1696.9 1278.7L1705.4 1278.7L1713.9 1277.1L1722.3 1272.6L1730.8 1270.3L1739.3 1262.2L1747.8 1256.1L1756.2 1248.7L1764.7 1247.1L1773.2 1245.5L1781.6 1245.5L1790.1 1255.0L1798.6 1265.2L1807.1 1270.8L1815.5 1270.8L1824.0 1267.4L1832.5 1262.9L1841.0 1264.0L1849.4 1260.6L1857.9 1252.8L1866.4 1250.9L1874.8 1246.0L1883.3 1218.9L1891.8 1211.0L1900.3 1203.1L1908.7 1193.7L1917.2 1185.6L1925.7 1185.6L1934.2 1189.6L1942.6 1196.8L1951.1 1195.9L1959.6 1199.8L1968.0 1205.4L1976.5 1212.2L1985.0 1221.2L1993.5 1232.9L2001.9 1241.9L2010.4 1246.0L2018.9 1249.4L2027.4 1248.2L2035.8 1241.5L2044.3 1233.6L2052.8 1221.2L2061.2 1213.3L2069.7 1209.9L2078.2 1205.4L2086.7 1194.6L2095.1 1183.3L2103.6 1181.7L2112.1 1184.0L2120.6 1186.9L2129.0 1190.1L2137.5 1193.0" stroke="#035a89" stroke-width="2.6" fill="none"/>
<g fill="#1b779d" stroke="#035a89" stroke-width="3">
<circle cx="112.5" cy="1278.7" r="6.2"/>
<circle cx="121.0" cy="1288.8" r="6.2"/>
<circle cx="129.4" cy="1281.6" r="6.2"/>
<circle cx="137.9" cy="1279.8" r="6.2"/>
<circle cx="146.4" cy="1278.0" r="6.2"/>
<circle cx="154.9" cy="1271.9" r="6.2"/>
<circle cx="163.3" cy="1267.4" r="6.2"/>
<circle cx="171.8" cy="1268.5" r="6.2"/>
<circle cx="180.3" cy="1267.4" r="6.2"/>
<circle cx="188.8" cy="1266.3" r="6.2"/>
<circle cx="197.2" cy="1264.5" r="6.2"/>
<circle cx="205.7" cy="1257.7" r="6.2"/>
<circle cx="214.2" cy="1259.1" r="6.2"/>
<circle cx="222.6" cy="1266.3" r="6.2"/>
<circle cx="231.1" cy="1275.3" r="6.2"/>
<circle cx="239.6" cy="1275.3" r="6.2"/>
<circle cx="248.1" cy="1271.9" r="6.2"/>
<circle cx="256.5" cy="1270.8" r="6.2"/>
<circle cx="265.0" cy="1267.4" r="6.2"/>
<circle cx="273.5" cy="1261.8" r="6.2"/>
<circle cx="282.0" cy="1259.1" r="6.2"/>
<circle cx="290.4" cy="1254.6" r="6.2"/>
<circle cx="298.9" cy="1244.2" r="6.2"/>
<circle cx="307.4" cy="1242.6" r="6.2"/>
<circle cx="315.8" cy="1239.7" r="6.2"/>
<circle cx="324.3" cy="1239.7" r="6.2"/>
<circle cx="332.8" cy="1234.7" r="6.2"/>
<circle cx="341.3" cy="1234.7" r="6.2"/>
<circle cx="349.7" cy="1238.1" r="6.2"/>
<circle cx="358.2" cy="1243.3" r="6.2"/>
<circle cx="366.7" cy="1256.1" r="6.2"/>
<circle cx="375.2" cy="1264.5" r="6.2"/>
<circle cx="383.6" cy="1273.0" r="6.2"/>
<circle cx="392.1" cy="1276.4" r="6.2"/>
<circle cx="400.6" cy="1264.0" r="6.2"/>
<circle cx="409.0" cy="1251.6" r="6.2"/>
<circle cx="417.5" cy="1241.5" r="6.2"/>
<circle cx="426.0" cy="1244.9" r="6.2"/>
<circle cx="434.5" cy="1246.0" r="6.2"/>
<circle cx="442.9" cy="1244.2" r="6.2"/>
<circle cx="451.4" cy="1243.3" r="6.2"/>
<circle cx="459.9" cy="1241.5" r="6.2"/>
<circle cx="468.4" cy="1241.5" r="6.2"/>
<circle cx="476.8" cy="1241.5" r="6.2"/>
<circle cx="485.3" cy="1239.2" r="6.2"/>
<circle cx="493.8" cy="1239.7" r="6.2"/>
<circle cx="502.2" cy="1237.4" r="6.2"/>
<circle cx="510.7" cy="1239.7" r="6.2"/>
<circle cx="519.2" cy="1242.6" r="6.2"/>
<circle cx="527.7" cy="1247.1" r="6.2"/>
<circle cx="536.1" cy="1253.2" r="6.2"/>
<circle cx="544.6" cy="1265.2" r="6.2"/>
<circle cx="553.1" cy="1278.7" r="6.2"/>
<circle cx="561.6" cy="1279.4" r="6.2"/>
<circle cx="570.0" cy="1271.9" r="6.2"/>
<circle cx="578.5" cy="1273.5" r="6.2"/>
<circle cx="587.0" cy="1275.8" r="6.2"/>
<circle cx="595.4" cy="1275.8" r="6.2"/>
<circle cx="603.9" cy="1273.0" r="6.2"/>
<circle cx="612.4" cy="1268.5" r="6.2"/>
<circle cx="620.9" cy="1269.7" r="6.2"/>
<circle cx="629.3" cy="1265.8" r="6.2"/>
<circle cx="637.8" cy="1262.2" r="6.2"/>
<circle cx="646.3" cy="1262.2" r="6.2"/>
<circle cx="654.8" cy="1261.3" r="6.2"/>
<circle cx="663.2" cy="1259.1" r="6.2"/>
<circle cx="671.7" cy="1257.3" r="6.2"/>
<circle cx="680.2" cy="1256.1" r="6.2"/>
<circle cx="688.7" cy="1258.4" r="6.2"/>
<circle cx="697.1" cy="1258.4" r="6.2"/>
<circle cx="705.6" cy="1256.8" r="6.2"/>
<circle cx="714.1" cy="1252.3" r="6.2"/>
<circle cx="722.5" cy="1250.9" r="6.2"/>
<circle cx="731.0" cy="1250.9" r="6.2"/>
<circle cx="739.5" cy="1256.1" r="6.2"/>
<circle cx="748.0" cy="1256.8" r="6.2"/>
<circle cx="756.4" cy="1258.4" r="6.2"/>
<circle cx="764.9" cy="1261.8" r="6.2"/>
<circle cx="773.4" cy="1266.3" r="6.2"/>
<circle cx="781.9" cy="1270.8" r="6.2"/>
<circle cx="790.3" cy="1279.4" r="6.2"/>
<circle cx="798.8" cy="1281.6" r="6.2"/>
<circle cx="807.3" cy="1271.9" r="6.2"/>
<circle cx="815.7" cy="1265.2" r="6.2"/>
<circle cx="824.2" cy="1260.0" r="6.2"/>
<circle cx="832.7" cy="1258.4" r="6.2"/>
<circle cx="841.2" cy="1255.0" r="6.2"/>
<circle cx="849.6" cy="1255.0" r="6.2"/>
<circle cx="858.1" cy="1253.9" r="6.2"/>
<circle cx="866.6" cy="1250.5" r="6.2"/>
<circle cx="875.1" cy="1247.1" r="6.2"/>
<circle cx="883.5" cy="1241.9" r="6.2"/>
<circle cx="892.0" cy="1232.9" r="6.2"/>
<circle cx="900.5" cy="1227.5" r="6.2"/>
<circle cx="908.9" cy="1221.6" r="6.2"/>
<circle cx="917.4" cy="1221.2" r="6.2"/>
<circle cx="925.9" cy="1220.1" r="6.2"/>
<circle cx="934.4" cy="1217.1" r="6.2"/>
<circle cx="942.8" cy="1214.9" r="6.2"/>
<circle cx="951.3" cy="1214.9" r="6.2"/>
<circle cx="959.8" cy="1215.5" r="6.2"/>
<circle cx="968.3" cy="1214.9" r="6.2"/>
<circle cx="976.7" cy="1217.8" r="6.2"/>
<circle cx="985.2" cy="1224.6" r="6.2"/>
<circle cx="993.7" cy="1230.2" r="6.2"/>
<circle cx="1002.1" cy="1235.8" r="6.2"/>
<circle cx="1010.6" cy="1240.3" r="6.2"/>
<circle cx="1019.1" cy="1243.3" r="6.2"/>
<circle cx="1027.6" cy="1244.2" r="6.2"/>
<circle cx="1036.0" cy="1242.6" r="6.2"/>
<circle cx="1044.5" cy="1239.2" r="6.2"/>
<circle cx="1053.0" cy="1234.7" r="6.2"/>
<circle cx="1061.5" cy="1229.1" r="6.2"/>
<circle cx="1069.9" cy="1224.6" r="6.2"/>
<circle cx="1078.4" cy="1221.4" r="6.2"/>
<circle cx="1086.9" cy="1218.5" r="6.2"/>
<circle cx="1095.3" cy="1214.4" r="6.2"/>
<circle cx="1103.8" cy="1211.7" r="6.2"/>
<circle cx="1112.3" cy="1210.6" r="6.2"/>
<circle cx="1120.8" cy="1212.2" r="6.2"/>
<circle cx="1129.2" cy="1213.1" r="6.2"/>
<circle cx="1137.7" cy="1214.2" r="6.2"/>
<circle cx="1146.2" cy="1216.0" r="6.2"/>
<circle cx="1154.7" cy="1218.0" r="6.2"/>
<circle cx="1163.1" cy="1220.1" r="6.2"/>
<circle cx="1171.6" cy="1222.1" r="6.2"/>
<circle cx="1180.1" cy="1225.7" r="6.2"/>
<circle cx="1188.5" cy="1234.7" r="6.2"/>
<circle cx="1197.0" cy="1246.0" r="6.2"/>
<circle cx="1205.5" cy="1257.3" r="6.2"/>
<circle cx="1214.0" cy="1267.4" r="6.2"/>
<circle cx="1222.4" cy="1271.9" r="6.2"/>
<circle cx="1230.9" cy="1271.9" r="6.2"/>
<circle cx="1239.4" cy="1270.3" r="6.2"/>
<circle cx="1247.9" cy="1268.5" r="6.2"/>
<circle cx="1256.3" cy="1265.8" r="6.2"/>
<circle cx="1264.8" cy="1262.9" r="6.2"/>
<circle cx="1273.3" cy="1256.1" r="6.2"/>
<circle cx="1281.7" cy="1247.8" r="6.2"/>
<circle cx="1290.2" cy="1240.3" r="6.2"/>
<circle cx="1298.7" cy="1227.5" r="6.2"/>
<circle cx="1307.2" cy="1217.1" r="6.2"/>
<circle cx="1315.6" cy="1215.5" r="6.2"/>
<circle cx="1324.1" cy="1213.3" r="6.2"/>
<circle cx="1332.6" cy="1215.5" r="6.2"/>
<circle cx="1341.1" cy="1218.5" r="6.2"/>
<circle cx="1349.5" cy="1221.2" r="6.2"/>
<circle cx="1358.0" cy="1225.7" r="6.2"/>
<circle cx="1366.5" cy="1231.3" r="6.2"/>
<circle cx="1374.9" cy="1241.9" r="6.2"/>
<circle cx="1383.4" cy="1249.4" r="6.2"/>
<circle cx="1391.9" cy="1259.1" r="6.2"/>
<circle cx="1400.4" cy="1266.3" r="6.2"/>
<circle cx="1408.8" cy="1275.3" r="6.2"/>
<circle cx="1417.3" cy="1275.3" r="6.2"/>
<circle cx="1425.8" cy="1271.9" r="6.2"/>
<circle cx="1434.3" cy="1268.5" r="6.2"/>
<circle cx="1442.7" cy="1261.8" r="6.2"/>
<circle cx="1451.2" cy="1264.5" r="6.2"/>
<circle cx="1459.7" cy="1265.2" r="6.2"/>
<circle cx="1468.1" cy="1268.1" r="6.2"/>
<circle cx="1476.6" cy="1272.6" r="6.2"/>
<circle cx="1485.1" cy="1277.1" r="6.2"/>
<circle cx="1493.6" cy="1275.3" r="6.2"/>
<circle cx="1502.0" cy="1271.9" r="6.2"/>
<circle cx="1510.5" cy="1265.2" r="6.2"/>
<circle cx="1519.0" cy="1251.6" r="6.2"/>
<circle cx="1527.5" cy="1247.1" r="6.2"/>
<circle cx="1535.9" cy="1244.9" r="6.2"/>
<circle cx="1544.4" cy="1246.4" r="6.2"/>
<circle cx="1552.9" cy="1251.6" r="6.2"/>
<circle cx="1561.3" cy="1249.4" r="6.2"/>
<circle cx="1569.8" cy="1252.8" r="6.2"/>
<circle cx="1578.3" cy="1255.0" r="6.2"/>
<circle cx="1586.8" cy="1262.9" r="6.2"/>
<circle cx="1595.2" cy="1270.8" r="6.2"/>
<circle cx="1603.7" cy="1278.0" r="6.2"/>
<circle cx="1612.2" cy="1275.8" r="6.2"/>
<circle cx="1620.7" cy="1268.1" r="6.2"/>
<circle cx="1629.1" cy="1262.2" r="6.2"/>
<circle cx="1637.6" cy="1259.5" r="6.2"/>
<circle cx="1646.1" cy="1264.0" r="6.2"/>
<circle cx="1654.6" cy="1266.3" r="6.2"/>
<circle cx="1663.0" cy="1266.7" r="6.2"/>
<circle cx="1671.5" cy="1267.4" r="6.2"/>
<circle cx="1680.0" cy="1270.8" r="6.2"/>
<circle cx="1688.4" cy="1274.8" r="6.2"/>
<circle cx="1696.9" cy="1278.7" r="6.2"/>
<circle cx="1705.4" cy="1278.7" r="6.2"/>
<circle cx="1713.9" cy="1277.1" r="6.2"/>
<circle cx="1722.3" cy="1272.6" r="6.2"/>
<circle cx="1730.8" cy="1270.3" r="6.2"/>
<circle cx="1739.3" cy="1262.2" r="6.2"/>
<circle cx="1747.8" cy="1256.1" r="6.2"/>
<circle cx="1756.2" cy="1248.7" r="6.2"/>
<circle cx="1764.7" cy="1247.1" r="6.2"/>
<circle cx="1773.2" cy="1245.5" r="6.2"/>
<circle cx="1781.6" cy="1245.5" r="6.2"/>
<circle cx="1790.1" cy="1255.0" r="6.2"/>
<circle cx="1798.6" cy="1265.2" r="6.2"/>
<circle cx="1807.1" cy="1270.8" r="6.2"/>
<circle cx="1815.5" cy="1270.8" r="6.2"/>
<circle cx="1824.0" cy="1267.4" r="6.2"/>
<circle cx="1832.5" cy="1262.9" r="6.2"/>
<circle cx="1841.0" cy="1264.0" r="6.2"/>
<circle cx="1849.4" cy="1260.6" r="6.2"/>
<circle cx="1857.9" cy="1252.8" r="6.2"/>
<circle cx="1866.4" cy="1250.9" r="6.2"/>
<circle cx="1874.8" cy="1246.0" r="6.2"/>
<circle cx="1883.3" cy="1218.9" r="6.2"/>
<circle cx="1891.8" cy="1211.0" r="6.2"/>
<circle cx="1900.3" cy="1203.1" r="6.2"/>
<circle cx="1908.7" cy="1193.7" r="6.2"/>
<circle cx="1917.2" cy="1185.6" r="6.2"/>
<circle cx="1925.7" cy="1185.6" r="6.2"/>
<circle cx="1934.2" cy="1189.6" r="6.2"/>
<circle cx="1942.6" cy="1196.8" r="6.2"/>
<circle cx="1951.1" cy="1195.9" r="6.2"/>
<circle cx="1959.6" cy="1199.8" r="6.2"/>
<circle cx="1968.0" cy="1205.4" r="6.2"/>
<circle cx="1976.5" cy="1212.2" r="6.2"/>
<circle cx="1985.0" cy="1221.2" r="6.2"/>
<circle cx="1993.5" cy="1232.9" r="6.2"/>
<circle cx="2001.9" cy="1241.9" r="6.2"/>
<circle cx="2010.4" cy="1246.0" r="6.2"/>
<circle cx="2018.9" cy="1249.4" r="6.2"/>
<circle cx="2027.4" cy="1248.2" r="6.2"/>
<circle cx="2035.8" cy="1241.5" r="6.2"/>
<circle cx="2044.3" cy="1233.6" r="6.2"/>
<circle cx="2052.8" cy="1221.2" r="6.2"/>
<circle cx="2061.2" cy="1213.3" r="6.2"/>
<circle cx="2069.7" cy="1209.9" r="6.2"/>
<circle cx="2078.2" cy="1205.4" r="6.2"/>
<circle cx="2086.7" cy="1194.6" r="6.2"/>
<circle cx="2095.1" cy="1183.3" r="6.2"/>
<circle cx="2103.6" cy="1181.7" r="6.2"/>
<circle cx="2112.1" cy="1184.0" r="6.2"/>
<circle cx="2120.6" cy="1186.9" r="6.2"/>
<circle cx="2129.0" cy="1190.1" r="6.2"/>
<circle cx="2137.5" cy="1193.0" r="6.2"/>
</g></g>
<g clip-path="url(#a6)"><path d="M112.50 1160.75L118.41 1148.40M137.92 1160.75L156.92 1160.75M163.34 1160.75L169.06 1173.15M188.76 1160.75L197.38 1172.33M214.17 1160.75L215.46 1173.72M239.59 1160.75L256.73 1166.36M265.01 1160.75L274.68 1149.56M290.43 1160.75L296.14 1148.35M315.85 1160.75L322.53 1148.58M341.27 1160.75L343.15 1147.81M366.68 1160.75L374.11 1148.78M392.10 1160.75L405.04 1151.23M417.52 1160.75L426.78 1149.40M442.94 1160.75L452.65 1149.57M468.36 1160.75L477.62 1149.40M493.78 1160.75L501.38 1148.84M519.19 1160.75L526.44 1148.73M544.61 1160.75L553.72 1149.34M570.03 1160.75L589.03 1160.75M595.45 1160.75L614.45 1160.75M620.87 1160.75L639.13 1157.16M646.29 1160.75L663.43 1155.15M671.71 1160.75L684.44 1151.10M697.12 1160.75L704.55 1148.78M722.54 1160.75L730.15 1148.84M747.96 1160.75L754.65 1148.58M773.38 1160.75L781.16 1148.89M798.80 1160.75L813.42 1152.45M824.22 1160.75L837.45 1151.42M849.63 1160.75L863.79 1152.08M875.05 1160.75L884.00 1149.28M900.47 1160.75L908.07 1148.84M925.89 1160.75L931.70 1148.37M951.31 1160.75L955.81 1148.12M976.73 1160.75L983.60 1148.63M1002.14 1160.75L1010.10 1148.94M1027.56 1160.75L1037.98 1149.88M1052.98 1160.75L1062.08 1149.34M1078.40 1160.75L1087.19 1149.22M1103.82 1160.75L1111.94 1149.00M1129.24 1160.75L1136.30 1148.68M1154.65 1160.75L1161.34 1148.58M1180.07 1160.75L1187.32 1148.73M1205.49 1160.75L1214.85 1149.44M1230.91 1160.75L1246.33 1153.16M1256.33 1160.75L1270.40 1152.01M1281.75 1160.75L1291.60 1149.63M1307.17 1160.75L1315.12 1148.94M1332.58 1160.75L1340.19 1148.84M1358.00 1160.75L1365.25 1148.73M1383.42 1160.75L1390.30 1148.63M1408.84 1160.75L1419.39 1149.94M1434.26 1160.75L1448.35 1169.47M1459.68 1160.75L1471.28 1171.04M1485.09 1160.75L1503.97 1159.24M1510.51 1160.75L1515.40 1148.19M1535.93 1160.75L1543.17 1148.73M1561.35 1160.75L1568.04 1148.58M1586.77 1160.75L1594.89 1149.00M1612.19 1160.75L1629.18 1166.57M1637.60 1160.75L1650.99 1169.98M1663.02 1160.75L1674.51 1171.11M1688.44 1160.75L1702.94 1169.15M1713.86 1160.75L1725.06 1150.25M1739.28 1160.75L1746.52 1148.73M1764.70 1160.75L1773.39 1149.19M1790.12 1160.75L1798.90 1149.22M1815.53 1160.75L1825.95 1149.88M1840.95 1160.75L1853.68 1151.10M1866.37 1160.75L1875.78 1149.46M1891.79 1160.75L1899.03 1148.73M1917.21 1160.75L1924.08 1148.63M1942.63 1160.75L1949.36 1148.59M1968.04 1160.75L1972.74 1148.15M1993.46 1160.75L2000.52 1148.68M2018.88 1160.75L2026.12 1148.73M2044.30 1160.75L2053.12 1149.23M2069.72 1160.75L2078.34 1149.17M2095.14 1160.75L2102.92 1148.89M2120.55 1160.75L2127.98 1148.78" stroke="#000" stroke-width="4.4" fill="none"/><path d="M114.85 1146.20h7.12v4.4h-7.12ZM154.72 1158.55h4.40v4.4h-4.40ZM165.49 1170.95h7.13v4.4h-7.13ZM193.91 1170.13h6.95v4.4h-6.95ZM211.83 1171.52h7.25v4.4h-7.25ZM253.91 1164.16h5.63v4.4h-5.63ZM271.25 1147.36h6.86v4.4h-6.86ZM292.58 1146.15h7.13v4.4h-7.13ZM319.00 1146.38h7.08v4.4h-7.08ZM339.53 1145.61h7.25v4.4h-7.25ZM370.59 1146.58h7.03v4.4h-7.03ZM401.80 1149.03h6.49v4.4h-6.49ZM423.33 1147.20h6.90v4.4h-6.90ZM449.22 1147.37h6.86v4.4h-6.86ZM474.17 1147.20h6.90v4.4h-6.90ZM497.87 1146.64h7.02v4.4h-7.02ZM522.92 1146.53h7.04v4.4h-7.04ZM550.26 1147.14h6.91v4.4h-6.91ZM586.83 1158.55h4.40v4.4h-4.40ZM612.25 1158.55h4.40v4.4h-4.40ZM636.53 1154.96h5.19v4.4h-5.19ZM660.62 1152.95h5.63v4.4h-5.63ZM681.18 1148.90h6.52v4.4h-6.52ZM701.03 1146.58h7.03v4.4h-7.03ZM726.63 1146.64h7.02v4.4h-7.02ZM751.11 1146.38h7.08v4.4h-7.08ZM777.65 1146.69h7.01v4.4h-7.01ZM810.31 1150.25h6.23v4.4h-6.23ZM834.23 1149.22h6.45v4.4h-6.45ZM860.64 1149.88h6.31v4.4h-6.31ZM880.54 1147.08h6.92v4.4h-6.92ZM904.56 1146.64h7.02v4.4h-7.02ZM928.14 1146.17h7.12v4.4h-7.12ZM952.22 1145.92h7.18v4.4h-7.18ZM980.07 1146.43h7.07v4.4h-7.07ZM1006.60 1146.74h7.00v4.4h-7.00ZM1034.59 1147.68h6.79v4.4h-6.79ZM1058.63 1147.14h6.91v4.4h-6.91ZM1083.72 1147.02h6.94v4.4h-6.94ZM1108.45 1146.80h6.99v4.4h-6.99ZM1132.77 1146.48h7.06v4.4h-7.06ZM1157.80 1146.38h7.08v4.4h-7.08ZM1183.79 1146.53h7.04v4.4h-7.04ZM1211.40 1147.24h6.89v4.4h-6.89ZM1243.30 1150.96h6.07v4.4h-6.07ZM1267.24 1149.81h6.32v4.4h-6.32ZM1288.18 1147.43h6.85v4.4h-6.85ZM1311.62 1146.74h7.00v4.4h-7.00ZM1336.68 1146.64h7.02v4.4h-7.02ZM1361.72 1146.53h7.04v4.4h-7.04ZM1386.76 1146.43h7.07v4.4h-7.07ZM1416.00 1147.74h6.78v4.4h-6.78ZM1445.19 1167.27h6.32v4.4h-6.32ZM1467.95 1168.84h6.66v4.4h-6.66ZM1501.60 1157.04h4.73v4.4h-4.73ZM1511.81 1145.99h7.16v4.4h-7.16ZM1539.65 1146.53h7.04v4.4h-7.04ZM1564.50 1146.38h7.08v4.4h-7.08ZM1591.40 1146.80h6.99v4.4h-6.99ZM1626.34 1164.37h5.68v4.4h-5.68ZM1647.77 1167.78h6.43v4.4h-6.43ZM1671.17 1168.91h6.68v4.4h-6.68ZM1699.82 1166.95h6.25v4.4h-6.25ZM1721.70 1148.05h6.71v4.4h-6.71ZM1743.00 1146.53h7.04v4.4h-7.04ZM1769.91 1146.99h6.94v4.4h-6.94ZM1795.43 1147.02h6.94v4.4h-6.94ZM1822.56 1147.68h6.79v4.4h-6.79ZM1850.42 1148.90h6.52v4.4h-6.52ZM1872.34 1147.26h6.88v4.4h-6.88ZM1895.51 1146.53h7.04v4.4h-7.04ZM1920.55 1146.43h7.07v4.4h-7.07ZM1945.82 1146.39h7.07v4.4h-7.07ZM1969.15 1145.95h7.17v4.4h-7.17ZM1997.00 1146.48h7.06v4.4h-7.06ZM2022.60 1146.53h7.04v4.4h-7.04ZM2049.65 1147.03h6.93v4.4h-6.93ZM2074.87 1146.97h6.95v4.4h-6.95ZM2099.41 1146.69h7.01v4.4h-7.01ZM2124.46 1146.58h7.03v4.4h-7.03Z" fill="#000"/></g>
<text x="79.30" y="1272.3" class="tk" textLength="14.6" lengthAdjust="spacingAndGlyphs">3</text>
<text x="2148.5" y="1272.3" class="tk" textLength="37.8" lengthAdjust="spacingAndGlyphs">5.8</text>
<text x="79.30" y="1246.5" class="tk" textLength="14.6" lengthAdjust="spacingAndGlyphs">6</text>
<text x="2148.5" y="1246.5" class="tk" textLength="52.5" lengthAdjust="spacingAndGlyphs">11.7</text>
<text x="79.30" y="1220.6" class="tk" textLength="14.6" lengthAdjust="spacingAndGlyphs">9</text>
<text x="2148.5" y="1220.6" class="tk" textLength="52.5" lengthAdjust="spacingAndGlyphs">17.5</text>
<text x="71.45" y="1194.7" class="tk" textLength="30.3" lengthAdjust="spacingAndGlyphs">12</text>
<text x="2148.5" y="1194.7" class="tk" textLength="52.5" lengthAdjust="spacingAndGlyphs">23.3</text>
<text x="71.45" y="1168.8" class="tk" textLength="30.3" lengthAdjust="spacingAndGlyphs">15</text>
<text x="2148.5" y="1168.8" class="tk" textLength="52.5" lengthAdjust="spacingAndGlyphs">29.2</text>
<text transform="translate(57.2 1212.5) rotate(-90)" class="lb" textLength="51" lengthAdjust="spacingAndGlyphs" x="-25.5">m/s</text>
<text transform="translate(2235 1212.5) rotate(-90)" class="lb" textLength="85.5" lengthAdjust="spacingAndGlyphs" x="-42.8">nudos</text>
<text x="1027.8" y="1130.5" class="ti" textLength="123.1" lengthAdjust="spacingAndGlyphs">Los Vilos</text>
<text x="32.2" y="1313" class="dt" textLength="160.6" lengthAdjust="spacingAndGlyphs">28-Dec-2023</text>
<text x="235.5" y="1313" class="dt" textLength="160.6" lengthAdjust="spacingAndGlyphs">29-Dec-2023</text>
<text x="438.9" y="1313" class="dt" textLength="160.6" lengthAdjust="spacingAndGlyphs">30-Dec-2023</text>
<text x="642.2" y="1313" class="dt" textLength="160.6" lengthAdjust="spacingAndGlyphs">31-Dec-2023</text>
<text x="849.6" y="1313" class="dt" textLength="152.6" lengthAdjust="spacingAndGlyphs">01-Jan-2024</text>
<text x="1052.9" y="1313" class="dt" textLength="152.6" lengthAdjust="spacingAndGlyphs">02-Jan-2024</text>
<text x="1256.3" y="1313" class="dt" textLength="152.6" lengthAdjust="spacingAndGlyphs">03-Jan-2024</text>
<text x="1459.6" y="1313" class="dt" textLength="152.6" lengthAdjust="spacingAndGlyphs">04-Jan-2024</text>
<text x="1663.0" y="1313" class="dt" textLength="152.6" lengthAdjust="spacingAndGlyphs">05-Jan-2024</text>
<text x="1866.3" y="1313" class="dt" textLength="152.6" lengthAdjust="spacingAndGlyphs">06-Jan-2024</text>
<text x="982.7" y="1345" class="xl" textLength="281" lengthAdjust="spacingAndGlyphs">fecha (dia-mes-año)</text>
<rect x="984.5" y="1220.5" width="281" height="52.5" fill="#fff" stroke="#262626" stroke-width="1"/>
<path d="M993.5 1235.5H1059.6" stroke="#035a89" stroke-width="2.6"/>
<circle cx="1026.4" cy="1235.5" r="6.8" fill="#1b779d" stroke="#035a89" stroke-width="2.8"/>
<path d="M993.5 1257.4H1045" stroke="#000" stroke-width="4.4"/><path d="M1040.5 1253.3L1060.3 1257.4L1040.5 1262.6Z" fill="#000" stroke="#000" stroke-width="1.8" stroke-linejoin="round"/>
<text x="1066.6" y="1242" class="lg" textLength="188" lengthAdjust="spacingAndGlyphs">magnitud del viento</text>
<text x="1066.6" y="1264.5" class="lg" textLength="188" lengthAdjust="spacingAndGlyphs">dirección del viento</text>
</svg></body></html>
